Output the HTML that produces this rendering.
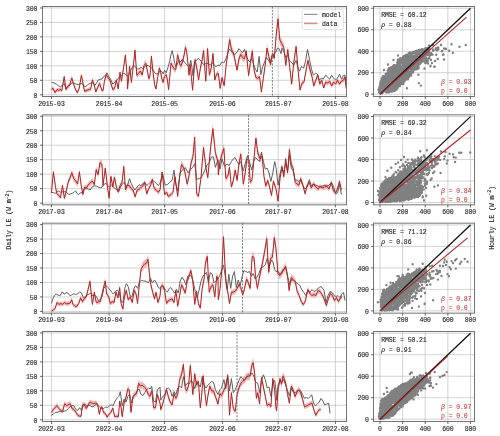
<!DOCTYPE html>
<html><head><meta charset="utf-8"><style>
html,body{margin:0;padding:0;background:#fff;width:500px;height:436px;overflow:hidden}
svg{display:block;will-change:transform}
text{font-family:"Liberation Mono", monospace;font-size:6.5px;fill:#222;stroke:#222;stroke-width:0.1px;letter-spacing:-0.12px}
</style></head><body>
<svg width="500" height="436" viewBox="0 0 500 436">
<g>
<line x1="42.5" x2="346.5" y1="94.75" y2="94.75" stroke="#b0b0b0" stroke-opacity="0.62" stroke-width="0.9"/>
<line x1="42.5" x2="346.5" y1="80.28" y2="80.28" stroke="#b0b0b0" stroke-opacity="0.62" stroke-width="0.9"/>
<line x1="42.5" x2="346.5" y1="65.82" y2="65.82" stroke="#b0b0b0" stroke-opacity="0.62" stroke-width="0.9"/>
<line x1="42.5" x2="346.5" y1="51.35" y2="51.35" stroke="#b0b0b0" stroke-opacity="0.62" stroke-width="0.9"/>
<line x1="42.5" x2="346.5" y1="36.89" y2="36.89" stroke="#b0b0b0" stroke-opacity="0.62" stroke-width="0.9"/>
<line x1="42.5" x2="346.5" y1="22.42" y2="22.42" stroke="#b0b0b0" stroke-opacity="0.62" stroke-width="0.9"/>
<line x1="42.5" x2="346.5" y1="7.96" y2="7.96" stroke="#b0b0b0" stroke-opacity="0.62" stroke-width="0.9"/>
<line x1="51.45" x2="51.45" y1="6.5" y2="96.5" stroke="#b0b0b0" stroke-opacity="0.62" stroke-width="0.9"/>
<line x1="109.1" x2="109.1" y1="6.5" y2="96.5" stroke="#b0b0b0" stroke-opacity="0.62" stroke-width="0.9"/>
<line x1="164.6" x2="164.6" y1="6.5" y2="96.5" stroke="#b0b0b0" stroke-opacity="0.62" stroke-width="0.9"/>
<line x1="222.4" x2="222.4" y1="6.5" y2="96.5" stroke="#b0b0b0" stroke-opacity="0.62" stroke-width="0.9"/>
<line x1="278.2" x2="278.2" y1="6.5" y2="96.5" stroke="#b0b0b0" stroke-opacity="0.62" stroke-width="0.9"/>
<line x1="335.4" x2="335.4" y1="6.5" y2="96.5" stroke="#b0b0b0" stroke-opacity="0.62" stroke-width="0.9"/>
<polygon points="51.4,87.3 53.0,86.0 55.0,90.7 57.0,87.5 58.8,88.2 60.6,87.3 61.8,88.8 64.2,73.9 66.0,87.5 67.8,84.0 69.6,83.1 71.8,75.3 73.8,82.5 75.6,87.5 77.4,90.7 79.2,86.3 81.4,72.4 83.0,81.2 84.6,89.4 87.0,88.2 89.4,87.3 90.6,87.5 92.4,77.2 94.2,82.5 95.8,90.1 97.8,85.0 99.6,81.0 101.4,86.9 102.0,88.8 103.2,88.2 104.4,78.7 106.2,72.2 108.0,74.9 109.8,77.5 111.0,81.2 112.8,87.5 114.6,86.3 116.4,77.5 118.2,86.9 120.0,69.3 121.4,78.7 123.6,64.2 125.4,51.3 127.2,73.7 127.6,86.9 129.6,63.0 131.4,80.0 133.4,61.7 135.0,46.2 136.8,72.7 138.6,70.5 140.4,68.0 142.2,72.2 144.0,62.3 145.8,59.8 147.6,69.3 148.8,76.2 150.0,73.1 151.4,52.5 153.0,69.3 154.6,82.5 156.0,86.9 157.8,73.7 159.4,64.9 160.8,69.9 162.0,76.8 163.2,80.0 164.4,73.7 166.2,71.8 167.4,77.5 168.6,87.5 169.8,73.7 171.0,59.8 172.8,63.6 174.6,66.1 175.8,66.8 177.6,51.0 178.8,56.0 180.0,61.7 181.2,62.3 182.4,58.6 184.2,51.0 185.4,43.2 186.6,47.2 187.8,58.6 189.0,72.4 190.2,61.1 191.4,74.9 192.6,88.2 193.8,71.2 195.0,56.0 196.8,64.9 198.6,77.5 200.4,64.9 202.2,56.0 203.6,46.6 205.0,68.6 205.8,78.7 207.6,44.5 209.4,72.4 211.2,64.9 213.0,49.7 214.8,77.5 216.6,71.2 218.4,70.5 220.2,86.3 222.0,74.9 224.2,83.5 226.0,63.2 227.9,47.8 229.7,34.9 231.5,45.9 233.4,48.8 235.2,57.5 237.0,67.1 238.9,55.5 240.7,50.7 242.6,53.6 244.4,55.5 246.2,46.9 248.6,72.9 250.4,59.4 252.3,46.9 254.1,67.1 255.9,74.8 257.8,75.8 259.6,73.8 261.4,90.2 263.3,75.8 265.1,62.3 267.0,44.0 268.8,52.6 270.6,61.3 272.5,49.8 274.3,54.6 276.1,31.5 278.0,13.2 279.8,35.3 281.6,39.2 281.8,39.2 283.8,43.4 285.8,62.0 287.8,45.4 289.7,64.1 291.7,81.7 293.7,59.9 296.1,42.3 298.0,66.2 300.0,87.9 302.0,80.7 304.0,79.6 305.9,68.2 307.9,56.8 309.9,66.2 311.9,73.4 313.8,83.8 315.8,77.6 317.8,72.4 319.8,81.7 321.7,77.6 323.7,85.9 325.7,79.6 327.7,80.7 329.6,78.6 331.6,83.8 333.6,79.6 335.6,81.7 337.5,77.6 339.5,81.7 341.5,78.6 343.5,77.6 345.0,74.5 346.4,86.9 346.4,91.1 345.0,79.8 343.5,82.6 341.5,83.6 339.5,86.4 337.5,82.6 335.6,86.4 333.6,84.5 331.6,88.3 329.6,83.6 327.7,85.4 325.7,84.5 323.7,90.1 321.7,82.6 319.8,86.4 317.8,77.9 315.8,82.6 313.8,88.3 311.9,78.9 309.9,72.3 307.9,63.9 305.9,74.2 304.0,84.5 302.0,85.4 300.0,92.0 298.0,72.3 296.1,50.7 293.7,66.7 291.7,86.4 289.7,70.4 287.8,53.6 285.8,68.6 283.8,51.7 281.8,47.9 281.6,47.9 279.8,44.4 278.0,24.4 276.1,40.9 274.3,61.8 272.5,57.5 270.6,67.9 268.8,60.1 267.0,52.2 265.1,68.8 263.3,81.0 261.4,94.1 259.6,79.3 257.8,81.0 255.9,80.1 254.1,73.2 252.3,54.9 250.4,66.2 248.6,78.4 246.2,54.9 244.4,62.7 242.6,61.0 240.7,58.3 238.9,62.7 237.0,73.2 235.2,64.4 233.4,56.6 231.5,54.0 229.7,44.0 227.9,55.7 226.0,69.7 224.2,88.0 222.0,80.3 220.2,90.5 218.4,76.3 216.6,76.8 214.8,82.5 213.0,57.5 211.2,71.1 209.4,78.0 207.6,52.7 205.8,83.7 205.0,74.6 203.6,54.6 202.2,63.2 200.4,71.1 198.6,82.5 196.8,71.1 195.0,63.2 193.8,76.8 192.6,92.2 191.4,80.3 190.2,67.7 189.0,78.0 187.8,65.4 186.6,55.2 185.4,51.5 184.2,58.6 182.4,65.4 181.2,68.9 180.0,68.3 178.8,63.2 177.6,58.6 175.8,72.8 174.6,72.3 172.8,70.0 171.0,66.6 169.8,79.1 168.6,91.7 167.4,82.5 166.2,77.4 164.4,79.1 163.2,84.8 162.0,82.0 160.8,75.7 159.4,71.1 157.8,79.1 156.0,91.1 154.6,87.1 153.0,75.1 151.4,60.0 150.0,78.5 148.8,81.4 147.6,75.1 145.8,66.6 144.0,68.9 142.2,77.8 140.4,74.0 138.6,76.3 136.8,78.2 135.0,54.3 133.4,68.3 131.4,84.8 129.6,69.4 127.6,91.1 127.2,79.1 125.4,58.8 123.6,70.6 121.4,83.7 120.0,75.1 118.2,91.1 116.4,82.5 114.6,90.5 112.8,91.7 111.0,86.0 109.8,82.5 108.0,80.3 106.2,77.8 104.4,83.7 103.2,92.2 102.0,92.8 101.4,91.1 99.6,85.7 97.8,89.4 95.8,93.9 94.2,87.1 92.4,82.3 90.6,91.7 89.4,91.4 87.0,92.2 84.6,93.4 83.0,86.0 81.4,78.0 79.2,90.5 77.4,94.5 75.6,91.7 73.8,87.1 71.8,80.6 69.6,87.7 67.8,88.5 66.0,91.7 64.2,79.3 61.8,92.8 60.6,91.4 58.8,92.2 57.0,91.7 55.0,94.5 53.0,90.3 51.4,91.4" fill="#efb8b8" stroke="none"/>
<polyline points="51.4,82.2 54.0,83.0 56.4,84.2 58.8,86.0 60.6,86.8 62.4,85.4 64.2,83.6 66.0,89.0 67.8,86.2 69.6,85.4 71.8,83.0 73.8,83.0 76.2,84.2 78.6,84.6 81.0,83.4 83.4,84.8 85.2,87.0 87.6,84.8 90.0,83.4 92.4,82.6 94.8,85.4 96.6,83.0 98.4,79.8 100.2,79.4 102.0,79.0 103.8,76.4 105.6,75.4 107.0,72.8 108.6,76.4 110.4,78.8 112.8,84.2 114.6,82.4 116.4,80.0 118.2,78.8 120.0,76.4 121.8,75.0 123.6,73.4 125.4,74.0 127.2,76.4 129.0,74.6 130.8,70.4 132.6,66.8 133.8,65.4 135.6,67.0 137.4,69.2 139.2,68.6 141.0,67.4 142.8,68.6 144.6,66.8 146.4,65.4 148.2,65.6 150.0,66.8 151.8,68.0 153.6,71.0 155.4,73.4 157.2,74.0 159.0,72.2 160.8,71.0 162.0,71.6 163.2,74.0 164.6,70.2 166.2,72.8 168.0,67.4 169.8,60.8 171.0,54.6 172.2,50.6 173.4,56.0 174.6,62.6 175.8,66.8 177.0,65.0 178.8,60.2 180.6,62.0 182.4,59.0 184.2,62.0 186.0,63.8 187.8,65.6 189.4,66.2 190.8,60.2 192.0,68.0 193.0,75.8 194.4,62.0 196.2,60.8 198.0,58.4 199.8,59.6 201.6,62.0 203.4,64.4 205.2,63.8 207.0,63.2 208.8,63.8 210.6,65.0 212.4,62.6 214.2,65.0 216.0,66.8 217.8,65.0 219.6,65.6 222.0,62.0 223.8,62.8 225.7,59.1 227.5,54.5 229.3,49.0 231.2,50.9 233.0,53.6 234.8,54.5 236.7,52.7 238.9,48.7 240.7,50.5 242.6,52.7 244.4,49.4 246.2,55.4 248.1,60.0 249.9,61.9 251.7,58.2 253.6,64.6 255.4,69.2 257.2,72.0 259.1,56.4 260.9,74.7 262.7,66.5 264.6,61.9 266.4,57.3 268.2,60.0 270.1,62.8 271.9,55.4 273.7,54.5 275.6,52.7 277.4,48.1 279.2,49.0 281.1,53.6 282.0,48.1 283.8,51.5 285.8,57.4 287.8,55.4 289.7,61.3 291.7,62.3 293.7,65.3 296.1,60.4 297.6,66.3 299.6,71.2 301.6,66.3 303.6,68.3 305.5,61.3 307.5,49.5 309.5,59.4 311.5,69.2 313.4,75.2 315.4,73.2 317.4,74.2 319.4,80.1 321.3,78.1 323.3,79.1 325.7,75.2 327.7,77.1 329.6,79.1 331.6,75.2 333.6,78.1 335.6,80.1 337.5,78.1 339.5,74.2 341.5,79.1 343.5,75.2 345.0,75.2 346.4,88.0" fill="none" stroke="#5e5e5e" stroke-width="1.0" stroke-linejoin="round"/>
<polyline points="51.4,89.4 53.0,88.2 55.0,92.6 57.0,89.6 58.8,90.2 60.6,89.4 61.8,90.8 64.2,76.6 66.0,89.6 67.8,86.2 69.6,85.4 71.8,78.0 73.8,84.8 75.6,89.6 77.4,92.6 79.2,88.4 81.4,75.2 83.0,83.6 84.6,91.4 87.0,90.2 89.4,89.4 90.6,89.6 92.4,79.8 94.2,84.8 95.8,92.0 97.8,87.2 99.6,83.4 101.4,89.0 102.0,90.8 103.2,90.2 104.4,81.2 106.2,75.0 108.0,77.6 109.8,80.0 111.0,83.6 112.8,89.6 114.6,88.4 116.4,80.0 118.2,89.0 120.0,72.2 121.4,81.2 123.6,67.4 125.4,55.0 127.2,76.4 127.6,89.0 129.6,66.2 131.4,82.4 133.4,65.0 135.0,50.2 136.8,75.4 138.6,73.4 140.4,71.0 142.2,75.0 144.0,65.6 145.8,63.2 147.6,72.2 148.8,78.8 150.0,75.8 151.4,56.2 153.0,72.2 154.6,84.8 156.0,89.0 157.8,76.4 159.4,68.0 160.8,72.8 162.0,79.4 163.2,82.4 164.4,76.4 166.2,74.6 167.4,80.0 168.6,89.6 169.8,76.4 171.0,63.2 172.8,66.8 174.6,69.2 175.8,69.8 177.6,54.8 178.8,59.6 180.0,65.0 181.2,65.6 182.4,62.0 184.2,54.8 185.4,47.4 186.6,51.2 187.8,62.0 189.0,75.2 190.2,64.4 191.4,77.6 192.6,90.2 193.8,74.0 195.0,59.6 196.8,68.0 198.6,80.0 200.4,68.0 202.2,59.6 203.6,50.6 205.0,71.6 205.8,81.2 207.6,48.6 209.4,75.2 211.2,68.0 213.0,53.6 214.8,80.0 216.6,74.0 218.4,73.4 220.2,88.4 222.0,77.6 224.2,85.7 226.0,66.5 227.9,51.8 229.7,39.5 231.5,49.9 233.4,52.7 235.2,61.0 237.0,70.1 238.9,59.1 240.7,54.5 242.6,57.3 244.4,59.1 246.2,50.9 248.6,75.6 250.4,62.8 252.3,50.9 254.1,70.1 255.9,77.5 257.8,78.4 259.6,76.6 261.4,92.1 263.3,78.4 265.1,65.5 267.0,48.1 268.8,56.4 270.6,64.6 272.5,53.6 274.3,58.2 276.1,36.2 278.0,18.8 279.8,39.9 281.6,43.5 281.8,43.6 283.8,47.5 285.8,65.3 287.8,49.5 289.7,67.3 291.7,84.1 293.7,63.3 296.1,46.5 298.0,69.2 300.0,90.0 302.0,83.1 304.0,82.1 305.9,71.2 307.9,60.4 309.9,69.2 311.9,76.2 313.8,86.0 315.8,80.1 317.8,75.2 319.8,84.1 321.7,80.1 323.7,88.0 325.7,82.1 327.7,83.1 329.6,81.1 331.6,86.0 333.6,82.1 335.6,84.1 337.5,80.1 339.5,84.1 341.5,81.1 343.5,80.1 345.0,77.1 346.4,89.0" fill="none" stroke="#b22222" stroke-width="1.0" stroke-linejoin="round"/>
<line x1="272.4" x2="272.4" y1="6.5" y2="96.5" stroke="#6a6a6a" stroke-width="0.9" stroke-dasharray="2.0,1.35"/>
<rect x="42.5" y="6.5" width="304" height="90" fill="none" stroke="#747474" stroke-width="1.0"/>
<line x1="40.0" x2="42.5" y1="94.75" y2="94.75" stroke="#4a4a4a" stroke-width="0.85"/>
<text x="37.4" y="97.55" text-anchor="end">0</text>
<line x1="40.0" x2="42.5" y1="80.28" y2="80.28" stroke="#4a4a4a" stroke-width="0.85"/>
<text x="37.4" y="83.08" text-anchor="end">50</text>
<line x1="40.0" x2="42.5" y1="65.82" y2="65.82" stroke="#4a4a4a" stroke-width="0.85"/>
<text x="37.4" y="68.62" text-anchor="end">100</text>
<line x1="40.0" x2="42.5" y1="51.35" y2="51.35" stroke="#4a4a4a" stroke-width="0.85"/>
<text x="37.4" y="54.15" text-anchor="end">150</text>
<line x1="40.0" x2="42.5" y1="36.89" y2="36.89" stroke="#4a4a4a" stroke-width="0.85"/>
<text x="37.4" y="39.69" text-anchor="end">200</text>
<line x1="40.0" x2="42.5" y1="22.42" y2="22.42" stroke="#4a4a4a" stroke-width="0.85"/>
<text x="37.4" y="25.22" text-anchor="end">250</text>
<line x1="40.0" x2="42.5" y1="7.96" y2="7.96" stroke="#4a4a4a" stroke-width="0.85"/>
<text x="37.4" y="10.76" text-anchor="end">300</text>
<line x1="51.45" x2="51.45" y1="96.5" y2="99" stroke="#4a4a4a" stroke-width="0.85"/>
<text x="51.45" y="105.8" text-anchor="middle">2015-03</text>
<line x1="109.1" x2="109.1" y1="96.5" y2="99" stroke="#4a4a4a" stroke-width="0.85"/>
<text x="109.1" y="105.8" text-anchor="middle">2015-04</text>
<line x1="164.6" x2="164.6" y1="96.5" y2="99" stroke="#4a4a4a" stroke-width="0.85"/>
<text x="164.6" y="105.8" text-anchor="middle">2015-05</text>
<line x1="222.4" x2="222.4" y1="96.5" y2="99" stroke="#4a4a4a" stroke-width="0.85"/>
<text x="222.4" y="105.8" text-anchor="middle">2015-06</text>
<line x1="278.2" x2="278.2" y1="96.5" y2="99" stroke="#4a4a4a" stroke-width="0.85"/>
<text x="278.2" y="105.8" text-anchor="middle">2015-07</text>
<line x1="335.4" x2="335.4" y1="96.5" y2="99" stroke="#4a4a4a" stroke-width="0.85"/>
<text x="335.4" y="105.8" text-anchor="middle">2015-08</text>
</g>
<g>
<line x1="373.5" x2="474.5" y1="94.2" y2="94.2" stroke="#b0b0b0" stroke-opacity="0.62" stroke-width="0.9"/>
<line x1="380" x2="380" y1="6.5" y2="96.5" stroke="#b0b0b0" stroke-opacity="0.62" stroke-width="0.9"/>
<line x1="373.5" x2="474.5" y1="72.72" y2="72.72" stroke="#b0b0b0" stroke-opacity="0.62" stroke-width="0.9"/>
<line x1="402.62" x2="402.62" y1="6.5" y2="96.5" stroke="#b0b0b0" stroke-opacity="0.62" stroke-width="0.9"/>
<line x1="373.5" x2="474.5" y1="51.24" y2="51.24" stroke="#b0b0b0" stroke-opacity="0.62" stroke-width="0.9"/>
<line x1="425.24" x2="425.24" y1="6.5" y2="96.5" stroke="#b0b0b0" stroke-opacity="0.62" stroke-width="0.9"/>
<line x1="373.5" x2="474.5" y1="29.76" y2="29.76" stroke="#b0b0b0" stroke-opacity="0.62" stroke-width="0.9"/>
<line x1="447.86" x2="447.86" y1="6.5" y2="96.5" stroke="#b0b0b0" stroke-opacity="0.62" stroke-width="0.9"/>
<line x1="373.5" x2="474.5" y1="8.28" y2="8.28" stroke="#b0b0b0" stroke-opacity="0.62" stroke-width="0.9"/>
<line x1="470.48" x2="470.48" y1="6.5" y2="96.5" stroke="#b0b0b0" stroke-opacity="0.62" stroke-width="0.9"/>
<path d="M380.5 91.1h0M398.6 60.6h0M402.3 83.3h0M389.6 86.6h0M392.4 67.4h0M409.3 59.7h0M410.7 62.3h0M400.3 69.1h0M418.4 57.8h0M408.5 74.0h0M387.8 82.4h0M414.9 56.2h0M387.6 84.6h0M386.3 76.9h0M381.7 91.8h0M411.4 68.7h0M406.0 55.0h0M393.9 80.3h0M399.6 78.4h0M399.6 84.7h0M409.4 54.0h0M405.5 55.9h0M394.5 76.1h0M386.0 74.1h0M383.1 76.1h0M386.3 82.6h0M388.2 91.9h0M384.0 86.3h0M384.8 90.3h0M409.6 55.5h0M396.7 88.6h0M378.5 89.9h0M408.7 66.3h0M396.0 89.6h0M394.2 87.4h0M419.1 50.0h0M388.1 75.6h0M422.8 59.6h0M416.3 57.6h0M398.5 79.3h0M407.6 59.1h0M410.8 62.1h0M388.6 73.0h0M404.1 67.5h0M405.6 76.6h0M390.4 76.9h0M384.5 76.8h0M386.5 86.4h0M392.6 68.7h0M396.9 71.1h0M401.9 80.3h0M382.2 78.3h0M410.1 53.5h0M399.5 59.1h0M395.8 72.1h0M425.3 63.1h0M402.1 71.0h0M395.5 77.0h0M397.0 67.1h0M388.3 76.5h0M395.4 89.8h0M413.8 62.1h0M407.8 59.4h0M404.2 73.9h0M406.8 55.3h0M406.0 76.7h0M402.4 61.9h0M406.3 73.8h0M381.9 81.8h0M424.6 54.4h0M380.8 93.6h0M407.5 78.1h0M402.4 73.2h0M387.6 89.8h0M383.7 89.3h0M414.1 61.7h0M397.3 82.2h0M410.8 72.8h0M387.9 84.6h0M388.1 73.4h0M408.4 54.7h0M400.2 80.6h0M405.4 66.3h0M390.7 79.0h0M408.5 70.8h0M432.9 49.4h0M395.0 77.9h0M416.9 55.1h0M383.4 89.2h0M415.6 66.9h0M396.1 79.2h0M428.1 54.3h0M394.0 65.1h0M395.3 81.2h0M401.4 71.2h0M397.9 60.2h0M406.0 67.5h0M381.6 87.8h0M380.7 90.8h0M411.5 70.8h0M426.1 51.8h0M405.4 74.5h0M415.0 52.5h0M380.7 92.7h0M412.5 65.6h0M412.8 67.9h0M398.0 84.3h0M390.9 88.6h0M380.9 82.6h0M414.9 56.6h0M412.0 55.2h0M425.4 56.9h0M401.8 81.2h0M404.1 56.6h0M423.2 55.5h0M437.9 47.7h0M388.9 81.5h0M425.7 55.6h0M406.2 77.8h0M380.3 83.2h0M398.3 80.2h0M396.2 77.1h0M405.1 68.1h0M412.9 52.5h0M402.9 81.5h0M417.8 50.8h0M395.3 73.3h0M394.1 81.8h0M381.2 82.9h0M410.1 55.3h0M424.5 59.5h0M397.7 85.4h0M394.4 75.2h0M401.7 63.3h0M394.2 74.0h0M423.5 49.7h0M417.2 67.5h0M389.4 77.1h0M397.5 79.4h0M387.1 88.9h0M403.1 64.1h0M409.3 75.8h0M388.1 79.9h0M397.1 62.5h0M389.5 74.7h0M416.3 59.7h0M386.9 86.1h0M380.1 85.0h0M387.9 71.8h0M412.6 71.2h0M425.9 48.3h0M404.8 66.8h0M397.0 65.3h0M393.2 66.1h0M380.4 92.3h0M412.2 71.9h0M390.0 76.6h0M388.7 81.0h0M422.9 59.1h0M381.5 92.6h0M409.2 66.8h0M399.8 81.5h0M384.0 77.7h0M403.6 82.2h0M400.8 62.0h0M397.3 73.2h0M424.5 59.5h0M396.1 80.9h0M406.5 75.4h0M402.7 61.8h0M418.4 57.0h0M429.1 50.7h0M390.0 72.2h0M400.6 80.9h0M411.3 64.4h0M402.6 81.5h0M416.8 60.4h0M381.7 86.2h0M382.8 88.0h0M399.6 68.0h0M418.0 65.2h0M402.0 80.3h0M386.0 76.9h0M394.5 77.2h0M427.1 50.6h0M410.2 61.5h0M389.7 82.4h0M400.6 76.7h0M399.7 67.9h0M384.9 90.0h0M414.5 68.9h0M410.0 64.9h0M411.9 72.3h0M397.4 86.7h0M384.4 77.4h0M397.4 70.3h0M382.1 85.6h0M419.4 57.3h0M392.0 86.8h0M399.7 63.4h0M387.2 88.1h0M401.1 83.7h0M426.3 61.3h0M411.8 58.1h0M395.1 89.4h0M401.9 58.7h0M399.7 66.4h0M394.5 87.9h0M391.9 69.0h0M407.8 57.4h0M403.1 64.0h0M394.5 66.9h0M407.0 74.0h0M384.2 87.6h0M398.4 83.5h0M409.3 67.3h0M418.7 62.1h0M385.1 76.2h0M391.9 69.0h0M412.2 57.8h0M419.9 64.1h0M389.6 83.1h0M385.9 90.4h0M384.3 84.4h0M408.0 71.8h0M406.7 74.1h0M406.8 58.6h0M394.4 68.8h0M383.2 82.2h0M383.1 85.2h0M387.4 80.6h0M402.9 81.0h0M397.7 82.7h0M390.5 81.0h0M401.2 70.8h0M404.5 78.5h0M384.7 86.6h0M411.1 60.6h0M400.2 76.5h0M399.5 65.3h0M405.3 75.7h0M416.7 57.0h0M389.1 76.2h0M400.2 61.5h0M400.4 71.4h0M394.0 69.7h0M410.3 67.7h0M422.4 51.6h0M397.3 65.3h0M427.9 48.0h0M384.5 87.4h0M410.7 74.2h0M409.7 75.6h0M387.9 84.0h0M384.5 85.3h0M394.9 83.5h0M417.0 55.6h0M394.6 65.3h0M416.1 57.9h0M401.8 82.5h0M402.5 75.0h0M393.8 76.4h0M397.9 82.3h0M393.7 81.2h0M404.3 74.8h0M382.7 76.9h0M408.2 77.5h0M416.0 63.3h0M416.5 61.3h0M412.3 69.4h0M392.9 83.4h0M398.9 74.4h0M395.3 69.2h0M428.0 58.7h0M405.4 71.1h0M421.2 59.0h0M399.0 84.2h0M401.4 61.8h0M392.7 71.6h0M418.3 67.2h0M415.2 64.6h0M422.0 60.8h0M421.5 51.3h0M416.4 56.9h0M418.8 62.7h0M409.1 64.0h0M415.3 51.3h0M386.0 89.6h0M396.0 89.1h0M411.9 58.5h0M383.4 82.8h0M394.7 69.7h0M398.1 79.6h0M425.1 61.0h0M401.9 69.6h0M387.0 75.3h0M386.5 91.8h0M400.5 83.7h0M399.7 85.4h0M417.7 62.9h0M426.9 53.0h0M398.6 62.9h0M394.0 89.0h0M408.3 68.0h0M403.9 58.0h0M411.4 55.3h0M388.5 74.9h0M399.9 61.8h0M404.1 66.7h0M397.2 75.0h0M396.5 87.3h0M428.0 54.1h0M379.9 90.5h0M400.6 83.8h0M388.0 76.4h0M414.0 61.0h0M408.2 58.8h0M403.8 61.6h0M413.3 64.8h0M401.5 58.2h0M389.7 71.5h0M411.6 64.4h0M394.8 77.5h0M392.0 91.2h0M405.5 75.3h0M400.1 85.1h0M405.4 64.3h0M404.1 64.3h0M422.9 60.3h0M401.1 73.5h0M428.5 50.4h0M388.4 69.1h0M400.7 66.0h0M407.8 65.5h0M395.7 79.5h0M392.8 88.4h0M385.1 81.8h0M389.5 86.6h0M397.0 79.6h0M408.2 57.7h0M386.1 88.6h0M388.8 92.2h0M382.7 83.7h0M413.3 65.1h0M415.0 53.1h0M425.7 60.3h0M397.9 82.8h0M395.2 77.1h0M386.3 90.4h0M417.0 50.6h0M422.7 56.1h0M397.3 80.1h0M398.7 60.7h0M405.9 67.2h0M396.8 85.8h0M405.4 73.6h0M387.2 84.1h0M420.2 59.2h0M403.6 78.9h0M414.6 69.6h0M422.6 51.5h0M405.8 72.2h0M409.3 60.5h0M384.2 84.3h0M411.4 59.3h0M404.5 63.2h0M383.2 80.2h0M414.1 65.8h0M418.1 57.0h0M414.3 63.8h0M431.1 54.7h0M405.2 70.5h0M419.0 64.5h0M400.5 59.7h0M379.3 90.0h0M404.0 76.2h0M400.9 76.7h0M389.9 78.4h0M389.3 78.1h0M411.6 58.4h0M423.4 54.8h0M407.5 68.0h0M397.1 72.3h0M411.5 63.0h0M408.4 62.2h0M394.6 90.4h0M384.3 88.6h0M399.7 68.0h0M401.2 61.2h0M392.8 87.7h0M403.9 61.3h0M415.1 63.4h0M383.6 88.4h0M389.8 70.2h0M381.6 78.9h0M379.6 86.6h0M391.8 90.4h0M402.0 75.4h0M393.0 70.3h0M390.1 86.6h0M389.4 81.3h0M412.3 67.8h0M420.0 63.1h0M382.7 83.2h0M406.3 68.9h0M400.5 62.6h0M428.2 49.2h0M403.5 74.9h0M403.8 73.3h0M411.6 64.8h0M390.4 70.6h0M398.1 80.3h0M388.2 88.9h0M409.8 66.4h0M416.6 61.5h0M400.2 80.8h0M392.8 84.2h0M419.7 55.0h0M394.8 83.9h0M396.8 78.3h0M402.4 63.7h0M402.8 72.9h0M401.1 80.3h0M403.5 72.3h0M394.9 88.9h0M403.6 72.3h0M390.8 86.3h0M412.2 67.9h0M409.0 56.4h0M396.9 78.6h0M394.1 73.0h0M399.3 81.6h0M418.3 60.2h0M422.5 61.4h0M409.2 61.3h0M412.7 67.9h0M409.2 74.1h0M389.9 76.7h0M413.0 66.6h0M388.7 71.3h0M398.6 68.6h0M418.0 53.8h0M414.3 62.2h0M386.6 76.3h0M386.9 86.5h0M391.4 70.3h0M396.7 72.2h0M391.5 89.9h0M392.5 91.1h0M389.1 85.7h0M400.4 70.3h0M421.9 55.7h0M403.0 61.1h0M420.2 55.7h0M414.4 51.6h0M401.2 62.2h0M389.6 76.3h0M399.4 64.2h0M396.2 83.6h0M403.7 57.3h0M404.5 65.8h0M405.7 66.2h0M430.8 53.3h0M393.8 89.2h0M388.7 92.2h0M386.4 74.8h0M392.8 70.6h0M404.9 62.0h0M427.7 60.7h0M411.1 64.4h0M393.4 65.6h0M396.3 85.8h0M416.6 53.2h0M426.4 54.8h0M383.7 87.0h0M408.4 54.5h0M399.3 68.9h0M401.1 82.1h0M390.8 69.5h0M415.4 62.5h0M393.2 86.5h0M416.1 60.0h0M403.7 56.8h0M380.6 88.0h0M391.4 73.2h0M411.6 67.7h0M416.1 60.3h0M391.3 84.1h0M412.0 59.3h0M399.5 80.1h0M407.8 78.4h0M390.3 75.5h0M394.9 77.0h0M382.5 81.2h0M412.5 52.3h0M398.5 86.1h0M385.2 81.6h0M426.9 51.0h0M409.0 68.5h0M389.4 71.4h0M408.1 58.4h0M416.7 53.2h0M379.9 90.3h0M409.3 62.1h0M390.0 88.2h0M392.2 69.2h0M394.6 90.9h0M403.1 75.0h0M410.8 69.8h0M382.1 78.5h0M402.6 75.4h0M417.8 64.4h0M396.3 77.5h0M426.4 62.6h0M381.9 91.5h0M413.3 60.1h0M433.3 50.4h0M417.6 68.7h0M381.1 85.0h0M410.6 62.2h0M411.7 72.0h0M391.1 81.9h0M394.1 81.9h0M391.5 73.9h0M403.2 67.8h0M394.7 71.4h0M385.0 85.6h0M394.8 67.9h0M400.3 60.0h0M398.5 63.6h0M403.5 58.9h0M413.0 72.4h0M436.6 50.2h0M381.2 83.7h0M387.7 81.6h0M385.4 88.3h0M399.3 70.7h0M422.8 52.7h0M416.6 62.1h0M387.5 73.9h0M410.1 75.4h0M400.2 58.4h0M388.1 86.4h0M410.5 64.6h0M403.4 78.3h0M418.3 62.6h0M411.8 54.1h0M394.6 89.8h0M394.8 76.3h0M383.0 83.5h0M407.3 68.9h0M416.9 68.7h0M390.8 71.1h0M412.7 71.1h0M407.0 76.5h0M413.8 63.5h0M386.6 80.9h0M391.4 72.8h0M397.3 69.8h0M405.4 77.6h0M399.9 86.0h0M402.4 80.8h0M414.1 67.9h0M393.0 83.3h0M392.6 86.0h0M388.9 73.0h0M395.9 68.6h0M386.5 85.2h0M393.4 68.9h0M417.3 66.6h0M425.8 52.7h0M402.5 76.9h0M410.2 61.1h0M382.4 93.1h0M393.2 81.9h0M388.4 77.9h0M391.2 91.0h0M387.4 78.7h0M411.9 64.3h0M396.6 88.7h0M386.2 78.2h0M392.5 89.9h0M389.9 77.1h0M406.4 62.5h0M406.8 64.6h0M392.9 84.6h0M389.3 78.1h0M393.9 74.9h0M399.1 75.2h0M393.0 69.9h0M404.7 78.0h0M405.5 70.9h0M415.9 68.2h0M391.8 80.8h0M382.6 79.3h0M392.0 71.4h0M406.1 67.2h0M421.1 57.4h0M402.0 83.0h0M422.0 61.0h0M406.3 78.9h0M397.6 64.0h0M405.3 67.4h0M407.4 59.3h0M397.0 76.2h0M424.8 48.7h0M408.7 73.2h0M387.4 90.0h0M404.9 70.6h0M416.2 58.4h0M407.8 79.4h0M396.2 74.5h0M422.7 58.7h0M406.2 62.8h0M383.6 78.9h0M409.3 65.3h0M386.9 73.7h0M392.2 72.6h0M391.7 69.3h0M420.6 61.3h0M399.7 79.8h0M398.2 76.1h0M409.3 64.9h0M388.8 79.8h0M399.5 66.4h0M405.6 77.4h0M390.2 83.1h0M379.8 89.1h0M384.1 76.7h0M410.1 58.2h0M382.2 85.1h0M407.8 70.6h0M415.0 60.8h0M402.7 77.3h0M406.5 76.7h0M422.0 61.6h0M386.4 87.5h0M406.3 78.7h0M403.0 61.4h0M427.1 55.0h0M398.5 68.1h0M391.3 78.0h0M380.4 90.4h0M405.9 59.3h0M421.0 57.6h0M416.6 58.1h0M397.9 59.7h0M402.6 80.5h0M383.7 84.5h0M385.7 75.0h0M421.6 57.3h0M419.1 61.8h0M409.9 55.4h0M414.2 61.8h0M397.2 79.8h0M383.9 83.3h0M409.6 75.9h0M424.2 57.2h0M405.1 76.7h0M407.7 59.8h0M405.1 61.9h0M400.9 62.8h0M392.2 81.2h0M398.3 70.6h0M380.9 88.4h0M414.8 69.5h0M395.0 84.9h0M412.6 56.0h0M396.5 66.4h0M408.1 74.1h0M400.4 68.1h0M396.2 76.3h0M411.2 75.4h0M384.9 79.5h0M396.3 82.6h0M411.9 61.5h0M415.6 63.6h0M422.2 52.8h0M413.9 61.4h0M399.3 75.9h0M402.8 76.9h0M386.0 78.1h0M398.6 74.0h0M426.0 51.5h0M417.3 53.3h0M391.6 76.4h0M396.5 82.3h0M395.2 73.3h0M388.0 73.7h0M399.8 72.8h0M395.4 73.5h0M420.6 61.5h0M406.5 58.8h0M386.9 80.1h0M412.7 58.5h0M414.8 62.9h0M384.4 86.7h0M385.6 80.9h0M382.1 91.1h0M383.4 90.2h0M414.3 68.2h0M402.1 62.6h0M397.8 69.7h0M423.3 58.8h0M381.7 92.0h0M394.8 65.1h0M413.2 58.4h0M411.3 66.0h0M411.8 70.6h0M404.4 79.5h0M387.7 72.4h0M401.3 68.4h0M399.1 70.5h0M393.8 68.1h0M411.5 67.6h0M406.5 57.2h0M399.2 70.3h0M380.6 84.8h0M411.1 67.2h0M426.3 49.5h0M431.2 53.2h0M398.4 66.4h0M398.5 68.1h0M397.4 87.7h0M407.6 74.4h0M380.5 82.8h0M429.3 57.8h0M398.9 61.6h0M399.4 68.8h0M403.8 59.7h0M418.5 51.8h0M405.6 65.2h0M403.3 59.1h0M398.6 65.3h0M396.4 83.5h0M380.0 88.9h0M415.4 66.6h0M411.5 66.3h0M412.6 59.3h0M421.3 55.5h0M428.0 49.4h0M425.1 61.7h0M389.1 67.9h0M407.0 61.8h0M419.7 52.7h0M394.3 89.8h0M419.1 64.4h0M429.4 49.2h0M420.9 60.5h0M404.1 55.9h0M390.0 82.5h0M423.2 50.0h0M385.5 91.5h0M395.4 85.4h0M391.4 76.8h0M388.3 80.1h0M403.3 72.6h0M392.6 74.9h0M416.4 66.3h0M410.4 54.0h0M405.1 72.2h0M406.8 75.8h0M411.5 56.9h0M413.1 59.8h0M391.5 88.8h0M399.8 65.0h0M404.5 59.5h0M389.8 72.1h0M422.7 53.2h0M393.4 65.8h0M387.7 75.5h0M380.7 81.9h0M414.7 64.3h0M380.8 82.0h0M389.0 77.3h0M426.3 60.5h0M404.7 78.8h0M395.9 74.8h0M386.3 88.5h0M393.1 79.8h0M412.9 69.3h0M394.4 78.0h0M417.3 55.0h0M406.0 57.7h0M421.6 55.6h0M399.9 71.6h0M391.7 89.4h0M401.6 68.8h0M386.7 77.7h0M380.5 92.3h0M428.2 49.9h0M379.1 92.5h0M378.7 89.8h0M410.7 53.1h0M432.7 54.6h0M399.7 60.6h0M400.2 83.8h0M402.5 66.2h0M390.9 69.3h0M405.1 61.4h0M388.5 89.4h0M396.0 79.2h0M402.7 75.5h0M416.1 55.8h0M411.0 68.3h0M407.4 74.5h0M396.8 75.8h0M412.2 72.0h0M402.3 68.0h0M398.5 66.4h0M388.3 83.7h0M385.7 89.0h0M421.6 56.5h0M396.5 75.9h0M384.3 85.3h0M384.6 89.2h0M411.5 67.8h0M385.6 81.9h0M409.8 66.0h0M384.4 88.5h0M390.8 91.5h0M413.3 67.8h0M390.9 87.2h0M397.7 86.9h0M382.4 87.4h0M395.1 74.8h0M403.1 58.0h0M402.9 67.0h0M421.7 55.3h0M403.0 77.4h0M407.2 71.2h0M407.4 60.6h0M407.4 76.5h0M397.4 76.5h0M394.8 82.9h0M389.5 88.0h0M390.5 75.5h0M394.9 65.1h0M422.2 60.0h0M414.3 57.2h0M411.6 61.8h0M413.8 52.8h0M396.2 82.9h0M396.7 75.9h0M382.0 81.8h0M410.9 73.8h0M394.7 88.2h0M383.9 85.5h0M393.9 84.6h0M392.7 77.7h0M384.4 90.4h0M405.9 54.9h0M380.8 81.2h0M403.7 61.4h0M398.3 85.0h0M389.5 75.0h0M406.1 68.2h0M421.6 49.4h0M413.3 56.0h0M398.1 76.9h0M383.7 81.8h0M426.6 62.5h0M391.4 67.6h0M429.0 55.0h0M404.5 81.3h0M397.2 80.2h0M391.9 75.6h0M408.2 57.4h0M406.2 73.0h0M412.6 55.7h0M392.5 69.7h0M415.0 61.1h0M395.6 88.4h0M418.8 67.4h0M407.1 71.7h0M402.2 62.2h0M404.4 64.1h0M392.2 73.9h0M419.8 50.0h0M396.5 82.2h0M425.5 56.2h0M416.3 54.7h0M388.8 86.5h0M396.3 75.0h0M386.8 75.4h0M397.3 72.7h0M406.9 68.9h0M419.0 57.4h0M394.7 79.2h0M402.9 60.9h0M394.7 88.8h0M390.7 73.7h0M384.0 81.6h0M386.7 92.5h0M390.7 71.8h0M397.7 87.3h0M435.7 49.4h0M398.9 78.8h0M395.9 85.7h0M388.1 76.8h0M386.6 83.5h0M429.3 58.4h0M397.2 76.3h0M407.0 61.9h0M392.4 73.5h0M383.1 87.6h0M405.1 60.2h0M385.7 74.0h0M413.2 71.8h0M388.4 89.6h0M421.4 61.1h0M414.7 52.3h0M425.6 57.7h0M401.7 74.3h0M383.5 81.7h0M391.5 87.8h0M397.2 88.6h0M409.9 66.2h0M415.9 56.4h0M396.7 82.0h0M407.0 60.2h0M381.4 85.2h0M406.3 57.9h0M402.7 80.2h0M388.2 78.2h0M425.7 51.6h0M384.5 76.9h0M390.1 82.2h0M421.8 59.7h0M407.0 71.6h0M401.8 63.3h0M399.3 64.5h0M404.8 62.3h0M403.8 59.2h0M405.1 80.1h0M394.4 90.2h0M403.1 60.4h0M394.5 84.0h0M393.1 85.6h0M403.1 78.5h0M400.8 60.2h0M393.5 69.0h0M404.5 76.7h0M407.5 73.0h0M399.7 75.4h0M399.7 72.6h0M381.3 86.8h0M390.2 69.2h0M402.2 69.6h0M381.2 87.2h0M379.3 90.8h0M421.1 50.2h0M406.3 61.6h0M420.0 52.6h0M402.8 73.3h0M424.8 56.7h0M388.4 84.8h0M424.2 50.7h0M435.9 48.3h0M388.3 89.6h0M419.5 60.3h0M385.3 77.3h0M426.3 54.0h0M396.0 89.5h0M429.2 50.8h0M411.8 69.5h0M421.0 62.6h0M429.0 53.0h0M386.2 73.6h0M389.0 86.6h0M425.2 51.1h0M424.2 54.9h0M406.6 76.9h0M411.0 55.6h0M390.5 80.6h0M395.4 83.7h0M393.8 84.4h0M391.7 67.4h0M399.8 64.0h0M395.3 70.3h0M397.1 87.8h0M384.5 85.4h0M412.7 67.9h0M403.3 67.9h0M389.9 69.1h0M404.4 77.4h0M408.8 74.6h0M397.1 75.0h0M411.6 57.5h0M383.8 82.4h0M395.1 76.9h0M409.3 59.8h0M418.8 51.2h0M385.6 82.8h0M390.8 69.1h0M407.8 55.0h0M403.9 63.8h0M423.5 56.7h0M385.7 90.9h0M403.1 70.7h0M412.3 70.3h0M415.2 67.4h0M402.4 66.7h0M423.1 61.3h0M438.4 49.2h0M400.5 68.1h0M381.8 84.0h0M398.8 74.5h0M397.8 79.1h0M392.6 73.4h0M388.9 73.7h0M383.5 91.5h0M394.6 79.2h0M399.7 81.6h0M393.6 84.4h0M390.1 74.6h0M395.4 71.1h0M392.3 85.0h0M402.5 66.3h0M408.7 77.5h0M415.5 58.6h0M389.8 88.7h0M395.9 79.1h0M420.1 55.6h0M401.9 68.1h0M387.3 88.3h0M412.2 53.3h0M401.5 78.5h0M389.6 79.3h0M427.5 48.8h0M394.6 81.4h0M395.9 81.6h0M408.6 53.3h0M421.2 50.3h0M397.7 87.5h0M410.5 55.8h0M415.2 52.2h0M412.3 70.4h0M388.9 81.7h0M386.4 91.6h0M382.0 90.9h0M409.9 54.8h0M403.6 68.2h0M394.0 88.0h0M392.9 78.2h0M403.7 58.7h0M400.6 77.1h0M396.5 67.1h0M401.7 67.9h0M379.4 87.4h0M414.0 57.0h0M405.7 61.8h0M406.7 66.0h0M407.2 60.2h0M408.0 62.0h0M401.7 63.3h0M401.2 82.8h0M417.8 52.2h0M392.8 80.2h0M396.5 73.3h0M403.4 81.0h0M388.2 86.6h0M429.6 55.8h0M419.8 60.1h0M388.7 87.4h0M399.8 58.7h0M407.0 57.0h0M392.4 83.8h0M405.4 61.2h0M405.7 56.3h0M416.4 58.1h0M392.3 81.0h0M416.0 62.9h0M412.8 56.3h0M384.9 82.3h0M395.0 82.0h0M410.8 68.0h0M403.5 62.9h0M410.1 72.3h0M423.1 54.2h0M400.1 70.4h0M384.1 77.4h0M406.6 79.3h0M412.8 61.7h0M393.7 80.2h0M403.2 76.3h0M397.2 82.7h0M393.2 75.6h0M403.1 77.3h0M392.8 79.4h0M398.6 86.0h0M392.8 91.0h0M408.8 58.4h0M396.5 89.5h0M418.4 68.2h0M392.5 90.6h0M419.3 60.4h0M418.7 53.5h0M422.0 49.1h0M397.5 86.2h0M408.4 63.4h0M388.5 78.1h0M392.4 75.1h0M425.0 49.3h0M386.2 79.2h0M404.5 68.0h0M387.2 74.0h0M398.5 71.4h0M396.9 86.4h0M382.6 78.3h0M400.0 60.1h0M391.0 86.0h0M399.4 76.6h0M404.4 77.1h0M382.1 81.2h0M402.4 66.7h0M387.8 91.5h0M393.9 73.4h0M395.2 78.9h0M418.5 61.2h0M388.1 72.3h0M417.5 60.3h0M410.7 64.7h0M387.4 80.7h0M406.6 78.2h0M394.0 91.1h0M395.9 86.0h0M393.8 80.4h0M414.5 55.4h0M403.3 68.2h0M409.7 56.0h0M397.8 85.5h0M397.2 82.8h0M420.4 59.2h0M397.0 80.7h0M393.6 67.1h0M407.2 73.3h0M391.2 67.3h0M404.9 70.9h0M401.2 81.7h0M409.8 65.6h0M412.8 65.0h0M379.7 88.5h0M410.0 72.2h0M400.8 77.9h0M391.7 76.3h0M411.0 69.9h0M406.4 77.5h0M385.4 86.2h0M417.0 57.8h0M388.1 87.8h0M397.9 69.8h0M385.7 75.6h0M399.7 61.1h0M412.2 65.0h0M410.3 55.7h0M401.9 71.4h0M402.5 75.2h0M411.1 61.3h0M412.8 69.2h0M395.8 83.4h0M415.6 67.0h0M402.0 76.6h0M390.4 83.9h0M420.5 60.8h0M407.6 76.9h0M406.5 74.1h0M381.9 78.1h0M420.2 62.1h0M402.0 75.6h0M392.0 91.6h0M405.0 69.5h0M400.4 71.6h0M415.3 67.1h0M393.1 75.2h0M419.9 54.6h0M401.7 69.6h0M391.2 81.9h0M403.0 66.2h0M400.6 78.4h0M400.2 62.4h0M416.2 64.7h0M427.7 61.3h0M402.0 83.7h0M397.5 79.8h0M387.8 73.1h0M382.7 85.6h0M405.3 72.1h0M397.7 87.7h0M412.5 58.6h0M408.0 58.7h0M399.5 76.6h0M412.5 58.3h0M401.8 59.2h0M388.8 90.9h0M403.2 65.6h0M392.0 69.3h0M410.0 52.4h0M402.5 63.6h0M410.7 65.6h0M406.4 75.2h0M416.2 69.3h0M382.1 88.2h0M395.1 71.8h0M413.6 56.4h0M424.7 53.0h0M382.2 86.5h0M385.8 82.1h0M413.2 65.5h0M412.7 52.3h0M388.4 79.8h0M390.3 74.5h0M393.2 77.5h0M379.7 90.2h0M383.4 76.3h0M415.2 55.8h0M383.8 87.3h0M401.6 70.0h0M421.1 56.3h0M378.8 89.3h0M418.5 64.3h0M393.8 78.6h0M386.7 87.5h0M410.7 54.7h0M397.1 83.5h0M405.0 77.0h0M413.1 62.4h0M405.1 64.3h0M411.7 54.2h0M401.4 63.1h0M391.2 90.3h0M409.5 64.9h0M415.9 68.6h0M397.5 68.6h0M413.7 69.1h0M398.3 68.8h0M408.3 70.9h0M405.6 79.2h0M389.4 87.6h0M395.9 76.4h0M385.2 85.5h0M397.4 86.1h0M409.7 54.6h0M400.4 59.2h0M415.3 60.0h0M418.7 58.7h0M404.4 69.9h0M412.7 60.7h0M381.6 82.8h0M422.9 54.7h0M396.2 87.1h0M411.1 57.8h0M418.1 56.8h0M390.4 89.1h0M387.6 70.7h0M388.6 76.1h0M409.0 72.4h0M417.8 53.0h0M397.8 73.8h0M412.5 72.6h0M394.6 79.3h0M392.1 80.1h0M402.3 58.8h0M384.9 76.8h0M382.5 92.3h0M392.9 74.3h0M404.8 63.9h0M417.9 65.4h0M414.1 62.5h0M402.4 75.5h0M394.7 86.4h0M405.4 73.7h0M395.4 82.1h0M400.5 75.0h0M427.9 52.0h0M393.7 71.2h0M391.8 82.8h0M386.8 84.4h0M430.7 54.9h0M402.2 59.0h0M393.0 70.2h0M388.5 80.9h0M383.9 87.6h0M418.0 59.8h0M383.8 85.7h0M403.8 66.6h0M403.2 56.6h0M407.5 76.2h0M404.1 67.6h0M418.4 74.8h0M418.9 83.1h0M420.9 85.6h0M407.0 88.2h0M403.4 84.1h0M444.4 48.6h0M446.0 49.1h0M441.8 51.2h0M442.9 54.8h0M443.9 59.4h0M437.7 58.9h0M435.1 61.0h0M430.5 66.2h0M434.6 66.7h0M436.2 54.8h0M432.0 63.1h0M433.1 50.7h0M437.2 50.1h0M451.5 44.3h0M459.5 46.7h0M465.8 45.0h0M449.2 50.7h0M452.9 52.7h0M444.1 48.4h0M445.8 48.6h0M442.3 50.9h0M443.5 54.4h0M444.1 59.5h0M437.8 59.0h0M434.3 66.8h0M430.5 65.8h0M437.2 50.4h0M438.3 47.5h0M424.5 68.5h0M428.0 63.5h0M431.0 60.0h0M426.0 58.0h0M441.0 45.0h0M433.0 45.0h0M429.0 45.5h0M393.5 60.0h0M398.0 55.5h0M388.0 64.5h0M384.0 70.0h0" stroke="#808080" stroke-width="2.4" stroke-linecap="round" fill="none"/>
<line x1="380" y1="94.2" x2="470.48" y2="8.28" stroke="#111" stroke-width="1.3"/>
<line x1="380" y1="94.2" x2="466.52" y2="17.22" stroke="#b22222" stroke-width="1.05"/>
<text x="381.2" y="17.1">RMSE = 60.12</text>
<text x="381.2" y="27.1"><tspan font-style="italic">ρ</tspan> = 0.88</text>
<text x="441.1" y="84.4" style="fill:#c03838;stroke:#c03838;stroke-width:0.06px"><tspan font-style="italic">β</tspan> = 0.93</text>
<text x="441.1" y="93.2" style="fill:#c03838;stroke:#c03838;stroke-width:0.06px">p = 0.0</text>
<rect x="373.5" y="6.5" width="101" height="90" fill="none" stroke="#747474" stroke-width="1.0"/>
<line x1="371.0" x2="373.5" y1="94.2" y2="94.2" stroke="#4a4a4a" stroke-width="0.85"/>
<text x="368.9" y="96.9" text-anchor="end">0</text>
<line x1="380" x2="380" y1="96.5" y2="99" stroke="#4a4a4a" stroke-width="0.85"/>
<text x="380" y="105.8" text-anchor="middle">0</text>
<line x1="371.0" x2="373.5" y1="72.72" y2="72.72" stroke="#4a4a4a" stroke-width="0.85"/>
<text x="368.9" y="75.42" text-anchor="end">200</text>
<line x1="402.62" x2="402.62" y1="96.5" y2="99" stroke="#4a4a4a" stroke-width="0.85"/>
<text x="402.62" y="105.8" text-anchor="middle">200</text>
<line x1="371.0" x2="373.5" y1="51.24" y2="51.24" stroke="#4a4a4a" stroke-width="0.85"/>
<text x="368.9" y="53.94" text-anchor="end">400</text>
<line x1="425.24" x2="425.24" y1="96.5" y2="99" stroke="#4a4a4a" stroke-width="0.85"/>
<text x="425.24" y="105.8" text-anchor="middle">400</text>
<line x1="371.0" x2="373.5" y1="29.76" y2="29.76" stroke="#4a4a4a" stroke-width="0.85"/>
<text x="368.9" y="32.46" text-anchor="end">600</text>
<line x1="447.86" x2="447.86" y1="96.5" y2="99" stroke="#4a4a4a" stroke-width="0.85"/>
<text x="447.86" y="105.8" text-anchor="middle">600</text>
<line x1="371.0" x2="373.5" y1="8.28" y2="8.28" stroke="#4a4a4a" stroke-width="0.85"/>
<text x="368.9" y="10.98" text-anchor="end">800</text>
<line x1="470.48" x2="470.48" y1="96.5" y2="99" stroke="#4a4a4a" stroke-width="0.85"/>
<text x="470.48" y="105.8" text-anchor="middle">800</text>
</g>
<g>
<line x1="42.5" x2="346.5" y1="203.08" y2="203.08" stroke="#b0b0b0" stroke-opacity="0.62" stroke-width="0.9"/>
<line x1="42.5" x2="346.5" y1="188.62" y2="188.62" stroke="#b0b0b0" stroke-opacity="0.62" stroke-width="0.9"/>
<line x1="42.5" x2="346.5" y1="174.15" y2="174.15" stroke="#b0b0b0" stroke-opacity="0.62" stroke-width="0.9"/>
<line x1="42.5" x2="346.5" y1="159.69" y2="159.69" stroke="#b0b0b0" stroke-opacity="0.62" stroke-width="0.9"/>
<line x1="42.5" x2="346.5" y1="145.22" y2="145.22" stroke="#b0b0b0" stroke-opacity="0.62" stroke-width="0.9"/>
<line x1="42.5" x2="346.5" y1="130.75" y2="130.75" stroke="#b0b0b0" stroke-opacity="0.62" stroke-width="0.9"/>
<line x1="42.5" x2="346.5" y1="116.29" y2="116.29" stroke="#b0b0b0" stroke-opacity="0.62" stroke-width="0.9"/>
<line x1="51.45" x2="51.45" y1="114.83" y2="204.83" stroke="#b0b0b0" stroke-opacity="0.62" stroke-width="0.9"/>
<line x1="109.1" x2="109.1" y1="114.83" y2="204.83" stroke="#b0b0b0" stroke-opacity="0.62" stroke-width="0.9"/>
<line x1="164.6" x2="164.6" y1="114.83" y2="204.83" stroke="#b0b0b0" stroke-opacity="0.62" stroke-width="0.9"/>
<line x1="222.4" x2="222.4" y1="114.83" y2="204.83" stroke="#b0b0b0" stroke-opacity="0.62" stroke-width="0.9"/>
<line x1="278.2" x2="278.2" y1="114.83" y2="204.83" stroke="#b0b0b0" stroke-opacity="0.62" stroke-width="0.9"/>
<line x1="335.4" x2="335.4" y1="114.83" y2="204.83" stroke="#b0b0b0" stroke-opacity="0.62" stroke-width="0.9"/>
<polygon points="51.4,190.7 53.4,168.5 55.3,182.8 56.8,191.5 58.7,193.1 60.5,195.5 62.5,182.8 64.4,196.3 66.2,189.1 68.1,179.6 70.0,174.8 71.8,169.3 73.8,175.6 75.6,178.0 77.6,181.2 79.4,168.5 81.1,182.0 82.9,192.3 84.7,184.4 86.7,185.2 88.2,182.0 90.2,180.4 92.3,178.0 94.3,182.0 96.2,166.1 98.1,171.6 99.9,158.9 102.0,160.5 103.0,182.8 105.3,164.5 107.3,182.8 109.1,196.3 110.9,173.2 112.9,184.4 114.4,174.0 116.4,184.4 118.2,189.1 120.2,182.8 122.0,179.6 123.8,162.9 125.5,187.5 127.3,182.8 129.2,182.8 131.1,186.0 133.0,187.5 135.2,194.7 137.1,187.5 139.1,186.8 140.9,185.2 143.2,182.8 144.7,179.6 146.7,191.5 148.8,186.0 150.8,182.0 152.3,176.4 154.2,186.0 156.4,187.5 158.3,189.9 160.0,187.5 162.1,168.6 164.6,192.3 166.5,189.7 168.3,194.3 171.2,192.3 173.0,190.3 174.9,173.5 177.7,194.3 179.6,173.5 181.5,160.7 184.3,165.6 187.2,181.4 189.0,172.6 191.5,156.8 192.8,153.8 194.7,132.1 196.6,191.3 198.4,194.3 200.9,175.5 203.5,142.9 206.0,164.7 207.8,174.5 210.7,141.9 212.9,123.2 215.4,148.9 218.0,157.7 218.3,171.6 220.1,156.8 222.0,149.8 223.9,143.9 225.8,175.5 227.7,173.5 229.5,163.7 231.4,184.4 233.3,177.5 235.2,166.6 237.1,177.5 238.9,160.7 240.8,149.8 243.3,181.4 245.2,169.6 247.0,154.8 248.9,156.8 250.2,179.5 252.1,176.5 254.0,153.8 255.9,133.1 257.8,148.9 260.2,154.8 262.1,151.8 264.0,173.5 265.8,183.4 267.7,177.5 269.6,184.4 271.5,193.3 273.4,178.5 276.0,186.4 278.1,199.3 280.0,175.6 281.9,162.7 283.8,173.6 285.7,154.8 287.6,169.7 289.4,144.9 291.3,160.8 293.2,164.7 295.1,179.5 297.0,181.1 298.9,182.5 300.7,175.6 302.6,181.5 305.1,191.4 307.5,181.5 309.4,179.5 311.3,185.5 313.5,181.1 315.8,184.5 318.3,186.5 320.1,183.5 322.0,185.5 324.5,184.5 326.7,183.5 329.0,186.5 331.4,179.5 333.3,188.4 335.8,190.4 337.7,185.5 339.5,178.6 341.4,187.5 341.4,192.4 339.5,184.3 337.7,190.6 335.8,195.1 333.3,193.3 331.4,185.2 329.0,191.5 326.7,188.8 324.5,189.7 322.0,190.6 320.1,188.8 318.3,191.5 315.8,189.7 313.5,186.6 311.3,190.6 309.4,185.2 307.5,187.0 305.1,195.9 302.6,187.0 300.7,181.6 298.9,187.9 297.0,186.6 295.1,185.2 293.2,171.8 291.3,168.2 289.4,153.9 287.6,176.3 285.7,162.9 283.8,179.8 281.9,170.0 280.0,181.6 278.1,203.1 276.0,191.4 273.4,184.2 271.5,197.6 269.6,189.6 267.7,183.4 265.8,188.7 264.0,179.8 262.1,160.1 260.2,162.8 257.8,157.4 255.9,143.2 254.0,161.9 252.1,182.5 250.2,185.1 248.9,164.6 247.0,162.8 245.2,176.2 243.3,186.9 240.8,158.3 238.9,168.2 237.1,183.4 235.2,173.5 233.3,183.4 231.4,189.6 229.5,170.8 227.7,179.8 225.8,181.6 223.9,153.0 222.0,158.3 220.1,164.6 218.3,178.0 218.0,165.5 215.4,157.4 212.9,134.2 210.7,151.2 207.8,180.7 206.0,171.7 203.5,152.1 200.9,181.6 198.4,198.5 196.6,195.9 194.7,142.3 192.8,161.9 191.5,164.6 189.0,178.9 187.2,186.9 184.3,172.6 181.5,168.2 179.6,179.8 177.7,198.5 174.9,179.8 173.0,195.0 171.2,196.8 168.3,198.5 166.5,194.4 164.6,196.8 162.1,175.3 160.0,192.5 158.3,194.6 156.4,192.5 154.2,191.0 152.3,182.4 150.8,187.4 148.8,191.0 146.7,196.1 144.7,185.3 143.2,188.1 140.9,190.3 139.1,191.7 137.1,192.5 135.2,198.9 133.0,192.5 131.1,191.0 129.2,188.1 127.3,188.1 125.5,192.5 123.8,170.1 122.0,185.3 120.2,188.1 118.2,193.9 116.4,189.6 114.4,180.2 112.9,189.6 110.9,179.5 109.1,200.4 107.3,188.1 105.3,171.6 103.0,188.1 102.0,168.0 99.9,166.5 98.1,178.1 96.2,173.0 94.3,187.4 92.3,183.8 90.2,186.0 88.2,187.4 86.7,190.3 84.7,189.6 82.9,196.8 81.1,187.4 79.4,175.2 77.6,186.7 75.6,183.8 73.8,181.7 71.8,175.9 70.0,180.9 68.1,185.3 66.2,193.9 64.4,200.4 62.5,188.1 60.5,199.7 58.7,197.5 56.8,196.1 55.3,188.1 53.4,175.2 51.4,195.3" fill="#efb8b8" stroke="none"/>
<polyline points="51.4,192.3 53.4,192.7 55.6,193.3 57.2,191.5 58.7,190.8 60.2,192.3 61.7,191.5 63.5,192.3 65.5,191.2 67.0,193.0 69.0,194.5 70.8,193.8 72.3,193.3 74.1,192.3 75.6,190.8 76.8,193.0 78.4,194.8 80.2,193.0 82.2,192.3 83.7,189.2 85.2,188.5 86.7,188.2 88.2,189.2 90.2,190.0 92.0,187.0 94.3,185.8 96.5,186.2 98.8,187.3 100.3,187.7 102.0,187.0 103.8,184.7 105.8,183.2 107.6,185.5 109.4,187.0 111.4,184.7 113.3,187.0 115.2,188.5 117.0,190.0 118.5,192.3 120.5,187.0 122.4,183.9 124.2,182.4 126.1,187.0 128.0,183.9 129.5,178.6 131.1,183.2 133.0,187.0 134.8,190.0 137.1,187.0 139.1,184.7 140.9,185.5 142.7,183.9 144.7,182.1 146.7,185.5 148.5,183.9 150.8,181.7 152.3,180.2 154.5,181.7 156.8,183.9 158.3,185.5 160.0,183.2 160.3,182.3 162.7,173.8 165.1,185.1 167.4,184.6 169.7,182.3 172.1,180.4 174.0,170.1 175.9,184.2 177.7,190.8 180.2,172.9 182.4,170.1 185.3,167.6 188.1,172.9 190.9,169.1 192.8,167.3 194.7,163.5 196.6,179.5 199.0,178.5 201.3,177.6 204.1,172.0 206.5,165.4 208.8,163.5 211.6,156.9 213.5,156.9 215.4,167.3 218.0,159.7 218.3,164.4 220.1,169.1 222.0,158.8 224.5,166.3 226.9,163.9 229.2,165.4 231.4,161.6 233.3,158.8 235.2,157.5 237.1,161.6 238.9,164.4 240.8,161.6 243.3,171.0 245.7,161.6 247.6,155.6 249.5,161.6 251.7,170.1 253.6,161.6 255.5,157.5 257.4,159.7 259.6,161.6 261.5,152.2 263.4,161.6 265.3,169.1 267.2,168.2 269.0,172.9 270.9,181.4 272.8,172.9 274.7,161.6 276.0,167.3 278.1,185.2 280.0,173.9 281.9,167.3 283.8,173.0 285.7,162.6 287.6,171.1 289.4,155.1 291.3,168.3 293.2,171.1 295.1,179.6 297.0,180.1 298.9,181.4 300.7,179.6 302.6,185.2 305.1,189.0 307.5,186.1 309.4,179.6 311.3,186.1 313.5,183.9 315.8,185.2 318.3,186.1 320.1,187.1 322.0,186.1 324.5,185.2 326.7,186.1 329.0,185.2 331.4,182.4 333.3,186.1 335.8,194.1 337.7,192.7 339.5,184.3 341.4,194.6" fill="none" stroke="#5e5e5e" stroke-width="1.0" stroke-linejoin="round"/>
<polyline points="51.4,193.0 53.4,171.8 55.3,185.5 56.8,193.8 58.7,195.3 60.5,197.6 62.5,185.5 64.4,198.3 66.2,191.5 68.1,182.4 70.0,177.9 71.8,172.6 73.8,178.6 75.6,180.9 77.6,183.9 79.4,171.8 81.1,184.7 82.9,194.5 84.7,187.0 86.7,187.7 88.2,184.7 90.2,183.2 92.3,180.9 94.3,184.7 96.2,169.5 98.1,174.8 99.9,162.7 102.0,164.2 103.0,185.5 105.3,168.0 107.3,185.5 109.1,198.3 110.9,176.4 112.9,187.0 114.4,177.1 116.4,187.0 118.2,191.5 120.2,185.5 122.0,182.4 123.8,166.5 125.5,190.0 127.3,185.5 129.2,185.5 131.1,188.5 133.0,190.0 135.2,196.8 137.1,190.0 139.1,189.2 140.9,187.7 143.2,185.5 144.7,182.4 146.7,193.8 148.8,188.5 150.8,184.7 152.3,179.4 154.2,188.5 156.4,190.0 158.3,192.3 160.0,190.0 162.1,172.0 164.6,194.5 166.5,192.1 168.3,196.4 171.2,194.5 173.0,192.6 174.9,176.7 177.7,196.4 179.6,176.7 181.5,164.4 184.3,169.1 187.2,184.2 189.0,175.7 191.5,160.7 192.8,157.9 194.7,137.2 196.6,193.6 198.4,196.4 200.9,178.5 203.5,147.5 206.0,168.2 207.8,177.6 210.7,146.6 212.9,128.7 215.4,153.2 218.0,161.6 218.3,174.8 220.1,160.7 222.0,154.1 223.9,148.4 225.8,178.5 227.7,176.7 229.5,167.3 231.4,187.0 233.3,180.4 235.2,170.1 237.1,180.4 238.9,164.4 240.8,154.1 243.3,184.2 245.2,172.9 247.0,158.8 248.9,160.7 250.2,182.3 252.1,179.5 254.0,157.9 255.9,138.1 257.8,153.2 260.2,158.8 262.1,156.0 264.0,176.7 265.8,186.1 267.7,180.4 269.6,187.0 271.5,195.5 273.4,181.4 276.0,188.9 278.1,201.2 280.0,178.6 281.9,166.4 283.8,176.7 285.7,158.8 287.6,173.0 289.4,149.4 291.3,164.5 293.2,168.3 295.1,182.4 297.0,183.9 298.9,185.2 300.7,178.6 302.6,184.3 305.1,193.7 307.5,184.3 309.4,182.4 311.3,188.0 313.5,183.9 315.8,187.1 318.3,189.0 320.1,186.1 322.0,188.0 324.5,187.1 326.7,186.1 329.0,189.0 331.4,182.4 333.3,190.9 335.8,192.7 337.7,188.0 339.5,181.4 341.4,189.9" fill="none" stroke="#b22222" stroke-width="1.0" stroke-linejoin="round"/>
<line x1="248.5" x2="248.5" y1="114.83" y2="204.83" stroke="#6a6a6a" stroke-width="0.9" stroke-dasharray="2.0,1.35"/>
<rect x="42.5" y="114.83" width="304" height="90" fill="none" stroke="#747474" stroke-width="1.0"/>
<line x1="40.0" x2="42.5" y1="203.08" y2="203.08" stroke="#4a4a4a" stroke-width="0.85"/>
<text x="37.4" y="205.88" text-anchor="end">0</text>
<line x1="40.0" x2="42.5" y1="188.62" y2="188.62" stroke="#4a4a4a" stroke-width="0.85"/>
<text x="37.4" y="191.42" text-anchor="end">50</text>
<line x1="40.0" x2="42.5" y1="174.15" y2="174.15" stroke="#4a4a4a" stroke-width="0.85"/>
<text x="37.4" y="176.95" text-anchor="end">100</text>
<line x1="40.0" x2="42.5" y1="159.69" y2="159.69" stroke="#4a4a4a" stroke-width="0.85"/>
<text x="37.4" y="162.49" text-anchor="end">150</text>
<line x1="40.0" x2="42.5" y1="145.22" y2="145.22" stroke="#4a4a4a" stroke-width="0.85"/>
<text x="37.4" y="148.02" text-anchor="end">200</text>
<line x1="40.0" x2="42.5" y1="130.75" y2="130.75" stroke="#4a4a4a" stroke-width="0.85"/>
<text x="37.4" y="133.56" text-anchor="end">250</text>
<line x1="40.0" x2="42.5" y1="116.29" y2="116.29" stroke="#4a4a4a" stroke-width="0.85"/>
<text x="37.4" y="119.09" text-anchor="end">300</text>
<line x1="51.45" x2="51.45" y1="204.83" y2="207.33" stroke="#4a4a4a" stroke-width="0.85"/>
<text x="51.45" y="214.13" text-anchor="middle">2017-03</text>
<line x1="109.1" x2="109.1" y1="204.83" y2="207.33" stroke="#4a4a4a" stroke-width="0.85"/>
<text x="109.1" y="214.13" text-anchor="middle">2017-04</text>
<line x1="164.6" x2="164.6" y1="204.83" y2="207.33" stroke="#4a4a4a" stroke-width="0.85"/>
<text x="164.6" y="214.13" text-anchor="middle">2017-05</text>
<line x1="222.4" x2="222.4" y1="204.83" y2="207.33" stroke="#4a4a4a" stroke-width="0.85"/>
<text x="222.4" y="214.13" text-anchor="middle">2017-06</text>
<line x1="278.2" x2="278.2" y1="204.83" y2="207.33" stroke="#4a4a4a" stroke-width="0.85"/>
<text x="278.2" y="214.13" text-anchor="middle">2017-07</text>
<line x1="335.4" x2="335.4" y1="204.83" y2="207.33" stroke="#4a4a4a" stroke-width="0.85"/>
<text x="335.4" y="214.13" text-anchor="middle">2017-08</text>
</g>
<g>
<line x1="373.5" x2="474.5" y1="202.53" y2="202.53" stroke="#b0b0b0" stroke-opacity="0.62" stroke-width="0.9"/>
<line x1="380" x2="380" y1="114.83" y2="204.83" stroke="#b0b0b0" stroke-opacity="0.62" stroke-width="0.9"/>
<line x1="373.5" x2="474.5" y1="181.05" y2="181.05" stroke="#b0b0b0" stroke-opacity="0.62" stroke-width="0.9"/>
<line x1="402.62" x2="402.62" y1="114.83" y2="204.83" stroke="#b0b0b0" stroke-opacity="0.62" stroke-width="0.9"/>
<line x1="373.5" x2="474.5" y1="159.57" y2="159.57" stroke="#b0b0b0" stroke-opacity="0.62" stroke-width="0.9"/>
<line x1="425.24" x2="425.24" y1="114.83" y2="204.83" stroke="#b0b0b0" stroke-opacity="0.62" stroke-width="0.9"/>
<line x1="373.5" x2="474.5" y1="138.09" y2="138.09" stroke="#b0b0b0" stroke-opacity="0.62" stroke-width="0.9"/>
<line x1="447.86" x2="447.86" y1="114.83" y2="204.83" stroke="#b0b0b0" stroke-opacity="0.62" stroke-width="0.9"/>
<line x1="373.5" x2="474.5" y1="116.61" y2="116.61" stroke="#b0b0b0" stroke-opacity="0.62" stroke-width="0.9"/>
<line x1="470.48" x2="470.48" y1="114.83" y2="204.83" stroke="#b0b0b0" stroke-opacity="0.62" stroke-width="0.9"/>
<path d="M421.4 164.1h0M396.8 187.8h0M399.3 185.1h0M385.2 194.3h0M403.7 172.3h0M404.4 186.6h0M408.3 180.0h0M387.8 187.4h0M401.7 185.8h0M410.5 196.9h0M400.5 200.3h0M429.8 160.4h0M423.0 170.8h0M396.2 194.3h0M415.2 193.3h0M395.8 186.2h0M396.8 187.1h0M400.3 171.8h0M401.8 186.3h0M386.3 180.5h0M422.2 189.9h0M406.4 176.0h0M406.6 186.5h0M387.3 190.5h0M381.9 187.8h0M387.5 188.8h0M392.1 192.9h0M388.3 189.6h0M390.3 179.1h0M392.8 182.8h0M399.7 199.6h0M415.7 177.3h0M387.8 195.7h0M397.9 197.9h0M390.4 192.0h0M402.1 192.7h0M383.9 186.2h0M405.4 196.0h0M412.6 188.8h0M384.5 191.2h0M413.4 197.3h0M394.6 188.9h0M414.1 189.7h0M387.1 181.2h0M410.6 168.6h0M393.0 197.4h0M394.0 196.2h0M400.9 197.4h0M398.8 181.9h0M396.6 199.9h0M388.2 198.9h0M406.4 197.4h0M405.1 187.2h0M391.3 197.8h0M401.8 189.0h0M423.5 177.5h0M393.4 197.0h0M405.4 175.2h0M409.8 193.1h0M381.7 192.7h0M392.2 195.2h0M396.6 192.3h0M405.1 169.0h0M415.2 190.5h0M411.2 192.2h0M402.2 194.4h0M392.4 188.3h0M396.7 182.2h0M428.5 157.2h0M388.4 179.5h0M418.3 188.7h0M389.9 201.3h0M389.0 186.3h0M404.7 180.0h0M407.7 159.6h0M425.4 183.4h0M385.9 184.7h0M385.3 194.4h0M381.2 192.4h0M381.5 193.3h0M424.8 185.7h0M400.3 175.3h0M387.6 184.5h0M413.7 193.9h0M414.3 180.4h0M408.0 167.4h0M405.5 174.0h0M380.3 200.4h0M396.2 186.4h0M414.0 189.1h0M410.4 165.7h0M408.3 184.6h0M400.2 200.6h0M430.9 158.1h0M386.6 199.0h0M411.9 159.4h0M401.9 181.6h0M388.8 178.9h0M398.8 178.7h0M418.3 189.8h0M438.6 159.3h0M381.7 184.8h0M394.4 182.7h0M406.6 199.0h0M415.4 192.0h0M391.4 183.7h0M388.3 201.6h0M392.4 178.1h0M402.0 197.0h0M395.7 177.6h0M412.7 163.1h0M419.1 175.6h0M402.0 193.0h0M399.8 201.0h0M417.9 170.3h0M415.6 184.7h0M401.0 171.4h0M387.3 185.1h0M392.3 189.3h0M401.0 172.3h0M407.4 194.7h0M379.9 202.2h0M438.9 156.7h0M405.1 190.8h0M419.4 193.9h0M418.7 187.5h0M403.1 181.2h0M394.7 185.0h0M383.4 192.6h0M395.1 183.6h0M403.7 181.2h0M408.3 197.4h0M394.2 191.7h0M412.3 196.5h0M423.0 166.2h0M424.6 156.7h0M396.4 193.0h0M385.7 188.0h0M406.7 195.9h0M421.4 187.8h0M380.4 196.5h0M399.1 174.9h0M379.6 196.1h0M382.6 185.1h0M407.0 179.2h0M399.9 199.9h0M391.5 182.8h0M412.9 170.3h0M411.7 198.6h0M404.6 169.4h0M388.3 179.0h0M409.1 170.9h0M436.7 160.6h0M402.5 176.7h0M396.9 201.1h0M402.2 191.1h0M419.7 181.8h0M404.3 180.1h0M380.4 202.0h0M390.3 188.8h0M380.5 192.5h0M384.1 190.7h0M407.5 195.8h0M407.7 169.6h0M424.5 167.0h0M405.5 169.7h0M401.7 185.0h0M415.4 196.2h0M392.9 182.4h0M412.1 181.4h0M389.8 187.5h0M398.1 195.4h0M406.4 191.1h0M423.2 165.8h0M419.0 161.0h0M410.1 175.1h0M410.1 167.3h0M386.4 200.6h0M382.7 184.4h0M416.7 173.6h0M421.5 165.5h0M408.6 199.8h0M420.1 179.9h0M399.9 196.8h0M402.1 185.4h0M425.5 167.6h0M402.0 177.4h0M380.2 199.0h0M394.1 185.4h0M383.1 194.2h0M383.1 196.2h0M407.1 194.5h0M405.9 173.4h0M414.6 161.1h0M380.6 191.2h0M384.9 190.7h0M413.6 192.4h0M401.3 188.5h0M422.3 178.4h0M401.3 199.4h0M413.8 189.8h0M430.8 159.8h0M400.4 172.1h0M413.7 171.4h0M433.7 166.9h0M431.3 154.3h0M383.0 191.8h0M387.2 183.1h0M383.4 186.5h0M402.6 196.0h0M407.8 175.9h0M401.7 180.8h0M394.1 195.9h0M391.8 180.3h0M415.0 190.5h0M388.7 196.4h0M399.3 190.3h0M398.4 191.0h0M404.4 174.1h0M385.4 197.0h0M395.7 182.1h0M398.8 191.4h0M398.0 190.1h0M387.4 188.9h0M381.9 183.6h0M380.5 198.8h0M414.0 197.6h0M408.8 181.7h0M381.9 187.0h0M393.0 177.0h0M419.5 193.6h0M411.9 181.9h0M412.9 195.9h0M398.0 177.7h0M382.9 194.0h0M415.0 195.9h0M391.4 190.4h0M388.6 194.9h0M393.0 188.3h0M419.6 184.9h0M385.3 198.2h0M424.0 165.7h0M380.2 201.5h0M413.2 183.6h0M396.4 191.8h0M389.4 193.3h0M392.9 189.4h0M383.8 195.8h0M403.1 187.8h0M385.0 181.6h0M394.9 183.5h0M419.1 188.3h0M402.6 197.6h0M383.9 187.3h0M385.4 202.0h0M386.0 195.2h0M409.3 192.3h0M402.5 191.3h0M390.1 196.3h0M413.9 193.0h0M397.3 190.6h0M386.8 201.4h0M390.8 195.9h0M381.4 187.5h0M388.9 200.7h0M384.8 197.7h0M413.2 184.5h0M429.0 172.7h0M404.3 186.0h0M411.9 196.2h0M392.0 187.7h0M396.3 180.1h0M405.2 177.9h0M395.5 189.6h0M402.3 192.0h0M384.2 199.5h0M421.1 157.8h0M399.6 198.6h0M385.9 184.7h0M406.7 189.7h0M402.9 180.9h0M415.0 193.4h0M418.0 186.0h0M406.2 197.8h0M406.8 197.2h0M394.7 184.0h0M383.3 186.1h0M396.6 193.5h0M414.6 167.9h0M411.4 163.3h0M417.9 158.4h0M410.1 169.5h0M397.5 192.5h0M394.8 185.8h0M397.5 191.2h0M385.4 189.9h0M395.7 182.2h0M391.8 199.4h0M385.5 192.9h0M405.5 189.2h0M398.4 190.0h0M410.9 186.8h0M419.1 162.3h0M409.8 163.6h0M422.1 190.2h0M403.9 189.1h0M384.9 198.6h0M434.6 160.3h0M425.3 161.2h0M431.9 161.9h0M390.8 190.2h0M403.8 172.2h0M396.8 197.5h0M381.9 187.3h0M382.6 183.5h0M411.9 175.4h0M421.7 176.8h0M389.5 179.7h0M402.9 194.5h0M400.0 173.7h0M398.8 184.6h0M402.9 198.8h0M401.9 187.3h0M420.6 192.8h0M386.7 191.2h0M426.1 159.9h0M394.5 181.8h0M382.1 195.3h0M409.4 189.9h0M391.0 187.0h0M390.5 187.8h0M400.2 178.7h0M397.9 175.0h0M402.3 187.2h0M381.3 201.6h0M405.4 181.8h0M382.2 184.9h0M406.6 189.8h0M387.8 190.4h0M411.1 196.0h0M398.1 195.7h0M428.3 165.4h0M413.4 191.2h0M401.8 188.2h0M433.7 160.1h0M395.1 182.5h0M408.0 187.2h0M416.5 191.2h0M382.8 189.6h0M390.6 200.3h0M390.3 195.5h0M411.5 190.3h0M417.6 190.5h0M396.9 192.1h0M411.1 176.4h0M397.0 191.4h0M387.3 196.9h0M407.7 198.8h0M419.8 182.6h0M393.0 194.7h0M401.7 177.6h0M427.1 182.4h0M390.5 180.5h0M384.2 184.8h0M403.7 193.8h0M404.0 192.8h0M381.5 194.0h0M401.7 171.9h0M404.2 186.8h0M381.0 196.2h0M408.1 166.7h0M389.6 187.8h0M422.6 168.6h0M408.4 162.9h0M383.0 199.8h0M388.5 182.0h0M407.5 195.7h0M419.5 159.8h0M430.0 159.6h0M396.1 193.8h0M383.3 185.1h0M400.9 198.0h0M399.8 183.8h0M415.9 172.5h0M395.6 191.0h0M400.0 188.5h0M394.9 190.5h0M383.0 188.0h0M402.9 196.5h0M409.5 183.5h0M409.4 175.2h0M411.3 192.7h0M383.9 193.3h0M407.6 192.1h0M423.8 189.4h0M405.7 186.5h0M394.3 187.9h0M396.2 189.1h0M400.8 185.9h0M419.4 194.3h0M403.8 197.2h0M407.2 192.8h0M403.3 176.2h0M389.7 181.6h0M408.6 188.2h0M386.2 194.7h0M399.6 185.0h0M406.1 170.8h0M388.7 188.0h0M408.2 175.1h0M412.9 160.5h0M420.0 162.2h0M399.6 187.9h0M403.1 175.8h0M407.4 189.3h0M383.1 186.1h0M426.0 168.5h0M400.7 181.9h0M414.5 197.1h0M410.1 193.0h0M396.1 191.9h0M418.4 183.8h0M418.4 187.7h0M407.1 197.4h0M420.1 186.8h0M405.7 176.0h0M436.2 164.0h0M380.1 193.7h0M392.5 192.8h0M403.9 168.9h0M420.0 172.1h0M398.6 179.1h0M395.4 193.0h0M390.3 194.5h0M388.1 192.2h0M421.7 176.0h0M419.1 195.9h0M396.8 183.0h0M381.3 191.6h0M416.3 182.3h0M379.5 191.9h0M410.9 166.9h0M391.9 190.4h0M402.3 165.9h0M427.7 167.3h0M422.8 189.6h0M419.9 175.1h0M412.0 192.9h0M401.3 198.3h0M403.8 173.4h0M410.7 182.0h0M403.7 170.7h0M412.9 189.2h0M410.2 174.1h0M416.6 193.3h0M388.2 184.9h0M395.2 196.7h0M385.6 187.7h0M403.5 194.1h0M419.8 195.2h0M395.0 198.6h0M418.3 188.0h0M424.2 164.5h0M387.4 189.0h0M397.0 183.4h0M418.0 182.0h0M420.4 175.0h0M391.3 186.6h0M388.5 193.9h0M399.6 198.6h0M418.4 178.4h0M419.3 193.5h0M415.8 193.3h0M414.8 193.4h0M391.7 195.6h0M409.4 188.5h0M427.3 158.6h0M417.4 192.7h0M400.1 176.7h0M401.4 194.5h0M398.8 177.9h0M402.1 178.6h0M427.1 173.9h0M427.0 163.2h0M380.4 200.6h0M419.0 170.7h0M414.0 197.2h0M435.5 158.6h0M404.8 192.2h0M399.9 167.2h0M405.7 162.1h0M405.6 175.0h0M437.6 156.7h0M381.4 192.4h0M392.0 180.9h0M383.2 201.2h0M409.6 167.2h0M398.1 190.3h0M404.2 188.8h0M405.8 178.6h0M393.8 191.0h0M406.7 176.0h0M417.0 171.1h0M426.8 181.4h0M419.0 187.0h0M401.1 187.5h0M411.6 195.8h0M413.1 188.1h0M394.9 180.1h0M407.0 165.0h0M414.7 171.0h0M399.8 186.9h0M420.8 183.1h0M409.2 197.5h0M406.8 177.3h0M394.7 178.4h0M404.6 189.0h0M399.5 198.9h0M404.6 172.0h0M406.4 190.3h0M400.3 200.9h0M387.0 193.9h0M383.1 198.6h0M408.2 173.8h0M423.2 173.9h0M401.3 181.8h0M410.4 182.2h0M397.8 194.5h0M388.0 195.3h0M404.3 192.2h0M403.2 194.1h0M399.7 194.9h0M393.1 200.5h0M400.4 195.4h0M401.8 183.1h0M426.7 169.8h0M386.7 192.7h0M394.9 194.7h0M391.0 178.9h0M401.3 197.5h0M398.2 193.4h0M417.4 175.9h0M406.1 193.1h0M402.5 181.8h0M408.2 196.6h0M418.1 196.3h0M394.4 194.0h0M400.3 199.7h0M435.5 158.9h0M398.2 195.7h0M383.3 189.9h0M413.5 165.2h0M385.4 188.2h0M413.4 193.5h0M402.0 194.4h0M388.3 200.2h0M387.8 180.6h0M409.7 183.0h0M437.6 158.6h0M408.9 186.2h0M401.4 172.0h0M385.4 180.7h0M410.2 198.5h0M407.9 195.3h0M392.9 197.5h0M418.0 157.8h0M417.7 190.9h0M410.3 188.3h0M383.7 185.4h0M416.1 174.4h0M403.3 177.7h0M415.7 161.3h0M402.9 175.9h0M393.1 181.3h0M420.6 176.9h0M397.9 190.5h0M387.0 186.5h0M412.8 164.2h0M426.0 184.3h0M411.5 167.5h0M399.0 199.5h0M386.9 201.7h0M436.8 164.3h0M387.3 179.7h0M385.8 199.5h0M414.4 187.3h0M392.8 190.0h0M409.4 176.0h0M401.7 192.3h0M422.9 187.0h0M413.8 197.1h0M388.4 201.9h0M389.4 188.1h0M398.7 192.5h0M413.7 196.4h0M418.4 182.0h0M412.5 181.2h0M411.9 180.8h0M380.8 198.7h0M417.8 177.2h0M387.2 185.6h0M389.7 201.2h0M420.0 161.4h0M385.6 200.8h0M402.1 198.9h0M397.1 192.0h0M383.0 189.5h0M381.4 195.1h0M407.0 178.1h0M391.0 196.2h0M384.6 199.7h0M420.4 183.2h0M395.6 177.7h0M412.1 193.9h0M402.6 186.0h0M393.7 185.2h0M410.7 187.7h0M383.5 196.8h0M409.2 183.4h0M410.6 166.5h0M397.3 181.8h0M381.2 188.4h0M415.0 193.2h0M435.9 163.6h0M423.0 189.2h0M403.1 191.7h0M421.4 168.5h0M413.8 195.7h0M409.0 189.2h0M412.1 163.2h0M413.4 162.8h0M410.9 191.9h0M388.4 180.2h0M382.7 202.0h0M380.9 187.5h0M428.2 168.2h0M415.4 171.3h0M409.6 193.9h0M393.1 188.0h0M410.2 187.6h0M414.8 187.3h0M409.8 199.1h0M391.0 186.3h0M398.6 184.0h0M415.7 196.6h0M387.4 196.6h0M408.8 180.2h0M413.8 185.8h0M415.0 181.6h0M382.8 195.0h0M401.7 178.0h0M413.6 182.6h0M390.4 200.0h0M421.3 176.8h0M402.7 191.4h0M400.2 197.4h0M401.0 187.4h0M382.6 197.3h0M386.4 179.5h0M414.6 164.8h0M396.5 190.1h0M408.5 192.9h0M401.8 190.5h0M391.5 185.4h0M396.8 198.8h0M400.1 198.0h0M418.6 181.5h0M412.9 178.1h0M409.9 184.3h0M413.5 192.3h0M417.9 196.9h0M394.7 192.1h0M409.5 191.1h0M409.3 192.2h0M401.6 182.0h0M403.7 168.9h0M414.6 163.1h0M420.0 191.1h0M403.4 182.6h0M423.5 165.8h0M421.0 159.5h0M386.9 196.1h0M380.8 191.2h0M391.9 194.0h0M426.3 159.9h0M391.7 188.0h0M423.2 169.6h0M389.4 181.0h0M401.6 174.9h0M420.8 160.6h0M410.1 197.9h0M415.1 195.7h0M411.5 191.8h0M413.7 191.9h0M392.5 185.8h0M413.4 162.0h0M408.8 196.9h0M386.3 191.3h0M393.8 181.2h0M392.1 196.9h0M410.1 179.1h0M406.0 190.7h0M396.9 176.9h0M415.8 178.5h0M397.7 191.5h0M419.2 164.4h0M383.3 192.8h0M418.0 191.9h0M396.0 172.4h0M403.2 164.5h0M421.9 161.8h0M415.2 178.7h0M395.7 171.9h0M391.3 183.3h0M409.7 167.9h0M390.7 182.7h0M389.1 191.3h0M408.4 194.6h0M404.7 166.3h0M417.4 169.7h0M410.8 198.9h0M412.4 188.3h0M418.3 160.0h0M400.3 186.4h0M411.5 183.1h0M397.0 197.1h0M415.2 186.5h0M408.1 196.0h0M388.1 181.0h0M387.5 200.6h0M391.8 192.2h0M413.6 194.8h0M423.7 168.6h0M393.9 187.9h0M389.6 179.8h0M386.9 201.5h0M409.9 163.6h0M386.9 192.7h0M398.2 175.7h0M391.3 177.7h0M404.2 182.9h0M412.9 190.2h0M406.2 186.0h0M392.2 178.9h0M417.3 172.3h0M399.2 193.3h0M434.3 166.2h0M410.4 190.4h0M395.4 184.4h0M411.8 175.8h0M393.6 174.6h0M401.9 178.2h0M401.6 173.4h0M390.2 188.5h0M389.8 197.1h0M426.0 184.2h0M385.9 195.4h0M421.3 173.1h0M423.9 155.5h0M393.4 186.7h0M390.5 193.3h0M399.6 182.6h0M424.8 183.5h0M418.4 178.3h0M396.2 200.4h0M398.9 174.5h0M392.6 190.0h0M419.9 162.6h0M384.7 191.4h0M393.1 194.3h0M420.3 180.4h0M399.7 175.3h0M399.6 179.5h0M407.9 181.5h0M380.5 199.3h0M385.3 190.9h0M411.7 176.1h0M408.9 171.8h0M405.0 185.0h0M395.6 195.1h0M397.2 191.4h0M423.7 161.3h0M417.0 195.8h0M417.8 160.7h0M384.6 185.5h0M399.0 194.5h0M401.7 177.3h0M415.9 184.4h0M396.1 181.8h0M413.0 191.0h0M396.1 190.4h0M387.4 199.8h0M411.3 180.9h0M385.5 190.5h0M406.8 196.6h0M394.6 184.0h0M402.6 181.4h0M397.4 181.0h0M406.7 177.3h0M404.0 184.0h0M404.8 174.7h0M403.5 200.5h0M387.5 194.2h0M402.6 200.3h0M385.6 184.0h0M391.9 200.7h0M405.0 187.1h0M411.4 189.1h0M391.6 180.1h0M406.7 187.0h0M432.0 164.1h0M394.5 180.7h0M409.8 190.0h0M400.4 184.6h0M414.3 164.1h0M409.9 188.8h0M395.2 177.2h0M398.3 174.9h0M391.3 185.4h0M385.4 182.1h0M389.2 193.8h0M385.4 202.0h0M419.8 167.7h0M402.6 189.8h0M394.9 196.1h0M419.6 194.8h0M417.5 184.5h0M386.9 200.3h0M380.2 202.2h0M416.4 185.1h0M406.2 182.1h0M397.6 180.9h0M416.1 164.6h0M427.9 174.3h0M422.7 165.5h0M388.9 190.7h0M408.3 191.9h0M405.6 195.7h0M389.9 198.4h0M385.7 187.1h0M407.7 195.2h0M397.4 198.7h0M420.3 194.0h0M390.4 178.8h0M398.8 184.7h0M385.0 186.0h0M402.6 179.9h0M414.5 192.7h0M402.5 175.0h0M397.9 189.8h0M414.3 192.0h0M404.3 176.5h0M417.6 173.3h0M401.4 186.8h0M421.9 167.8h0M390.9 194.8h0M426.5 170.3h0M429.6 160.3h0M417.3 191.1h0M402.4 190.0h0M382.8 194.7h0M388.3 186.5h0M394.0 183.5h0M425.0 162.1h0M406.3 198.0h0M395.1 183.9h0M396.9 199.8h0M392.9 178.5h0M403.5 170.7h0M403.3 187.5h0M394.7 196.8h0M412.2 197.0h0M406.1 198.8h0M401.2 191.1h0M388.8 190.3h0M386.3 179.5h0M384.5 190.4h0M402.4 186.3h0M415.0 194.4h0M399.1 180.2h0M396.8 186.5h0M404.0 197.3h0M402.6 189.1h0M393.1 194.5h0M396.3 185.0h0M398.9 187.0h0M413.6 180.6h0M399.3 187.6h0M394.2 182.2h0M403.6 193.9h0M388.6 200.1h0M430.9 161.9h0M406.6 172.1h0M407.5 196.8h0M409.8 181.0h0M420.4 165.9h0M390.6 179.6h0M399.7 191.7h0M391.0 199.3h0M395.4 187.4h0M406.5 199.0h0M424.6 161.1h0M382.1 200.4h0M415.7 197.1h0M431.6 162.2h0M381.2 193.2h0M404.3 179.1h0M381.3 194.7h0M386.4 196.0h0M384.0 197.4h0M397.5 184.6h0M399.1 191.2h0M399.1 188.9h0M416.4 188.1h0M398.8 185.8h0M405.9 180.1h0M418.6 176.4h0M411.8 178.0h0M398.0 188.6h0M398.4 173.7h0M412.3 188.5h0M383.9 200.8h0M388.7 186.0h0M400.2 180.1h0M406.5 185.5h0M405.7 171.0h0M399.0 199.3h0M410.7 163.8h0M420.3 183.2h0M405.4 175.4h0M397.0 178.0h0M379.6 197.3h0M395.2 191.5h0M410.0 168.0h0M422.1 173.5h0M403.2 188.9h0M421.2 181.3h0M401.7 194.8h0M408.9 187.8h0M398.2 184.1h0M397.1 176.4h0M390.6 196.0h0M427.5 169.7h0M409.8 176.0h0M390.7 195.5h0M430.0 156.9h0M386.4 180.2h0M396.2 184.5h0M389.2 196.8h0M381.5 193.8h0M380.5 188.8h0M390.5 193.4h0M388.2 186.2h0M381.4 193.3h0M413.9 196.0h0M384.0 189.5h0M434.7 165.4h0M407.7 195.5h0M424.3 166.3h0M391.1 185.9h0M408.7 172.7h0M405.6 178.4h0M405.2 199.8h0M405.3 194.5h0M409.4 177.8h0M391.9 192.2h0M380.9 190.7h0M393.4 193.1h0M401.2 179.7h0M401.7 189.8h0M411.7 163.8h0M412.8 170.6h0M382.0 186.0h0M413.4 163.1h0M400.4 180.5h0M405.8 195.5h0M402.5 200.0h0M414.6 169.5h0M417.9 175.4h0M407.9 182.7h0M398.1 194.7h0M395.9 198.6h0M394.4 193.2h0M399.2 197.6h0M399.8 186.6h0M395.6 179.2h0M413.0 162.8h0M418.1 183.4h0M387.3 181.6h0M403.1 185.3h0M402.3 196.2h0M384.2 199.4h0M381.6 195.1h0M408.3 175.8h0M387.9 193.9h0M399.1 192.1h0M419.3 160.8h0M421.9 172.1h0M403.2 192.5h0M391.5 196.4h0M388.3 198.1h0M384.8 184.2h0M414.1 186.3h0M403.7 177.0h0M383.8 191.3h0M386.8 189.0h0M411.1 172.4h0M404.3 182.2h0M380.6 191.0h0M391.7 180.4h0M407.7 184.3h0M407.0 176.4h0M407.6 168.8h0M395.9 191.8h0M395.8 195.6h0M383.8 182.7h0M431.3 156.3h0M402.2 174.1h0M394.3 181.6h0M412.0 197.9h0M402.3 184.7h0M401.6 188.5h0M408.4 197.6h0M380.9 200.9h0M383.5 194.4h0M406.3 178.8h0M388.0 184.7h0M428.5 169.0h0M413.2 173.1h0M400.8 176.0h0M389.7 188.7h0M391.3 179.1h0M391.5 181.1h0M389.8 198.0h0M386.0 199.4h0M412.4 182.5h0M424.9 180.0h0M381.2 185.4h0M393.7 197.3h0M396.3 183.3h0M385.0 192.5h0M418.1 192.0h0M387.4 196.2h0M389.1 183.9h0M400.4 172.3h0M379.9 200.0h0M429.1 167.4h0M391.6 181.3h0M435.7 163.2h0M398.9 188.8h0M391.5 189.5h0M398.6 187.3h0M393.5 201.1h0M418.6 162.2h0M427.3 175.0h0M405.3 196.9h0M415.8 174.1h0M410.4 175.7h0M388.9 196.9h0M394.3 193.9h0M417.4 192.0h0M391.3 191.3h0M404.2 196.8h0M418.6 164.3h0M414.9 197.0h0M414.1 188.0h0M414.0 192.7h0M419.7 161.0h0M410.6 194.7h0M410.7 167.3h0M396.9 194.0h0M387.3 182.4h0M396.2 177.6h0M406.6 174.1h0M395.2 182.1h0M413.7 186.5h0M416.3 188.5h0M385.1 196.3h0M379.0 200.0h0M388.4 185.9h0M388.8 180.4h0M411.2 173.7h0M400.0 194.4h0M387.7 192.4h0M408.3 173.8h0M417.2 194.3h0M426.7 163.2h0M394.0 174.3h0M403.2 181.0h0M396.2 198.2h0M379.6 193.6h0M402.6 195.8h0M430.9 156.8h0M382.6 183.7h0M398.9 188.3h0M396.9 198.2h0M389.6 195.2h0M396.9 190.4h0M409.8 180.6h0M399.5 186.0h0M423.1 172.6h0M408.5 174.5h0M408.8 177.0h0M408.7 185.1h0M411.5 182.4h0M421.8 185.6h0M384.5 187.8h0M390.8 199.7h0M418.0 196.9h0M393.2 182.1h0M389.7 195.9h0M393.5 191.9h0M399.2 200.4h0M393.6 182.0h0M422.3 188.5h0M395.8 189.6h0M411.1 185.0h0M408.9 185.9h0M426.7 184.1h0M421.6 157.3h0M413.3 179.5h0M402.8 172.6h0M382.1 201.5h0M399.2 183.4h0M390.8 195.3h0M391.3 179.3h0M406.2 194.5h0M406.4 178.8h0M409.4 182.0h0M395.8 188.7h0M414.0 165.3h0M394.5 184.3h0M421.0 186.4h0M400.3 179.4h0M401.6 190.7h0M412.7 196.7h0M406.3 171.7h0M414.2 176.2h0M397.1 194.9h0M409.1 193.3h0M414.0 180.6h0M411.3 185.4h0M398.4 200.1h0M381.6 184.5h0M407.4 197.0h0M414.4 178.4h0M393.3 182.5h0M404.9 167.2h0M402.5 175.8h0M412.6 175.8h0M389.4 178.7h0M418.5 164.8h0M404.2 193.8h0M394.5 200.6h0M407.5 170.9h0M382.3 193.5h0M410.4 170.1h0M390.6 201.8h0M387.1 183.6h0M381.9 191.3h0M396.1 197.2h0M390.0 179.6h0M405.8 169.6h0M404.7 167.8h0M401.3 196.5h0M417.8 169.7h0M416.7 181.1h0M386.8 198.6h0M387.9 190.4h0M404.0 195.8h0M393.1 185.0h0M382.5 188.2h0M420.8 171.4h0M422.9 164.5h0M391.3 188.4h0M399.0 190.0h0M404.3 186.3h0M405.3 188.5h0M414.1 167.1h0M412.8 187.8h0M407.6 176.4h0M425.3 179.3h0M417.7 187.8h0M404.7 197.4h0M402.3 174.5h0M418.7 192.8h0M391.1 181.4h0M404.2 185.3h0M402.1 176.9h0M397.5 187.8h0M403.4 184.2h0M382.0 200.7h0M408.5 166.5h0M384.5 194.2h0M380.3 201.5h0M412.2 188.0h0M392.3 176.2h0M388.1 179.5h0M381.7 192.1h0M382.9 198.4h0M405.7 161.9h0M382.1 198.7h0M385.0 191.1h0M386.2 186.6h0M391.1 194.9h0M397.7 177.5h0M434.6 161.3h0M410.1 174.9h0M408.0 185.1h0M399.8 201.0h0M390.9 199.2h0M419.9 189.3h0M390.4 186.1h0M383.5 182.5h0M384.2 192.2h0M411.2 180.4h0M383.8 189.3h0M434.9 162.4h0M408.3 199.0h0M379.7 199.1h0M417.4 164.8h0M384.7 194.4h0M392.5 194.5h0M423.0 166.4h0M389.1 192.1h0M393.5 193.2h0M396.6 189.6h0M424.3 174.0h0M411.7 192.1h0M404.5 198.2h0M405.5 169.4h0M383.0 195.4h0M390.7 177.9h0M389.1 177.9h0M391.6 201.4h0M379.9 191.4h0M398.7 184.4h0M399.4 196.1h0M421.0 178.1h0M391.9 177.3h0M385.1 196.7h0M394.2 190.4h0M403.0 184.5h0M413.9 184.7h0M414.5 167.1h0M420.5 167.0h0M384.3 192.6h0M401.3 176.1h0M418.8 176.9h0M385.4 190.4h0M380.5 202.0h0M388.3 187.3h0M402.4 197.5h0M388.0 194.2h0M424.6 180.9h0M398.3 180.5h0M410.1 175.1h0M411.2 169.1h0M401.5 186.4h0M418.5 179.6h0M419.1 176.0h0M406.1 187.2h0M412.0 187.4h0M390.4 182.1h0M392.8 175.7h0M398.9 183.1h0M391.2 184.3h0M388.9 195.3h0M401.9 181.0h0M408.3 198.0h0M411.7 187.1h0M392.5 200.7h0M419.0 178.4h0M415.6 189.6h0M398.1 196.1h0M386.3 183.3h0M387.7 181.6h0M387.3 186.7h0M414.3 184.0h0M384.3 181.6h0M388.0 195.2h0M411.9 188.1h0M398.2 170.3h0M387.6 179.9h0M415.0 171.4h0M408.3 182.2h0M388.2 201.1h0M419.2 191.4h0M414.7 197.6h0M402.4 182.8h0M399.2 179.1h0M380.8 198.7h0M408.7 196.1h0M407.9 191.1h0M419.6 185.8h0M397.0 181.3h0M387.5 194.6h0M410.6 169.0h0M417.8 172.0h0M398.7 173.4h0M387.1 200.3h0M426.8 159.5h0M393.6 177.4h0M392.8 198.3h0M407.1 192.0h0M413.1 175.7h0M397.7 183.5h0M418.0 163.2h0M392.5 182.7h0M418.3 179.1h0M399.6 180.6h0M393.4 199.5h0M419.2 165.0h0M402.1 185.1h0M388.1 195.8h0M391.7 181.8h0M387.9 192.6h0M428.5 169.4h0M381.6 185.2h0M422.0 166.5h0M413.5 196.5h0M391.2 197.0h0M417.9 182.4h0M395.4 195.2h0M414.1 179.5h0M405.8 174.1h0M401.4 200.6h0M420.1 187.8h0M432.0 159.8h0M421.8 192.7h0M438.6 156.5h0M387.3 186.2h0M425.5 164.4h0M398.4 190.1h0M387.8 180.7h0M402.5 185.7h0M415.0 187.5h0M396.8 182.6h0M407.0 169.7h0M408.9 190.8h0M393.9 179.5h0M415.1 170.4h0M421.8 165.0h0M399.8 200.1h0M399.9 192.6h0M403.4 197.1h0M408.0 185.2h0M429.5 167.5h0M386.0 193.4h0M382.8 184.1h0M408.4 186.8h0M413.6 178.4h0M422.4 168.2h0M385.0 198.0h0M409.8 183.6h0M389.7 194.3h0M392.0 184.2h0M406.9 181.2h0M431.0 165.6h0M396.0 201.0h0M402.1 184.0h0M380.1 200.8h0M393.0 184.4h0M399.2 199.2h0M396.0 196.7h0M421.6 190.7h0M413.5 182.7h0M392.9 176.8h0M386.8 195.5h0M424.7 157.5h0M383.8 186.7h0M410.3 185.4h0M415.5 168.6h0M424.7 165.9h0M432.9 165.6h0M396.0 182.7h0M420.6 170.2h0M402.9 197.9h0M392.2 190.5h0M424.1 169.9h0M383.9 197.5h0M413.9 166.0h0M419.3 191.0h0M397.6 181.7h0M411.8 189.3h0M421.0 163.8h0M418.3 183.8h0M384.8 192.3h0M411.1 181.0h0M392.1 185.3h0M388.4 194.8h0M397.8 197.2h0M409.4 190.4h0M411.3 182.1h0M394.2 198.7h0M417.7 175.2h0M398.0 200.1h0M389.5 194.6h0M407.7 199.3h0M425.1 161.4h0M424.2 174.2h0M415.3 159.8h0M392.0 188.0h0M396.8 198.8h0M404.1 198.5h0M410.1 186.6h0M413.9 191.7h0M410.6 165.7h0M385.2 201.6h0M419.1 159.1h0M394.1 189.5h0M380.5 187.9h0M383.3 199.0h0M393.5 199.6h0M418.5 168.4h0M421.6 189.5h0M390.0 180.6h0M415.6 196.3h0M415.5 172.4h0M395.1 201.1h0M416.8 191.6h0M396.4 200.3h0M434.8 156.1h0M389.5 194.3h0M408.3 198.3h0M402.9 189.0h0M388.8 192.9h0M382.7 200.7h0M404.1 176.4h0M400.6 173.4h0M412.2 192.4h0M423.4 163.5h0M429.7 161.3h0M397.4 188.3h0M396.7 183.1h0M415.3 194.0h0M393.2 177.8h0M433.1 158.9h0M403.9 186.5h0M416.6 174.2h0M380.3 187.9h0M389.1 200.4h0M419.8 169.7h0M408.4 175.0h0M384.9 180.7h0M409.0 197.1h0M395.9 184.5h0M401.4 178.1h0M380.9 196.8h0M403.2 195.1h0M400.8 177.8h0M398.9 179.5h0M409.1 187.1h0M401.3 190.2h0M388.5 192.5h0M387.4 189.3h0M391.9 200.2h0M411.5 182.3h0M386.2 187.1h0M412.7 188.0h0M387.1 197.7h0M407.9 179.0h0M407.6 190.7h0M377.9 191.0h0M378.5 194.8h0M420.2 151.3h0M395.6 163.9h0M391.2 167.7h0M387.4 170.8h0M385.5 177.1h0M422.7 197.4h0M424.0 200.5h0M426.9 150.3h0M449.6 153.8h0M453.0 154.4h0M453.7 157.2h0M455.8 157.6h0M459.2 152.7h0M461.3 152.7h0M470.2 152.4h0M446.8 163.4h0M455.1 162.0h0M440.6 173.0h0M431.7 178.5h0M434.4 186.8h0M437.9 185.4h0M426.2 195.7h0M422.8 196.4h0M434.4 171.6h0M433.1 173.0h0M429.6 170.3h0M444.1 159.3h0M444.8 156.5h0M440.0 159.9h0M437.9 163.4h0M447.5 160.6h0M445.5 152.0h0M441.0 151.5h0M432.0 168.0h0M430.5 180.0h0M426.0 188.0h0M401.0 160.0h0M404.0 157.0h0M398.0 162.5h0" stroke="#808080" stroke-width="2.4" stroke-linecap="round" fill="none"/>
<line x1="380" y1="202.53" x2="470.48" y2="116.61" stroke="#111" stroke-width="1.3"/>
<line x1="380" y1="202.53" x2="470.48" y2="130.01" stroke="#b22222" stroke-width="1.05"/>
<text x="381.2" y="125.43">RMSE = 69.32</text>
<text x="381.2" y="135.43"><tspan font-style="italic">ρ</tspan> = 0.84</text>
<text x="441.1" y="192.73" style="fill:#c03838;stroke:#c03838;stroke-width:0.06px"><tspan font-style="italic">β</tspan> = 0.84</text>
<text x="441.1" y="201.53" style="fill:#c03838;stroke:#c03838;stroke-width:0.06px">p = 0.0</text>
<rect x="373.5" y="114.83" width="101" height="90" fill="none" stroke="#747474" stroke-width="1.0"/>
<line x1="371.0" x2="373.5" y1="202.53" y2="202.53" stroke="#4a4a4a" stroke-width="0.85"/>
<text x="368.9" y="205.23" text-anchor="end">0</text>
<line x1="380" x2="380" y1="204.83" y2="207.33" stroke="#4a4a4a" stroke-width="0.85"/>
<text x="380" y="214.13" text-anchor="middle">0</text>
<line x1="371.0" x2="373.5" y1="181.05" y2="181.05" stroke="#4a4a4a" stroke-width="0.85"/>
<text x="368.9" y="183.75" text-anchor="end">200</text>
<line x1="402.62" x2="402.62" y1="204.83" y2="207.33" stroke="#4a4a4a" stroke-width="0.85"/>
<text x="402.62" y="214.13" text-anchor="middle">200</text>
<line x1="371.0" x2="373.5" y1="159.57" y2="159.57" stroke="#4a4a4a" stroke-width="0.85"/>
<text x="368.9" y="162.27" text-anchor="end">400</text>
<line x1="425.24" x2="425.24" y1="204.83" y2="207.33" stroke="#4a4a4a" stroke-width="0.85"/>
<text x="425.24" y="214.13" text-anchor="middle">400</text>
<line x1="371.0" x2="373.5" y1="138.09" y2="138.09" stroke="#4a4a4a" stroke-width="0.85"/>
<text x="368.9" y="140.79" text-anchor="end">600</text>
<line x1="447.86" x2="447.86" y1="204.83" y2="207.33" stroke="#4a4a4a" stroke-width="0.85"/>
<text x="447.86" y="214.13" text-anchor="middle">600</text>
<line x1="371.0" x2="373.5" y1="116.61" y2="116.61" stroke="#4a4a4a" stroke-width="0.85"/>
<text x="368.9" y="119.31" text-anchor="end">800</text>
<line x1="470.48" x2="470.48" y1="204.83" y2="207.33" stroke="#4a4a4a" stroke-width="0.85"/>
<text x="470.48" y="214.13" text-anchor="middle">800</text>
</g>
<g>
<line x1="42.5" x2="346.5" y1="311.41" y2="311.41" stroke="#b0b0b0" stroke-opacity="0.62" stroke-width="0.9"/>
<line x1="42.5" x2="346.5" y1="296.94" y2="296.94" stroke="#b0b0b0" stroke-opacity="0.62" stroke-width="0.9"/>
<line x1="42.5" x2="346.5" y1="282.48" y2="282.48" stroke="#b0b0b0" stroke-opacity="0.62" stroke-width="0.9"/>
<line x1="42.5" x2="346.5" y1="268.01" y2="268.01" stroke="#b0b0b0" stroke-opacity="0.62" stroke-width="0.9"/>
<line x1="42.5" x2="346.5" y1="253.55" y2="253.55" stroke="#b0b0b0" stroke-opacity="0.62" stroke-width="0.9"/>
<line x1="42.5" x2="346.5" y1="239.08" y2="239.08" stroke="#b0b0b0" stroke-opacity="0.62" stroke-width="0.9"/>
<line x1="42.5" x2="346.5" y1="224.62" y2="224.62" stroke="#b0b0b0" stroke-opacity="0.62" stroke-width="0.9"/>
<line x1="51.45" x2="51.45" y1="223.16" y2="313.16" stroke="#b0b0b0" stroke-opacity="0.62" stroke-width="0.9"/>
<line x1="109.1" x2="109.1" y1="223.16" y2="313.16" stroke="#b0b0b0" stroke-opacity="0.62" stroke-width="0.9"/>
<line x1="164.6" x2="164.6" y1="223.16" y2="313.16" stroke="#b0b0b0" stroke-opacity="0.62" stroke-width="0.9"/>
<line x1="222.4" x2="222.4" y1="223.16" y2="313.16" stroke="#b0b0b0" stroke-opacity="0.62" stroke-width="0.9"/>
<line x1="278.2" x2="278.2" y1="223.16" y2="313.16" stroke="#b0b0b0" stroke-opacity="0.62" stroke-width="0.9"/>
<line x1="335.4" x2="335.4" y1="223.16" y2="313.16" stroke="#b0b0b0" stroke-opacity="0.62" stroke-width="0.9"/>
<polygon points="51.4,309.2 53.3,308.2 55.2,306.2 57.0,300.3 58.9,302.3 60.8,301.3 62.7,302.3 64.6,300.3 66.4,301.7 68.3,301.3 70.2,300.9 71.7,297.3 73.0,302.3 74.9,304.2 76.8,304.2 78.7,301.3 80.6,295.3 82.4,299.3 84.3,296.3 86.2,294.4 88.1,286.5 90.0,278.0 91.3,291.4 92.4,302.3 94.3,289.4 96.2,300.3 98.4,299.7 100.3,299.3 102.0,291.4 103.8,283.5 105.3,277.6 106.6,291.4 108.5,293.4 110.3,301.3 112.2,299.3 114.1,300.3 116.0,289.4 117.9,295.3 119.7,284.5 121.1,301.3 122.9,307.2 124.4,294.4 126.3,287.4 128.2,297.3 130.1,294.4 132.3,300.3 134.2,287.4 136.1,291.4 137.6,301.3 139.5,279.5 141.0,265.7 142.9,261.8 144.8,259.8 146.6,258.8 148.0,254.9 149.3,268.7 150.8,281.5 152.7,289.4 154.5,296.3 156.0,289.4 157.9,300.3 160.0,293.4 160.8,284.5 162.7,282.5 164.6,287.4 166.5,301.3 168.3,298.3 170.2,297.3 172.1,296.3 174.0,300.3 175.9,287.4 177.7,304.2 179.6,293.4 181.5,281.5 183.4,285.5 185.3,290.4 187.2,277.6 189.0,272.6 190.9,266.7 192.8,277.6 194.7,302.3 196.6,288.4 198.4,301.3 200.3,306.2 202.2,285.5 204.1,275.6 205.4,258.8 207.3,251.9 209.2,289.4 211.0,283.5 212.9,281.5 214.8,294.4 216.7,272.6 218.0,275.6 218.3,297.3 220.1,285.5 222.0,263.8 223.5,231.2 225.0,261.8 226.3,283.5 227.7,288.4 229.5,301.3 231.4,289.4 233.3,289.4 235.2,288.4 237.1,285.5 238.9,281.5 240.8,284.5 242.7,292.4 244.6,285.5 246.5,275.6 248.3,279.5 250.2,285.5 252.1,251.9 254.0,252.9 255.5,272.6 257.4,285.5 259.3,274.6 261.1,265.7 263.0,255.9 264.9,245.0 266.8,233.1 268.7,268.7 270.5,253.9 272.4,252.9 274.3,232.2 276.0,244.0 278.0,270.7 280.0,271.8 282.1,268.6 284.1,265.4 285.7,262.3 287.7,273.9 289.1,287.7 291.1,273.9 293.2,276.0 295.2,278.1 297.2,288.7 299.2,293.0 301.2,299.3 303.2,302.5 305.2,299.3 307.9,286.6 309.9,290.8 311.9,293.0 313.9,291.9 315.9,293.0 318.0,287.7 320.0,288.7 322.0,291.9 324.0,296.1 326.4,303.5 328.4,296.1 330.5,290.8 332.5,293.0 334.5,298.3 336.5,295.1 338.5,299.3 340.5,295.1 342.1,294.0 342.1,299.1 340.5,300.1 338.5,303.9 336.5,300.1 334.5,302.9 332.5,298.1 330.5,296.2 328.4,301.0 326.4,307.7 324.0,301.0 322.0,297.2 320.0,294.3 318.0,293.4 315.9,298.1 313.9,297.2 311.9,298.1 309.9,296.2 307.9,292.4 305.2,303.9 303.2,306.8 301.2,303.9 299.2,298.1 297.2,294.3 295.2,284.7 293.2,282.8 291.1,280.9 289.1,293.4 287.7,280.9 285.7,270.4 284.1,273.2 282.1,276.1 280.0,279.0 278.0,278.0 276.0,253.9 274.3,243.1 272.4,261.9 270.5,262.8 268.7,276.2 266.8,244.0 264.9,254.7 263.0,264.6 261.1,273.5 259.3,281.5 257.4,291.4 255.5,279.8 254.0,261.9 252.1,261.0 250.2,291.4 248.3,286.0 246.5,282.4 244.6,291.4 242.7,297.6 240.8,290.5 238.9,287.8 237.1,291.4 235.2,294.1 233.3,294.9 231.4,294.9 229.5,305.7 227.7,294.1 226.3,289.6 225.0,269.9 223.5,242.2 222.0,271.7 220.1,291.4 218.3,302.1 218.0,282.4 216.7,279.8 214.8,299.4 212.9,287.8 211.0,289.6 209.2,294.9 207.3,261.0 205.4,267.3 204.1,282.4 202.2,291.4 200.3,310.1 198.4,305.7 196.6,294.1 194.7,306.6 192.8,284.2 190.9,274.4 189.0,279.8 187.2,284.2 185.3,295.8 183.4,291.4 181.5,287.8 179.6,298.5 177.7,308.3 175.9,293.2 174.0,304.8 172.1,301.2 170.2,302.1 168.3,303.0 166.5,305.7 164.6,293.2 162.7,288.7 160.8,290.5 160.0,298.5 157.9,304.8 156.0,294.9 154.5,301.2 152.7,294.9 150.8,287.8 149.3,276.2 148.0,263.7 146.6,267.3 144.8,268.1 142.9,269.9 141.0,273.5 139.5,286.0 137.6,305.7 136.1,296.7 134.2,293.2 132.3,304.8 130.1,299.4 128.2,302.1 126.3,293.2 124.4,299.4 122.9,311.0 121.1,305.7 119.7,290.5 117.9,300.3 116.0,294.9 114.1,304.8 112.2,303.9 110.3,305.7 108.5,298.5 106.6,296.7 105.3,284.2 103.8,289.6 102.0,296.7 100.3,303.9 98.4,304.2 96.2,304.8 94.3,294.9 92.4,306.6 91.3,296.7 90.0,284.6 88.1,292.3 86.2,299.4 84.3,301.2 82.4,303.9 80.6,300.3 78.7,305.7 76.8,308.3 74.9,308.3 73.0,306.6 71.7,302.1 70.2,305.3 68.3,305.7 66.4,306.0 64.6,304.8 62.7,306.6 60.8,305.7 58.9,306.6 57.0,304.8 55.2,310.1 53.3,311.9 51.4,312.8" fill="#efb8b8" stroke="none"/>
<polyline points="51.4,303.5 52.9,298.8 54.2,295.9 56.1,294.1 58.0,295.0 59.9,295.9 62.3,291.8 64.2,294.1 66.1,292.6 68.0,293.1 69.8,295.6 71.7,295.0 73.6,293.7 75.5,294.4 77.4,294.1 79.6,291.8 81.5,293.1 83.4,297.8 85.3,296.9 87.1,295.0 89.0,294.1 90.9,293.1 92.8,295.9 94.7,295.0 96.5,296.9 98.4,300.6 100.3,299.7 102.0,296.9 103.8,288.4 106.0,285.6 107.9,287.5 109.8,289.4 111.7,292.2 113.5,294.1 115.4,291.2 117.3,290.3 119.2,292.2 121.1,301.6 122.9,302.5 124.8,288.4 126.3,283.7 128.2,286.5 130.1,295.9 132.0,296.9 133.9,288.4 135.7,285.6 137.6,288.4 139.5,281.8 141.4,280.5 143.6,280.9 146.1,281.3 148.5,282.8 150.4,278.1 152.3,282.8 154.5,280.0 156.4,282.8 158.3,287.5 160.0,288.4 161.8,285.6 163.6,286.5 165.5,290.3 167.4,292.2 169.3,288.4 170.8,287.5 172.7,290.3 174.6,293.1 176.4,289.4 178.3,293.1 180.2,280.9 182.1,277.1 184.0,280.0 185.8,284.7 187.7,276.2 189.6,275.3 191.5,276.2 193.4,282.8 195.2,291.2 197.1,297.8 199.0,290.3 200.9,281.8 202.8,276.2 204.6,274.3 206.5,272.4 208.4,282.8 210.3,272.4 212.2,274.3 214.0,282.8 215.9,280.9 218.0,279.0 219.8,275.3 221.6,270.6 223.5,264.9 225.4,277.1 227.3,289.4 228.8,274.3 230.7,288.4 232.6,276.2 234.4,271.5 236.3,287.5 238.2,280.0 240.1,285.6 242.0,277.1 243.8,270.6 245.7,271.5 247.6,272.4 249.5,271.5 251.4,276.2 253.2,273.4 255.1,279.0 257.0,277.1 258.9,273.4 261.1,267.7 263.0,266.8 265.3,264.9 267.2,258.3 269.0,267.7 270.9,260.2 272.8,261.2 274.7,269.6 276.0,271.5 278.0,271.4 280.0,274.4 282.1,271.4 284.1,268.3 285.7,267.3 287.7,276.4 289.7,284.5 291.7,279.4 293.8,280.4 295.8,282.5 297.8,283.5 299.8,285.5 301.8,289.5 303.8,292.5 305.9,295.6 307.9,290.5 309.9,292.5 311.9,289.5 313.9,291.5 315.9,290.5 318.0,288.5 320.0,286.5 322.0,287.5 324.0,290.5 326.0,302.6 328.0,295.6 330.0,291.5 332.1,292.5 334.1,295.6 336.1,296.6 338.1,295.6 340.1,297.6 342.1,293.5 343.6,292.5 345.0,300.6" fill="none" stroke="#5e5e5e" stroke-width="1.0" stroke-linejoin="round"/>
<polyline points="51.4,311.0 53.3,310.1 55.2,308.2 57.0,302.5 58.9,304.4 60.8,303.5 62.7,304.4 64.6,302.5 66.4,303.8 68.3,303.5 70.2,303.1 71.7,299.7 73.0,304.4 74.9,306.3 76.8,306.3 78.7,303.5 80.6,297.8 82.4,301.6 84.3,298.8 86.2,296.9 88.1,289.4 90.0,281.3 91.3,294.1 92.4,304.4 94.3,292.2 96.2,302.5 98.4,302.0 100.3,301.6 102.0,294.1 103.8,286.5 105.3,280.9 106.6,294.1 108.5,295.9 110.3,303.5 112.2,301.6 114.1,302.5 116.0,292.2 117.9,297.8 119.7,287.5 121.1,303.5 122.9,309.1 124.4,296.9 126.3,290.3 128.2,299.7 130.1,296.9 132.3,302.5 134.2,290.3 136.1,294.1 137.6,303.5 139.5,282.8 141.0,269.6 142.9,265.9 144.8,264.0 146.6,263.0 148.0,259.3 149.3,272.4 150.8,284.7 152.7,292.2 154.5,298.8 156.0,292.2 157.9,302.5 160.0,295.9 160.8,287.5 162.7,285.6 164.6,290.3 166.5,303.5 168.3,300.6 170.2,299.7 172.1,298.8 174.0,302.5 175.9,290.3 177.7,306.3 179.6,295.9 181.5,284.7 183.4,288.4 185.3,293.1 187.2,280.9 189.0,276.2 190.9,270.6 192.8,280.9 194.7,304.4 196.6,291.2 198.4,303.5 200.3,308.2 202.2,288.4 204.1,279.0 205.4,263.0 207.3,256.4 209.2,292.2 211.0,286.5 212.9,284.7 214.8,296.9 216.7,276.2 218.0,279.0 218.3,299.7 220.1,288.4 222.0,267.7 223.5,236.7 225.0,265.9 226.3,286.5 227.7,291.2 229.5,303.5 231.4,292.2 233.3,292.2 235.2,291.2 237.1,288.4 238.9,284.7 240.8,287.5 242.7,295.0 244.6,288.4 246.5,279.0 248.3,282.8 250.2,288.4 252.1,256.4 254.0,257.4 255.5,276.2 257.4,288.4 259.3,278.1 261.1,269.6 263.0,260.2 264.9,249.9 266.8,238.6 268.7,272.4 270.5,258.3 272.4,257.4 274.3,237.6 276.0,248.9 278.0,274.4 280.0,275.4 282.1,272.4 284.1,269.3 285.7,266.3 287.7,277.4 289.1,290.5 291.1,277.4 293.2,279.4 295.2,281.4 297.2,291.5 299.2,295.6 301.2,301.6 303.2,304.6 305.2,301.6 307.9,289.5 309.9,293.5 311.9,295.6 313.9,294.5 315.9,295.6 318.0,290.5 320.0,291.5 322.0,294.5 324.0,298.6 326.4,305.6 328.4,298.6 330.5,293.5 332.5,295.6 334.5,300.6 336.5,297.6 338.5,301.6 340.5,297.6 342.1,296.6" fill="none" stroke="#b22222" stroke-width="1.0" stroke-linejoin="round"/>
<line x1="242.5" x2="242.5" y1="223.16" y2="313.16" stroke="#6a6a6a" stroke-width="0.9" stroke-dasharray="2.0,1.35"/>
<rect x="42.5" y="223.16" width="304" height="90" fill="none" stroke="#747474" stroke-width="1.0"/>
<line x1="40.0" x2="42.5" y1="311.41" y2="311.41" stroke="#4a4a4a" stroke-width="0.85"/>
<text x="37.4" y="314.21" text-anchor="end">0</text>
<line x1="40.0" x2="42.5" y1="296.94" y2="296.94" stroke="#4a4a4a" stroke-width="0.85"/>
<text x="37.4" y="299.75" text-anchor="end">50</text>
<line x1="40.0" x2="42.5" y1="282.48" y2="282.48" stroke="#4a4a4a" stroke-width="0.85"/>
<text x="37.4" y="285.28" text-anchor="end">100</text>
<line x1="40.0" x2="42.5" y1="268.01" y2="268.01" stroke="#4a4a4a" stroke-width="0.85"/>
<text x="37.4" y="270.81" text-anchor="end">150</text>
<line x1="40.0" x2="42.5" y1="253.55" y2="253.55" stroke="#4a4a4a" stroke-width="0.85"/>
<text x="37.4" y="256.35" text-anchor="end">200</text>
<line x1="40.0" x2="42.5" y1="239.08" y2="239.08" stroke="#4a4a4a" stroke-width="0.85"/>
<text x="37.4" y="241.88" text-anchor="end">250</text>
<line x1="40.0" x2="42.5" y1="224.62" y2="224.62" stroke="#4a4a4a" stroke-width="0.85"/>
<text x="37.4" y="227.42" text-anchor="end">300</text>
<line x1="51.45" x2="51.45" y1="313.16" y2="315.66" stroke="#4a4a4a" stroke-width="0.85"/>
<text x="51.45" y="322.46" text-anchor="middle">2019-03</text>
<line x1="109.1" x2="109.1" y1="313.16" y2="315.66" stroke="#4a4a4a" stroke-width="0.85"/>
<text x="109.1" y="322.46" text-anchor="middle">2019-04</text>
<line x1="164.6" x2="164.6" y1="313.16" y2="315.66" stroke="#4a4a4a" stroke-width="0.85"/>
<text x="164.6" y="322.46" text-anchor="middle">2019-05</text>
<line x1="222.4" x2="222.4" y1="313.16" y2="315.66" stroke="#4a4a4a" stroke-width="0.85"/>
<text x="222.4" y="322.46" text-anchor="middle">2019-06</text>
<line x1="278.2" x2="278.2" y1="313.16" y2="315.66" stroke="#4a4a4a" stroke-width="0.85"/>
<text x="278.2" y="322.46" text-anchor="middle">2019-07</text>
<line x1="335.4" x2="335.4" y1="313.16" y2="315.66" stroke="#4a4a4a" stroke-width="0.85"/>
<text x="335.4" y="322.46" text-anchor="middle">2019-08</text>
</g>
<g>
<line x1="373.5" x2="474.5" y1="310.86" y2="310.86" stroke="#b0b0b0" stroke-opacity="0.62" stroke-width="0.9"/>
<line x1="380" x2="380" y1="223.16" y2="313.16" stroke="#b0b0b0" stroke-opacity="0.62" stroke-width="0.9"/>
<line x1="373.5" x2="474.5" y1="289.38" y2="289.38" stroke="#b0b0b0" stroke-opacity="0.62" stroke-width="0.9"/>
<line x1="402.62" x2="402.62" y1="223.16" y2="313.16" stroke="#b0b0b0" stroke-opacity="0.62" stroke-width="0.9"/>
<line x1="373.5" x2="474.5" y1="267.9" y2="267.9" stroke="#b0b0b0" stroke-opacity="0.62" stroke-width="0.9"/>
<line x1="425.24" x2="425.24" y1="223.16" y2="313.16" stroke="#b0b0b0" stroke-opacity="0.62" stroke-width="0.9"/>
<line x1="373.5" x2="474.5" y1="246.42" y2="246.42" stroke="#b0b0b0" stroke-opacity="0.62" stroke-width="0.9"/>
<line x1="447.86" x2="447.86" y1="223.16" y2="313.16" stroke="#b0b0b0" stroke-opacity="0.62" stroke-width="0.9"/>
<line x1="373.5" x2="474.5" y1="224.94" y2="224.94" stroke="#b0b0b0" stroke-opacity="0.62" stroke-width="0.9"/>
<line x1="470.48" x2="470.48" y1="223.16" y2="313.16" stroke="#b0b0b0" stroke-opacity="0.62" stroke-width="0.9"/>
<path d="M387.9 293.3h0M402.9 293.4h0M386.6 302.6h0M417.2 285.0h0M392.6 289.2h0M399.6 296.7h0M413.9 284.9h0M406.9 293.8h0M438.4 272.0h0M406.9 295.5h0M409.0 274.8h0M405.0 279.0h0M397.4 299.4h0M389.3 301.6h0M392.4 294.9h0M395.9 301.1h0M387.0 307.6h0M396.3 290.4h0M382.7 300.1h0M395.8 307.0h0M419.7 273.7h0M393.7 287.0h0M385.4 296.9h0M409.4 297.0h0M382.0 296.7h0M406.5 285.3h0M418.7 277.4h0M437.6 273.7h0M406.2 277.4h0M411.7 279.8h0M404.0 296.3h0M399.6 304.4h0M396.5 292.3h0M400.5 293.5h0M401.9 277.7h0M393.9 299.0h0M393.8 300.3h0M389.2 307.2h0M399.5 288.5h0M393.3 287.3h0M400.6 293.4h0M400.0 290.1h0M385.0 308.4h0M390.6 286.8h0M391.9 291.5h0M403.8 296.0h0M440.0 265.8h0M407.0 297.9h0M403.9 289.8h0M405.9 292.5h0M411.8 275.8h0M383.8 295.3h0M415.6 279.4h0M402.4 281.2h0M406.1 294.3h0M416.8 287.2h0M410.2 285.3h0M401.0 282.5h0M414.8 286.8h0M400.4 280.8h0M397.4 298.1h0M387.4 290.6h0M394.1 291.6h0M409.8 282.3h0M408.6 274.0h0M386.1 292.4h0M388.4 289.5h0M414.1 287.9h0M395.3 296.6h0M398.3 294.9h0M424.7 271.7h0M406.8 275.0h0M414.8 272.8h0M385.0 298.4h0M381.8 296.8h0M398.5 282.0h0M396.3 282.1h0M413.0 282.9h0M421.4 278.8h0M389.7 297.7h0M413.4 281.2h0M406.4 281.9h0M390.2 287.1h0M392.3 303.8h0M396.5 303.2h0M415.7 272.0h0M416.7 293.2h0M389.3 288.0h0M410.1 285.3h0M392.9 294.9h0M399.4 283.7h0M390.8 305.1h0M387.7 296.5h0M406.7 303.0h0M402.9 292.9h0M398.8 290.8h0M404.2 282.0h0M410.9 290.8h0M384.4 310.5h0M390.0 292.3h0M395.2 297.9h0M425.7 277.0h0M410.2 275.1h0M422.8 274.2h0M402.9 277.4h0M400.1 298.1h0M425.1 282.1h0M391.1 290.7h0M405.3 289.2h0M408.1 301.4h0M387.3 308.1h0M382.6 304.2h0M386.4 293.5h0M388.2 298.3h0M382.5 302.3h0M392.9 310.2h0M408.9 291.9h0M390.8 299.2h0M396.7 290.3h0M382.3 298.1h0M403.0 277.9h0M399.0 298.0h0M402.4 279.9h0M391.0 303.9h0M419.5 268.5h0M402.8 298.6h0M416.5 285.2h0M391.0 306.8h0M401.5 295.3h0M400.7 285.5h0M430.1 274.8h0M391.9 297.8h0M419.0 272.5h0M400.5 291.1h0M405.7 292.7h0M416.9 287.1h0M395.0 287.8h0M398.1 280.9h0M400.1 280.6h0M381.2 301.3h0M401.0 300.7h0M406.4 282.6h0M409.1 279.6h0M393.2 303.2h0M418.1 274.7h0M401.0 281.2h0M385.6 291.6h0M407.7 284.7h0M396.8 305.3h0M391.3 288.3h0M396.4 289.8h0M391.1 307.2h0M387.9 300.7h0M408.8 296.2h0M392.3 298.0h0M398.0 305.9h0M403.2 286.4h0M385.4 308.6h0M421.1 273.0h0M390.8 299.4h0M409.6 299.0h0M399.1 305.6h0M382.4 305.9h0M389.8 306.4h0M410.1 291.8h0M382.4 307.0h0M394.5 284.5h0M433.6 271.1h0M424.3 277.6h0M402.3 291.5h0M397.0 285.5h0M409.2 284.5h0M385.1 297.3h0M394.0 287.7h0M425.9 269.7h0M385.9 292.5h0M392.7 299.5h0M436.0 274.1h0M406.8 291.5h0M389.0 287.8h0M407.7 278.9h0M398.3 290.5h0M417.1 281.1h0M389.2 289.2h0M398.3 284.9h0M426.0 269.7h0M400.3 285.1h0M417.5 275.7h0M406.2 292.6h0M412.1 291.5h0M400.5 282.7h0M403.8 278.1h0M412.3 289.8h0M406.3 282.2h0M402.0 295.8h0M390.7 301.0h0M403.0 289.0h0M398.7 276.3h0M389.2 295.7h0M407.6 299.0h0M395.7 294.7h0M398.9 281.8h0M392.0 297.6h0M402.4 285.2h0M407.3 295.4h0M405.8 293.7h0M399.1 298.3h0M405.7 284.7h0M400.3 303.6h0M409.6 276.0h0M390.4 287.4h0M388.7 292.1h0M395.6 304.2h0M384.7 291.6h0M402.2 295.4h0M398.0 302.2h0M384.2 308.6h0M412.4 274.4h0M411.9 274.6h0M399.0 281.7h0M398.3 296.7h0M397.7 284.6h0M428.7 280.5h0M398.5 303.3h0M398.1 297.5h0M403.8 305.1h0M398.4 291.2h0M397.1 282.2h0M399.0 290.4h0M397.4 302.4h0M395.2 292.0h0M398.8 294.0h0M389.4 298.2h0M393.8 303.7h0M390.1 309.3h0M394.3 286.6h0M401.0 287.2h0M413.8 287.4h0M409.6 277.4h0M414.5 289.5h0M420.5 282.2h0M404.6 289.6h0M394.1 302.3h0M398.2 306.0h0M396.6 290.6h0M389.4 292.8h0M409.3 276.9h0M392.5 307.5h0M398.7 284.5h0M384.7 307.9h0M383.0 290.4h0M388.9 304.6h0M382.4 293.8h0M404.3 290.8h0M397.8 301.2h0M401.5 296.3h0M404.9 277.7h0M416.0 286.2h0M404.3 290.2h0M395.0 296.5h0M410.3 275.4h0M410.7 289.9h0M425.9 282.3h0M397.7 296.3h0M402.0 283.2h0M418.8 276.5h0M423.2 279.1h0M399.0 301.7h0M387.8 292.0h0M391.4 304.3h0M415.7 280.7h0M395.9 308.5h0M403.0 287.2h0M391.2 304.8h0M404.3 288.5h0M399.4 299.3h0M406.2 283.1h0M411.2 283.7h0M408.0 290.6h0M403.1 292.0h0M403.3 299.2h0M398.3 304.3h0M393.4 294.9h0M408.4 287.3h0M397.0 287.5h0M401.6 278.7h0M392.3 292.2h0M390.0 296.7h0M392.2 292.1h0M401.4 289.7h0M408.3 303.5h0M391.1 295.7h0M432.1 265.7h0M388.6 297.7h0M408.6 292.7h0M415.4 271.7h0M414.6 289.0h0M392.3 293.5h0M415.5 287.9h0M409.7 284.6h0M415.6 277.4h0M410.4 293.3h0M387.0 307.0h0M408.3 288.2h0M383.5 292.0h0M398.0 305.3h0M401.0 281.1h0M409.0 283.6h0M404.6 294.2h0M399.6 280.1h0M394.9 304.4h0M380.8 302.5h0M401.8 283.6h0M390.7 286.3h0M407.4 283.4h0M415.9 271.3h0M400.8 299.7h0M423.8 274.9h0M406.7 284.0h0M397.9 303.4h0M395.6 301.2h0M403.4 292.0h0M384.0 296.2h0M386.8 310.4h0M400.8 294.9h0M387.8 291.1h0M405.9 301.0h0M411.9 286.2h0M410.2 275.6h0M384.9 310.6h0M403.2 301.5h0M390.4 298.8h0M394.7 308.7h0M421.5 276.6h0M392.0 300.3h0M391.2 291.3h0M409.5 301.1h0M385.0 292.3h0M396.6 285.8h0M383.2 306.1h0M423.2 270.5h0M383.4 309.5h0M384.1 292.0h0M402.0 277.9h0M403.0 293.3h0M400.5 278.8h0M411.8 293.2h0M405.5 297.2h0M402.4 291.4h0M404.2 296.8h0M422.2 275.9h0M391.9 294.9h0M422.0 276.9h0M400.6 292.5h0M391.9 299.5h0M398.7 288.9h0M427.6 274.1h0M414.5 278.3h0M402.3 291.5h0M394.7 286.5h0M419.2 275.7h0M390.7 294.1h0M396.5 292.1h0M382.7 303.1h0M407.6 276.6h0M403.9 289.8h0M400.7 285.7h0M394.8 294.3h0M387.5 296.9h0M380.6 302.0h0M395.1 284.8h0M395.2 305.5h0M399.1 280.6h0M396.5 283.2h0M400.0 282.3h0M416.5 272.5h0M413.0 289.7h0M395.3 303.9h0M398.3 304.9h0M403.5 278.8h0M405.6 289.5h0M383.6 295.7h0M395.0 298.9h0M381.1 306.1h0M425.6 267.3h0M403.1 278.2h0M404.4 291.5h0M390.8 301.3h0M400.0 282.6h0M412.9 286.9h0M394.5 289.5h0M401.1 301.6h0M408.8 278.2h0M382.1 301.2h0M401.9 297.5h0M401.0 286.5h0M429.6 272.6h0M395.4 285.1h0M399.9 295.1h0M395.7 306.5h0M417.2 285.8h0M381.7 297.7h0M393.3 309.3h0M403.1 296.8h0M394.2 307.4h0M406.5 284.3h0M383.7 302.9h0M388.5 288.3h0M389.2 306.4h0M390.2 299.5h0M408.4 290.2h0M398.9 304.2h0M399.4 296.9h0M406.3 287.4h0M403.4 298.5h0M399.1 294.0h0M407.4 295.2h0M384.1 302.0h0M419.6 270.0h0M403.8 292.1h0M395.6 297.5h0M395.6 299.2h0M382.2 308.2h0M416.7 275.0h0M385.4 295.9h0M395.8 296.4h0M391.4 307.1h0M394.2 297.2h0M411.9 278.9h0M414.0 275.2h0M389.3 302.2h0M406.8 296.5h0M387.4 290.6h0M416.6 283.8h0M391.7 297.3h0M415.3 284.3h0M400.4 301.4h0M400.7 297.3h0M395.5 284.6h0M397.9 301.3h0M387.1 307.0h0M390.7 297.5h0M426.1 279.1h0M410.2 297.4h0M383.9 293.6h0M389.2 288.0h0M382.5 293.2h0M423.3 278.5h0M401.1 280.0h0M390.8 296.2h0M402.9 275.5h0M425.4 277.6h0M390.9 294.8h0M393.0 285.3h0M385.7 303.4h0M386.6 293.6h0M413.4 273.8h0M403.3 280.4h0M410.1 296.7h0M416.6 285.9h0M386.8 299.5h0M410.3 293.7h0M394.9 294.2h0M405.6 279.4h0M403.9 289.3h0M397.9 304.4h0M393.9 308.4h0M401.8 299.4h0M400.8 293.4h0M392.2 289.8h0M380.7 299.7h0M397.3 285.0h0M398.1 290.4h0M406.2 286.0h0M386.2 292.3h0M393.1 303.9h0M404.6 298.7h0M387.7 292.3h0M415.8 278.1h0M406.9 296.6h0M401.9 303.1h0M402.3 297.8h0M399.5 301.5h0M390.6 299.3h0M387.4 297.9h0M411.7 276.4h0M408.1 292.4h0M412.3 281.2h0M383.9 304.6h0M414.9 288.6h0M403.7 299.3h0M388.3 302.2h0M402.7 301.6h0M386.2 294.0h0M396.6 300.3h0M403.1 277.2h0M398.0 280.4h0M401.8 299.6h0M394.6 292.2h0M397.1 304.4h0M410.7 280.9h0M408.7 282.5h0M392.9 291.2h0M404.0 294.1h0M395.0 307.7h0M410.0 279.4h0M438.4 272.2h0M395.0 305.6h0M407.9 280.7h0M407.8 292.5h0M394.8 287.0h0M408.0 282.8h0M409.6 293.5h0M403.7 300.4h0M398.9 293.6h0M423.0 274.8h0M399.5 284.1h0M396.0 294.0h0M416.1 273.0h0M391.9 301.4h0M413.9 283.7h0M390.5 282.7h0M393.2 288.0h0M383.4 301.5h0M390.5 309.5h0M383.3 295.2h0M397.3 299.4h0M383.1 301.7h0M398.6 289.6h0M404.1 280.6h0M389.8 297.6h0M383.0 301.8h0M407.6 276.7h0M410.0 281.2h0M412.2 275.4h0M402.7 292.9h0M386.3 308.0h0M401.7 299.6h0M409.3 286.9h0M417.9 275.6h0M418.4 273.1h0M428.7 281.2h0M384.3 306.2h0M407.3 281.6h0M393.2 309.5h0M391.7 294.1h0M406.7 280.3h0M397.4 284.2h0M425.5 268.4h0M422.9 269.7h0M388.2 298.0h0M410.5 288.5h0M390.5 288.9h0M404.4 290.4h0M415.7 292.5h0M381.4 306.5h0M403.5 280.0h0M397.4 285.6h0M392.9 283.0h0M393.8 307.7h0M418.1 285.8h0M399.8 283.3h0M390.5 289.9h0M398.7 279.8h0M395.6 284.3h0M401.0 281.6h0M394.3 294.9h0M384.0 289.7h0M394.1 299.6h0M385.0 298.3h0M385.9 303.8h0M403.8 295.1h0M393.2 306.6h0M412.2 297.8h0M401.7 291.6h0M401.1 297.3h0M384.7 293.6h0M430.8 278.8h0M401.2 296.7h0M429.4 275.8h0M387.1 295.5h0M392.8 288.6h0M417.8 280.0h0M404.9 305.4h0M389.4 302.3h0M402.3 287.6h0M393.0 298.0h0M397.4 276.1h0M391.7 293.7h0M432.6 278.3h0M383.9 296.0h0M414.0 274.5h0M425.9 275.5h0M407.5 274.3h0M382.4 302.2h0M397.2 292.1h0M397.3 293.5h0M407.8 282.8h0M397.4 305.7h0M404.5 286.7h0M408.7 292.0h0M394.5 298.9h0M389.2 304.9h0M410.2 287.0h0M411.6 291.8h0M384.1 301.2h0M393.9 287.7h0M425.8 272.0h0M408.8 280.6h0M402.5 286.4h0M411.3 292.5h0M409.6 279.3h0M404.9 280.3h0M408.1 289.9h0M396.7 288.2h0M402.1 307.7h0M397.3 294.2h0M414.2 277.4h0M405.1 282.0h0M394.7 295.1h0M408.2 277.4h0M399.6 278.3h0M390.2 293.4h0M386.9 293.0h0M398.8 301.3h0M395.2 288.4h0M422.0 284.8h0M395.8 287.8h0M406.1 287.5h0M400.0 294.8h0M406.8 287.5h0M385.8 308.5h0M407.5 284.4h0M399.2 286.1h0M385.5 303.4h0M411.0 294.2h0M399.5 296.6h0M393.8 299.8h0M409.3 279.9h0M397.6 305.0h0M388.5 299.3h0M395.2 306.4h0M414.2 290.3h0M394.0 286.7h0M407.6 293.3h0M418.6 278.3h0M407.5 295.9h0M410.3 284.5h0M381.6 307.0h0M398.7 290.2h0M405.6 278.5h0M386.1 306.8h0M411.7 274.0h0M396.6 284.2h0M402.7 293.7h0M403.1 287.8h0M419.3 280.2h0M401.3 303.5h0M399.5 281.4h0M418.9 291.1h0M385.2 301.4h0M402.9 288.6h0M400.0 300.3h0M400.8 300.2h0M383.8 304.0h0M402.7 291.2h0M395.2 288.1h0M389.9 299.4h0M416.8 280.2h0M387.3 309.9h0M384.2 308.8h0M397.6 291.3h0M400.9 296.4h0M393.2 307.8h0M400.1 295.6h0M418.1 281.3h0M410.3 288.7h0M413.3 276.1h0M400.0 280.3h0M391.4 305.0h0M399.2 296.8h0M386.4 306.6h0M403.2 299.5h0M389.4 300.4h0M391.1 308.0h0M397.0 298.1h0M404.4 296.9h0M416.2 281.2h0M420.5 269.7h0M391.4 285.8h0M381.4 303.0h0M419.6 278.8h0M406.8 277.1h0M413.3 284.4h0M409.0 299.7h0M396.6 290.6h0M432.1 271.5h0M388.8 299.9h0M392.1 288.6h0M391.1 289.7h0M430.7 277.5h0M391.5 306.8h0M381.0 307.1h0M425.8 267.0h0M392.1 298.1h0M383.8 302.8h0M407.6 303.6h0M394.6 294.8h0M396.6 286.0h0M392.3 297.0h0M416.5 280.1h0M391.3 300.7h0M396.5 284.5h0M403.1 297.0h0M403.9 296.7h0M394.2 293.1h0M390.2 292.5h0M391.5 308.1h0M413.6 273.2h0M421.3 271.5h0M407.6 282.7h0M400.6 291.7h0M405.4 280.4h0M395.0 298.0h0M410.1 275.0h0M422.6 272.2h0M423.0 270.0h0M404.3 291.8h0M408.9 291.8h0M400.0 302.8h0M403.0 278.7h0M407.5 275.6h0M384.5 295.8h0M392.9 298.1h0M385.7 304.7h0M383.6 309.6h0M393.8 291.3h0M401.0 292.8h0M381.1 304.8h0M399.7 286.6h0M404.9 281.8h0M411.6 283.2h0M396.3 308.7h0M415.2 287.7h0M395.5 308.6h0M411.8 282.3h0M415.6 279.7h0M416.7 269.4h0M421.5 280.9h0M395.3 292.6h0M393.9 288.5h0M405.6 292.4h0M397.5 292.3h0M414.5 288.8h0M386.7 305.9h0M403.6 282.6h0M387.6 293.0h0M422.5 271.7h0M392.2 309.4h0M402.6 276.5h0M385.2 308.9h0M417.1 290.3h0M402.7 294.9h0M397.3 301.1h0M415.0 277.0h0M396.5 281.9h0M393.9 289.2h0M404.4 294.4h0M396.2 306.3h0M389.9 297.5h0M400.9 300.8h0M421.4 290.8h0M398.9 279.3h0M397.1 309.3h0M400.1 297.7h0M418.1 275.1h0M401.7 302.6h0M399.2 281.5h0M404.6 296.0h0M381.8 304.0h0M403.2 298.5h0M405.0 305.6h0M392.0 300.7h0M390.3 306.9h0M405.1 277.0h0M412.2 288.0h0M407.2 279.4h0M407.4 296.4h0M384.5 296.7h0M417.7 273.3h0M422.0 281.0h0M397.1 304.1h0M394.6 305.8h0M388.1 304.6h0M404.6 290.8h0M382.8 295.3h0M405.3 286.9h0M392.6 295.6h0M402.6 307.0h0M417.5 272.3h0M415.8 275.7h0M412.7 286.4h0M420.8 289.9h0M389.3 289.1h0M398.2 295.8h0M409.8 280.6h0M395.1 284.9h0M413.9 274.1h0M396.3 305.2h0M400.8 301.7h0M415.9 293.3h0M392.5 288.1h0M410.3 292.0h0M394.5 292.9h0M403.8 299.5h0M414.2 287.1h0M394.9 307.1h0M419.6 274.8h0M409.8 290.3h0M382.0 305.3h0M382.8 300.4h0M410.7 284.1h0M381.3 305.7h0M408.7 280.1h0M429.6 266.0h0M407.3 293.4h0M407.8 296.4h0M424.1 271.8h0M387.9 291.3h0M405.2 294.3h0M423.6 279.4h0M399.9 278.3h0M390.6 293.9h0M414.5 274.3h0M399.2 293.4h0M426.6 280.7h0M389.8 308.0h0M384.6 307.1h0M406.8 295.6h0M397.5 304.5h0M414.7 271.9h0M413.4 291.6h0M419.9 269.9h0M408.1 286.9h0M382.9 293.9h0M412.1 273.5h0M386.2 308.1h0M414.1 279.4h0M410.0 284.0h0M383.4 301.4h0M390.7 305.3h0M394.4 297.4h0M420.0 273.0h0M425.1 279.2h0M398.1 285.0h0M408.4 289.8h0M422.2 287.9h0M408.3 277.4h0M397.1 283.8h0M383.3 308.4h0M397.9 301.0h0M394.1 302.7h0M394.4 289.0h0M400.4 290.6h0M399.9 288.3h0M408.3 290.1h0M413.5 273.0h0M403.7 301.9h0M393.0 299.6h0M388.5 299.1h0M413.0 279.1h0M395.5 291.8h0M387.7 303.8h0M402.8 284.9h0M392.6 292.0h0M386.3 301.2h0M405.6 280.5h0M405.3 290.5h0M387.8 300.1h0M406.8 282.9h0M421.5 279.2h0M396.9 289.2h0M423.0 276.1h0M408.1 274.2h0M388.6 302.8h0M384.2 292.5h0M387.9 293.3h0M388.3 306.0h0M416.5 271.8h0M405.3 283.7h0M382.8 305.6h0M398.5 279.5h0M407.1 289.6h0M422.9 278.1h0M393.3 298.2h0M387.8 306.1h0M383.7 300.7h0M414.4 284.3h0M417.2 276.9h0M391.7 295.2h0M392.3 309.8h0M393.8 291.9h0M395.1 308.6h0M418.0 280.9h0M401.2 298.5h0M399.1 299.6h0M384.1 293.4h0M393.7 293.5h0M386.3 292.5h0M408.2 296.0h0M400.6 279.8h0M409.2 287.3h0M390.5 304.8h0M396.6 301.2h0M401.5 300.5h0M395.5 288.0h0M426.5 273.6h0M399.2 304.9h0M396.6 299.2h0M385.0 292.8h0M396.8 286.5h0M399.7 300.3h0M421.5 272.0h0M418.9 269.1h0M410.4 277.6h0M408.6 292.2h0M406.0 292.5h0M392.8 298.7h0M414.4 282.1h0M407.8 291.7h0M413.0 274.3h0M408.1 287.1h0M385.8 305.6h0M392.4 296.2h0M404.9 292.8h0M397.1 298.5h0M396.3 301.3h0M393.8 284.8h0M395.0 291.8h0M399.3 298.6h0M406.7 281.0h0M383.4 299.5h0M410.7 285.7h0M386.2 305.5h0M392.2 307.6h0M395.4 295.3h0M390.8 307.3h0M387.4 307.3h0M397.7 307.4h0M420.6 289.1h0M424.3 270.6h0M418.6 271.5h0M389.8 286.8h0M427.0 285.0h0M387.1 290.4h0M418.5 285.9h0M402.4 281.2h0M386.2 301.0h0M409.6 275.7h0M409.6 275.7h0M396.7 290.6h0M391.9 303.1h0M399.3 284.9h0M398.1 281.3h0M389.2 310.3h0M386.9 289.3h0M388.2 307.3h0M418.2 279.3h0M415.2 283.1h0M402.3 296.0h0M395.2 288.3h0M395.2 305.3h0M409.9 274.9h0M416.9 278.6h0M417.2 279.1h0M394.9 290.6h0M406.8 299.8h0M391.7 307.6h0M398.1 309.2h0M406.2 289.8h0M409.6 278.2h0M388.4 289.5h0M394.1 287.1h0M419.0 281.5h0M407.4 284.0h0M393.4 293.3h0M386.4 295.5h0M397.6 292.8h0M393.6 288.0h0M415.9 272.0h0M412.4 288.4h0M392.6 303.5h0M399.2 290.7h0M390.6 304.8h0M394.5 304.9h0M406.0 297.0h0M408.3 280.8h0M386.3 302.1h0M399.8 292.9h0M398.1 304.7h0M412.5 275.6h0M409.0 274.0h0M411.4 280.0h0M412.2 273.7h0M404.3 293.6h0M399.7 300.3h0M388.7 295.0h0M405.5 297.1h0M411.2 276.0h0M405.0 281.9h0M408.5 285.8h0M419.0 269.9h0M418.1 286.8h0M391.3 297.7h0M391.1 291.9h0M395.5 292.1h0M406.3 289.8h0M392.4 309.9h0M400.2 279.5h0M422.5 271.2h0M391.9 310.0h0M396.7 303.0h0M407.8 273.9h0M415.0 286.3h0M399.7 304.3h0M389.2 290.2h0M389.4 302.3h0M382.1 310.5h0M407.5 291.6h0M406.8 274.6h0M408.6 287.7h0M409.3 295.6h0M433.4 277.9h0M404.2 281.1h0M420.0 278.2h0M439.8 270.7h0M399.0 288.8h0M406.6 278.7h0M382.1 294.2h0M406.5 280.3h0M411.3 277.1h0M422.5 274.0h0M408.5 289.8h0M392.4 300.3h0M409.5 289.9h0M414.0 281.4h0M396.2 293.4h0M404.1 281.6h0M412.3 286.3h0M411.7 289.0h0M396.3 298.4h0M410.6 289.1h0M409.2 279.2h0M381.7 306.1h0M397.2 293.0h0M409.8 289.5h0M381.6 296.9h0M394.9 291.5h0M395.1 304.4h0M391.4 286.5h0M408.6 277.5h0M413.3 291.1h0M382.7 302.4h0M391.8 297.8h0M402.6 274.9h0M417.0 284.9h0M406.0 280.6h0M386.4 285.1h0M399.8 285.2h0M397.6 284.1h0M409.0 288.3h0M385.3 294.7h0M395.8 305.1h0M404.2 298.9h0M424.1 288.1h0M386.4 290.7h0M397.7 292.0h0M391.3 292.7h0M386.4 290.0h0M417.5 288.5h0M398.0 304.5h0M391.6 304.3h0M416.7 285.7h0M399.6 297.5h0M411.3 282.0h0M403.5 280.7h0M413.3 296.5h0M414.6 279.7h0M384.2 295.8h0M437.3 271.3h0M389.3 305.8h0M385.6 292.7h0M400.8 282.3h0M418.6 272.6h0M415.3 296.0h0M397.7 299.3h0M389.0 301.0h0M395.6 292.0h0M384.1 302.0h0M398.4 284.6h0M401.7 293.9h0M413.1 280.7h0M393.8 297.7h0M382.6 295.6h0M407.7 285.9h0M397.9 304.5h0M397.0 291.9h0M416.7 287.9h0M403.5 294.7h0M403.8 294.3h0M402.2 282.0h0M385.0 304.5h0M390.6 305.8h0M388.0 298.8h0M389.6 309.2h0M402.5 291.3h0M389.1 296.8h0M402.4 297.3h0M395.1 294.4h0M389.3 299.3h0M397.3 302.2h0M404.0 289.9h0M402.8 295.8h0M388.5 309.6h0M403.3 299.8h0M414.5 283.0h0M393.0 285.0h0M399.9 304.7h0M404.6 295.6h0M419.6 286.2h0M397.8 302.2h0M412.0 284.4h0M413.5 291.4h0M418.0 283.9h0M401.1 296.4h0M389.4 291.2h0M398.3 291.4h0M388.3 292.6h0M387.4 297.5h0M398.8 281.0h0M404.9 304.2h0M384.0 296.8h0M386.1 303.3h0M404.8 283.8h0M396.5 288.3h0M406.8 280.6h0M413.9 286.1h0M400.0 295.3h0M395.0 294.0h0M390.4 309.9h0M389.2 307.5h0M392.7 296.1h0M401.6 297.0h0M385.5 299.9h0M422.8 281.8h0M386.7 310.4h0M404.7 295.4h0M392.3 299.7h0M404.5 285.4h0M402.6 288.9h0M420.5 274.5h0M399.3 294.2h0M444.8 259.7h0M446.8 261.8h0M451.6 261.1h0M453.0 263.1h0M455.1 260.4h0M456.5 259.0h0M459.9 263.8h0M461.3 261.8h0M464.7 259.0h0M467.5 261.8h0M449.6 267.3h0M450.9 269.3h0M455.8 268.6h0M447.5 274.1h0M448.9 276.2h0M444.1 262.4h0M433.1 300.3h0M424.8 303.7h0M437.9 279.6h0M430.3 284.5h0M436.5 270.0h0M439.9 272.1h0M377.9 302.2h0M412.6 264.3h0M422.7 263.7h0M408.2 269.4h0M409.5 302.8h0M412.0 307.9h0M418.9 306.6h0M424.6 304.1h0M412.6 300.9h0M415.1 298.4h0M443.0 266.0h0M446.0 265.0h0M441.5 276.0h0M425.0 293.0h0M421.0 296.5h0M417.0 299.0h0" stroke="#808080" stroke-width="2.4" stroke-linecap="round" fill="none"/>
<line x1="380" y1="310.86" x2="470.48" y2="224.94" stroke="#111" stroke-width="1.3"/>
<line x1="380" y1="310.86" x2="467.54" y2="237.79" stroke="#b22222" stroke-width="1.05"/>
<text x="381.2" y="233.76">RMSE = 71.12</text>
<text x="381.2" y="243.76"><tspan font-style="italic">ρ</tspan> = 0.86</text>
<text x="441.1" y="301.06" style="fill:#c03838;stroke:#c03838;stroke-width:0.06px"><tspan font-style="italic">β</tspan> = 0.87</text>
<text x="441.1" y="309.86" style="fill:#c03838;stroke:#c03838;stroke-width:0.06px">p = 0.0</text>
<rect x="373.5" y="223.16" width="101" height="90" fill="none" stroke="#747474" stroke-width="1.0"/>
<line x1="371.0" x2="373.5" y1="310.86" y2="310.86" stroke="#4a4a4a" stroke-width="0.85"/>
<text x="368.9" y="313.56" text-anchor="end">0</text>
<line x1="380" x2="380" y1="313.16" y2="315.66" stroke="#4a4a4a" stroke-width="0.85"/>
<text x="380" y="322.46" text-anchor="middle">0</text>
<line x1="371.0" x2="373.5" y1="289.38" y2="289.38" stroke="#4a4a4a" stroke-width="0.85"/>
<text x="368.9" y="292.08" text-anchor="end">200</text>
<line x1="402.62" x2="402.62" y1="313.16" y2="315.66" stroke="#4a4a4a" stroke-width="0.85"/>
<text x="402.62" y="322.46" text-anchor="middle">200</text>
<line x1="371.0" x2="373.5" y1="267.9" y2="267.9" stroke="#4a4a4a" stroke-width="0.85"/>
<text x="368.9" y="270.6" text-anchor="end">400</text>
<line x1="425.24" x2="425.24" y1="313.16" y2="315.66" stroke="#4a4a4a" stroke-width="0.85"/>
<text x="425.24" y="322.46" text-anchor="middle">400</text>
<line x1="371.0" x2="373.5" y1="246.42" y2="246.42" stroke="#4a4a4a" stroke-width="0.85"/>
<text x="368.9" y="249.12" text-anchor="end">600</text>
<line x1="447.86" x2="447.86" y1="313.16" y2="315.66" stroke="#4a4a4a" stroke-width="0.85"/>
<text x="447.86" y="322.46" text-anchor="middle">600</text>
<line x1="371.0" x2="373.5" y1="224.94" y2="224.94" stroke="#4a4a4a" stroke-width="0.85"/>
<text x="368.9" y="227.64" text-anchor="end">800</text>
<line x1="470.48" x2="470.48" y1="313.16" y2="315.66" stroke="#4a4a4a" stroke-width="0.85"/>
<text x="470.48" y="322.46" text-anchor="middle">800</text>
</g>
<g>
<line x1="42.5" x2="346.5" y1="419.74" y2="419.74" stroke="#b0b0b0" stroke-opacity="0.62" stroke-width="0.9"/>
<line x1="42.5" x2="346.5" y1="405.27" y2="405.27" stroke="#b0b0b0" stroke-opacity="0.62" stroke-width="0.9"/>
<line x1="42.5" x2="346.5" y1="390.81" y2="390.81" stroke="#b0b0b0" stroke-opacity="0.62" stroke-width="0.9"/>
<line x1="42.5" x2="346.5" y1="376.35" y2="376.35" stroke="#b0b0b0" stroke-opacity="0.62" stroke-width="0.9"/>
<line x1="42.5" x2="346.5" y1="361.88" y2="361.88" stroke="#b0b0b0" stroke-opacity="0.62" stroke-width="0.9"/>
<line x1="42.5" x2="346.5" y1="347.42" y2="347.42" stroke="#b0b0b0" stroke-opacity="0.62" stroke-width="0.9"/>
<line x1="42.5" x2="346.5" y1="332.95" y2="332.95" stroke="#b0b0b0" stroke-opacity="0.62" stroke-width="0.9"/>
<line x1="51.45" x2="51.45" y1="331.49" y2="421.49" stroke="#b0b0b0" stroke-opacity="0.62" stroke-width="0.9"/>
<line x1="109.1" x2="109.1" y1="331.49" y2="421.49" stroke="#b0b0b0" stroke-opacity="0.62" stroke-width="0.9"/>
<line x1="164.6" x2="164.6" y1="331.49" y2="421.49" stroke="#b0b0b0" stroke-opacity="0.62" stroke-width="0.9"/>
<line x1="222.4" x2="222.4" y1="331.49" y2="421.49" stroke="#b0b0b0" stroke-opacity="0.62" stroke-width="0.9"/>
<line x1="278.2" x2="278.2" y1="331.49" y2="421.49" stroke="#b0b0b0" stroke-opacity="0.62" stroke-width="0.9"/>
<line x1="335.4" x2="335.4" y1="331.49" y2="421.49" stroke="#b0b0b0" stroke-opacity="0.62" stroke-width="0.9"/>
<polygon points="51.4,410.2 53.3,407.3 55.2,404.9 57.0,402.9 58.9,406.3 60.8,408.3 62.7,409.3 64.6,401.0 66.4,402.9 68.3,402.3 70.2,401.0 72.1,406.3 74.0,407.3 75.9,410.2 77.7,413.2 79.6,414.2 81.1,414.2 82.4,402.3 84.3,401.8 86.2,406.3 88.1,402.3 90.0,399.4 91.8,400.4 93.7,401.0 95.6,400.4 97.5,401.4 99.4,412.2 100.7,405.3 102.0,404.3 103.4,410.2 105.3,411.2 107.1,415.2 109.0,412.2 110.9,410.2 112.8,405.7 114.7,414.8 116.6,414.2 118.4,414.8 119.7,398.4 121.1,405.3 122.2,414.8 124.1,400.4 126.0,394.4 127.8,385.6 129.2,386.5 131.0,410.2 132.9,393.5 134.8,391.5 136.7,390.5 138.6,379.6 140.4,382.6 142.3,381.6 144.2,383.6 146.1,385.6 148.0,390.5 149.8,393.5 151.7,387.5 153.6,405.3 155.5,405.3 157.4,391.5 160.0,400.4 160.8,407.3 162.7,401.4 164.6,393.5 166.5,386.5 168.3,393.5 170.2,399.4 172.1,402.3 174.0,390.5 175.9,395.4 177.7,391.5 179.6,375.7 181.5,370.7 183.4,359.9 185.3,385.6 186.6,387.5 188.5,382.6 190.3,360.9 192.8,391.5 194.7,369.8 196.6,381.6 198.4,377.7 200.3,405.3 201.6,393.5 203.1,371.7 205.0,390.5 206.5,403.3 207.8,393.5 209.7,382.6 211.6,387.5 213.5,387.5 215.4,393.5 218.0,401.4 219.8,390.5 221.6,392.5 223.5,387.5 225.4,383.6 227.7,372.7 229.5,413.2 231.4,389.5 233.3,406.3 235.2,409.3 237.1,391.5 238.9,384.6 240.8,379.6 242.7,377.7 244.6,375.7 246.5,372.7 248.3,372.7 250.2,371.7 251.7,360.9 253.1,357.9 254.6,368.8 256.4,395.4 257.8,389.5 259.6,401.4 261.5,373.7 263.4,383.6 265.3,393.5 267.2,403.3 269.0,401.4 270.9,404.3 272.8,374.7 274.7,387.5 276.0,406.3 276.6,408.4 278.1,386.6 280.0,374.7 281.5,380.7 283.0,371.8 284.5,375.7 285.7,379.7 287.6,391.6 289.4,400.5 291.3,382.7 293.2,386.6 295.1,393.5 297.0,388.6 298.9,386.6 300.7,389.6 302.6,396.5 304.5,404.4 306.4,403.4 308.3,402.4 310.2,401.4 312.0,400.5 313.9,407.4 315.8,413.3 317.7,409.4 319.2,407.4 320.7,407.4 320.7,412.0 319.2,412.0 317.7,413.8 315.8,417.4 313.9,412.0 312.0,405.7 310.2,406.6 308.3,407.5 306.4,408.4 304.5,409.3 302.6,402.1 300.7,395.9 298.9,393.2 297.0,395.0 295.1,399.5 293.2,393.2 291.3,389.6 289.4,405.7 287.6,397.7 285.7,386.9 284.5,383.4 283.0,379.8 281.5,387.8 280.0,382.5 278.1,393.2 276.6,412.9 276.0,411.0 274.7,394.0 272.8,382.4 270.9,409.2 269.0,406.5 267.2,408.3 265.3,399.4 263.4,390.5 261.5,381.5 259.6,406.5 257.8,395.8 256.4,401.2 254.6,377.1 253.1,367.2 251.7,369.9 250.2,379.7 248.3,380.6 246.5,380.6 244.6,383.3 242.7,385.1 240.8,386.9 238.9,391.3 237.1,397.6 235.2,413.7 233.3,411.0 231.4,395.8 229.5,417.3 227.7,380.6 225.4,390.5 223.5,394.0 221.6,398.5 219.8,396.7 218.0,406.5 215.4,399.4 213.5,394.0 211.6,394.0 209.7,389.6 207.8,399.4 206.5,408.3 205.0,396.7 203.1,379.7 201.6,399.4 200.3,410.1 198.4,385.1 196.6,388.7 194.7,377.9 192.8,397.6 190.3,369.9 188.5,389.6 186.6,394.0 185.3,392.2 183.4,369.0 181.5,378.8 179.6,383.3 177.7,397.6 175.9,401.2 174.0,396.7 172.1,407.4 170.2,404.7 168.3,399.4 166.5,393.1 164.6,399.4 162.7,406.5 160.8,411.9 160.0,405.6 157.4,397.6 155.5,410.1 153.6,410.1 151.7,394.0 149.8,399.4 148.0,396.7 146.1,392.2 144.2,390.5 142.3,388.7 140.4,389.6 138.6,386.9 136.7,396.7 134.8,397.6 132.9,399.4 131.0,414.6 129.2,393.1 127.8,392.2 126.0,400.3 124.1,405.6 122.2,418.7 121.1,410.1 119.7,403.9 118.4,418.7 116.6,418.1 114.7,418.7 112.8,410.5 110.9,414.6 109.0,416.4 107.1,419.0 105.3,415.5 103.4,414.6 102.0,409.2 100.7,410.1 99.4,416.4 97.5,406.5 95.6,405.6 93.7,406.2 91.8,405.6 90.0,404.7 88.1,407.4 86.2,411.0 84.3,406.9 82.4,407.4 81.1,418.1 79.6,418.1 77.7,417.3 75.9,414.6 74.0,411.9 72.1,411.0 70.2,406.2 68.3,407.4 66.4,408.0 64.6,406.2 62.7,413.7 60.8,412.8 58.9,411.0 57.0,408.0 55.2,409.8 53.3,411.9 51.4,414.6" fill="#efb8b8" stroke="none"/>
<polyline points="51.4,415.2 53.3,414.3 55.2,412.4 57.0,412.4 58.9,411.8 60.8,411.1 62.7,411.5 64.6,411.1 66.4,410.5 68.3,408.6 70.2,406.8 72.1,405.5 74.0,405.8 75.9,409.6 77.7,410.5 79.6,407.7 81.5,410.5 83.4,404.9 85.3,403.9 87.1,406.8 89.0,404.9 90.9,406.2 92.8,406.8 94.7,405.8 96.5,403.9 98.4,405.8 100.3,407.7 102.0,408.6 103.8,408.6 105.6,406.8 107.5,407.7 109.4,405.8 111.3,404.9 113.2,405.5 115.0,401.1 116.9,398.3 118.8,396.4 120.3,391.7 122.2,405.8 124.1,399.2 126.0,402.1 127.8,396.4 129.7,394.5 131.6,403.0 133.5,396.4 135.4,394.5 137.2,390.8 139.1,388.9 141.0,394.5 142.9,395.5 144.8,392.7 146.6,389.8 148.5,388.0 150.4,388.9 151.7,386.1 153.6,401.1 155.5,402.1 157.4,389.8 160.0,387.0 160.8,400.2 162.7,396.4 164.6,395.5 166.5,388.9 168.3,388.0 170.2,389.8 172.1,396.4 174.0,391.7 175.9,394.5 177.7,388.0 179.6,386.1 181.5,388.0 183.4,376.7 185.3,386.1 187.2,383.3 189.0,384.2 190.9,380.4 192.8,382.3 194.7,388.9 196.6,381.4 198.4,384.2 200.3,387.0 202.2,376.7 204.1,385.1 206.0,388.0 207.8,385.1 209.7,383.3 211.6,381.4 213.5,382.3 215.4,389.8 218.0,394.5 219.8,389.8 221.6,388.0 223.9,379.5 225.8,388.9 227.7,374.8 229.5,390.8 231.4,378.6 233.3,392.7 235.2,389.8 237.1,385.1 238.9,380.4 240.8,376.7 242.7,378.6 244.6,380.4 246.5,377.6 248.3,374.8 250.2,375.7 252.1,372.9 254.0,376.7 255.9,382.3 257.8,383.3 259.6,392.7 261.5,380.4 263.4,374.8 265.3,379.5 267.2,388.0 269.0,387.0 270.9,396.4 272.8,383.3 274.7,380.4 276.0,389.8 276.6,400.3 278.1,385.2 280.0,380.5 281.9,382.4 283.8,379.5 285.7,385.2 287.6,390.8 289.4,395.6 291.3,388.0 293.2,391.8 295.1,392.7 297.0,390.8 298.9,389.9 300.7,390.8 302.6,394.6 304.5,398.4 306.4,397.4 308.3,398.4 310.2,396.5 311.7,394.6 313.5,403.1 315.4,405.9 317.3,404.0 319.2,402.1 321.1,398.4 323.0,401.2 324.8,405.0 326.7,404.0 328.6,403.1 330.1,413.4" fill="none" stroke="#5e5e5e" stroke-width="1.0" stroke-linejoin="round"/>
<polyline points="51.4,412.4 53.3,409.6 55.2,407.3 57.0,405.5 58.9,408.6 60.8,410.5 62.7,411.5 64.6,403.6 66.4,405.5 68.3,404.9 70.2,403.6 72.1,408.6 74.0,409.6 75.9,412.4 77.7,415.2 79.6,416.2 81.1,416.2 82.4,404.9 84.3,404.3 86.2,408.6 88.1,404.9 90.0,402.1 91.8,403.0 93.7,403.6 95.6,403.0 97.5,403.9 99.4,414.3 100.7,407.7 102.0,406.8 103.4,412.4 105.3,413.3 107.1,417.1 109.0,414.3 110.9,412.4 112.8,408.1 114.7,416.7 116.6,416.2 118.4,416.7 119.7,401.1 121.1,407.7 122.2,416.7 124.1,403.0 126.0,397.4 127.8,388.9 129.2,389.8 131.0,412.4 132.9,396.4 134.8,394.5 136.7,393.6 138.6,383.3 140.4,386.1 142.3,385.1 144.2,387.0 146.1,388.9 148.0,393.6 149.8,396.4 151.7,390.8 153.6,407.7 155.5,407.7 157.4,394.5 160.0,403.0 160.8,409.6 162.7,403.9 164.6,396.4 166.5,389.8 168.3,396.4 170.2,402.1 172.1,404.9 174.0,393.6 175.9,398.3 177.7,394.5 179.6,379.5 181.5,374.8 183.4,364.4 185.3,388.9 186.6,390.8 188.5,386.1 190.3,365.4 192.8,394.5 194.7,373.9 196.6,385.1 198.4,381.4 200.3,407.7 201.6,396.4 203.1,375.7 205.0,393.6 206.5,405.8 207.8,396.4 209.7,386.1 211.6,390.8 213.5,390.8 215.4,396.4 218.0,403.9 219.8,393.6 221.6,395.5 223.5,390.8 225.4,387.0 227.7,376.7 229.5,415.2 231.4,392.7 233.3,408.6 235.2,411.5 237.1,394.5 238.9,388.0 240.8,383.3 242.7,381.4 244.6,379.5 246.5,376.7 248.3,376.7 250.2,375.7 251.7,365.4 253.1,362.6 254.6,372.9 256.4,398.3 257.8,392.7 259.6,403.9 261.5,377.6 263.4,387.0 265.3,396.4 267.2,405.8 269.0,403.9 270.9,406.8 272.8,378.6 274.7,390.8 276.0,408.6 276.6,410.6 278.1,389.9 280.0,378.6 281.5,384.3 283.0,375.8 284.5,379.5 285.7,383.3 287.6,394.6 289.4,403.1 291.3,386.1 293.2,389.9 295.1,396.5 297.0,391.8 298.9,389.9 300.7,392.7 302.6,399.3 304.5,406.9 306.4,405.9 308.3,405.0 310.2,404.0 312.0,403.1 313.9,409.7 315.8,415.3 317.7,411.6 319.2,409.7 320.7,409.7" fill="none" stroke="#b22222" stroke-width="1.0" stroke-linejoin="round"/>
<line x1="237.0" x2="237.0" y1="331.49" y2="421.49" stroke="#6a6a6a" stroke-width="0.9" stroke-dasharray="2.0,1.35"/>
<rect x="42.5" y="331.49" width="304" height="90" fill="none" stroke="#747474" stroke-width="1.0"/>
<line x1="40.0" x2="42.5" y1="419.74" y2="419.74" stroke="#4a4a4a" stroke-width="0.85"/>
<text x="37.4" y="422.54" text-anchor="end">0</text>
<line x1="40.0" x2="42.5" y1="405.27" y2="405.27" stroke="#4a4a4a" stroke-width="0.85"/>
<text x="37.4" y="408.07" text-anchor="end">50</text>
<line x1="40.0" x2="42.5" y1="390.81" y2="390.81" stroke="#4a4a4a" stroke-width="0.85"/>
<text x="37.4" y="393.61" text-anchor="end">100</text>
<line x1="40.0" x2="42.5" y1="376.35" y2="376.35" stroke="#4a4a4a" stroke-width="0.85"/>
<text x="37.4" y="379.15" text-anchor="end">150</text>
<line x1="40.0" x2="42.5" y1="361.88" y2="361.88" stroke="#4a4a4a" stroke-width="0.85"/>
<text x="37.4" y="364.68" text-anchor="end">200</text>
<line x1="40.0" x2="42.5" y1="347.42" y2="347.42" stroke="#4a4a4a" stroke-width="0.85"/>
<text x="37.4" y="350.22" text-anchor="end">250</text>
<line x1="40.0" x2="42.5" y1="332.95" y2="332.95" stroke="#4a4a4a" stroke-width="0.85"/>
<text x="37.4" y="335.75" text-anchor="end">300</text>
<line x1="51.45" x2="51.45" y1="421.49" y2="423.99" stroke="#4a4a4a" stroke-width="0.85"/>
<text x="51.45" y="430.79" text-anchor="middle">2022-03</text>
<line x1="109.1" x2="109.1" y1="421.49" y2="423.99" stroke="#4a4a4a" stroke-width="0.85"/>
<text x="109.1" y="430.79" text-anchor="middle">2022-04</text>
<line x1="164.6" x2="164.6" y1="421.49" y2="423.99" stroke="#4a4a4a" stroke-width="0.85"/>
<text x="164.6" y="430.79" text-anchor="middle">2022-05</text>
<line x1="222.4" x2="222.4" y1="421.49" y2="423.99" stroke="#4a4a4a" stroke-width="0.85"/>
<text x="222.4" y="430.79" text-anchor="middle">2022-06</text>
<line x1="278.2" x2="278.2" y1="421.49" y2="423.99" stroke="#4a4a4a" stroke-width="0.85"/>
<text x="278.2" y="430.79" text-anchor="middle">2022-07</text>
<line x1="335.4" x2="335.4" y1="421.49" y2="423.99" stroke="#4a4a4a" stroke-width="0.85"/>
<text x="335.4" y="430.79" text-anchor="middle">2022-08</text>
</g>
<g>
<line x1="373.5" x2="474.5" y1="419.19" y2="419.19" stroke="#b0b0b0" stroke-opacity="0.62" stroke-width="0.9"/>
<line x1="380" x2="380" y1="331.49" y2="421.49" stroke="#b0b0b0" stroke-opacity="0.62" stroke-width="0.9"/>
<line x1="373.5" x2="474.5" y1="397.71" y2="397.71" stroke="#b0b0b0" stroke-opacity="0.62" stroke-width="0.9"/>
<line x1="402.62" x2="402.62" y1="331.49" y2="421.49" stroke="#b0b0b0" stroke-opacity="0.62" stroke-width="0.9"/>
<line x1="373.5" x2="474.5" y1="376.23" y2="376.23" stroke="#b0b0b0" stroke-opacity="0.62" stroke-width="0.9"/>
<line x1="425.24" x2="425.24" y1="331.49" y2="421.49" stroke="#b0b0b0" stroke-opacity="0.62" stroke-width="0.9"/>
<line x1="373.5" x2="474.5" y1="354.75" y2="354.75" stroke="#b0b0b0" stroke-opacity="0.62" stroke-width="0.9"/>
<line x1="447.86" x2="447.86" y1="331.49" y2="421.49" stroke="#b0b0b0" stroke-opacity="0.62" stroke-width="0.9"/>
<line x1="373.5" x2="474.5" y1="333.27" y2="333.27" stroke="#b0b0b0" stroke-opacity="0.62" stroke-width="0.9"/>
<line x1="470.48" x2="470.48" y1="331.49" y2="421.49" stroke="#b0b0b0" stroke-opacity="0.62" stroke-width="0.9"/>
<path d="M416.0 379.2h0M392.0 411.9h0M386.0 397.8h0M422.6 387.3h0M422.1 377.8h0M422.6 387.1h0M415.6 391.8h0M380.8 403.5h0M392.4 391.5h0M398.8 399.3h0M398.6 405.3h0M399.8 389.0h0M396.0 407.1h0M410.8 392.1h0M393.2 395.0h0M416.2 388.6h0M384.8 403.7h0M395.3 394.0h0M398.4 404.5h0M419.5 375.6h0M407.0 398.8h0M411.8 394.3h0M416.0 385.8h0M422.8 384.4h0M406.2 401.1h0M407.9 398.8h0M401.0 395.4h0M405.3 390.7h0M395.3 407.3h0M387.2 410.5h0M413.7 387.5h0M401.3 400.3h0M387.7 413.5h0M389.5 415.8h0M392.7 414.9h0M388.0 400.8h0M403.4 404.0h0M382.1 401.3h0M388.2 403.1h0M411.2 397.3h0M415.7 381.2h0M386.2 397.7h0M382.4 412.4h0M407.3 385.4h0M388.9 414.8h0M412.5 380.2h0M403.8 388.6h0M406.1 400.2h0M388.3 398.5h0M409.2 397.2h0M393.8 401.2h0M413.2 380.9h0M403.6 386.9h0M412.0 392.1h0M382.9 402.4h0M392.3 409.9h0M401.7 386.3h0M381.2 408.5h0M410.5 389.0h0M391.3 414.8h0M402.1 400.3h0M394.0 414.2h0M413.7 394.6h0M382.4 418.2h0M420.3 387.8h0M399.4 391.6h0M397.8 405.1h0M393.6 410.9h0M406.3 383.4h0M382.1 406.3h0M430.9 385.7h0M382.7 417.3h0M387.3 399.4h0M426.8 380.3h0M386.5 397.7h0M412.0 386.2h0M413.0 395.8h0M385.0 414.7h0M382.0 406.6h0M386.6 398.2h0M402.1 388.4h0M414.3 388.6h0M395.1 404.2h0M381.2 418.2h0M403.2 396.5h0M386.9 400.7h0M379.4 418.6h0M387.8 398.4h0M397.1 388.7h0M385.5 398.6h0M399.7 393.6h0M422.0 380.3h0M401.4 401.7h0M395.0 403.8h0M388.5 406.5h0M388.4 400.6h0M382.0 406.1h0M387.2 414.4h0M403.9 403.5h0M405.5 400.5h0M402.6 384.2h0M413.6 387.0h0M388.3 410.9h0M387.9 395.9h0M401.2 389.7h0M425.5 383.3h0M383.0 400.7h0M430.1 380.3h0M408.9 386.3h0M387.8 399.7h0M420.6 386.2h0M390.5 403.1h0M400.2 406.1h0M392.7 408.3h0M397.6 399.4h0M395.5 413.2h0M418.0 386.6h0M398.7 400.7h0M403.4 389.0h0M379.4 416.3h0M404.7 387.2h0M381.3 411.4h0M408.0 398.9h0M392.1 395.8h0M391.2 413.7h0M398.9 388.0h0M400.7 397.1h0M424.9 380.2h0M402.5 402.2h0M383.3 403.8h0M387.3 413.8h0M394.8 397.2h0M411.7 382.5h0M423.7 385.6h0M385.7 405.4h0M386.6 410.5h0M395.6 389.7h0M390.9 394.1h0M392.0 406.6h0M412.0 397.4h0M383.3 406.1h0M410.8 398.6h0M409.2 399.8h0M394.5 403.7h0M378.8 416.4h0M385.4 405.1h0M413.8 382.1h0M422.5 378.5h0M401.6 402.6h0M407.0 391.5h0M386.9 417.6h0M420.7 384.6h0M418.0 394.9h0M393.8 390.3h0M394.0 397.1h0M414.5 384.5h0M386.5 414.1h0M410.3 391.2h0M405.4 398.0h0M405.4 395.2h0M400.5 395.7h0M412.0 392.5h0M389.0 409.4h0M384.4 410.4h0M393.7 391.8h0M387.0 402.5h0M405.4 385.0h0M393.8 395.3h0M396.1 401.6h0M394.7 408.2h0M390.7 395.5h0M392.4 415.1h0M383.2 403.6h0M393.2 415.3h0M380.6 410.9h0M395.9 394.8h0M388.2 411.9h0M409.0 396.6h0M410.7 398.2h0M383.0 399.7h0M408.9 384.0h0M400.2 388.7h0M403.4 385.2h0M380.4 416.4h0M411.7 389.8h0M387.9 413.7h0M380.8 418.6h0M393.8 400.7h0M415.2 393.1h0M403.6 389.4h0M405.7 385.6h0M403.5 403.4h0M385.2 404.0h0M404.0 389.7h0M389.0 397.3h0M391.2 398.0h0M391.9 397.3h0M387.8 406.7h0M410.5 382.4h0M397.5 400.4h0M400.8 397.9h0M403.8 402.0h0M383.6 405.5h0M403.4 385.1h0M423.1 380.4h0M410.0 397.0h0M388.2 403.9h0M386.1 401.0h0M403.1 401.3h0M400.1 401.9h0M396.1 395.1h0M396.0 393.8h0M418.0 391.4h0M393.0 414.1h0M405.2 394.6h0M397.6 402.6h0M401.2 402.5h0M399.6 399.2h0M396.3 394.0h0M405.2 402.3h0M397.5 406.7h0M405.1 389.5h0M399.5 405.0h0M382.1 411.2h0M404.7 389.9h0M381.7 414.6h0M405.6 392.7h0M409.2 395.6h0M390.0 413.5h0M394.5 389.7h0M384.9 417.7h0M403.9 395.8h0M394.9 390.0h0M430.1 386.0h0M390.3 406.9h0M390.7 395.1h0M390.7 400.5h0M383.0 407.6h0M399.1 402.5h0M396.3 406.5h0M390.9 395.8h0M391.5 413.6h0M402.6 405.5h0M398.1 404.4h0M384.0 412.9h0M387.0 400.2h0M426.7 376.5h0M386.8 402.2h0M380.6 410.6h0M410.8 387.1h0M416.2 385.1h0M404.9 393.2h0M420.1 387.0h0M382.1 399.3h0M404.1 386.8h0M403.9 392.6h0M414.4 382.5h0M386.3 406.7h0M410.8 394.5h0M415.2 391.6h0M406.5 397.0h0M391.9 415.4h0M387.7 395.8h0M393.6 390.8h0M411.9 385.5h0M391.0 409.5h0M401.6 398.7h0M390.7 392.4h0M391.0 403.9h0M411.6 386.3h0M389.0 396.9h0M401.3 405.1h0M406.3 388.0h0M380.9 405.2h0M410.4 396.3h0M390.2 404.9h0M390.1 414.8h0M421.6 378.4h0M407.8 382.5h0M397.0 398.0h0M383.9 399.5h0M394.1 395.5h0M385.8 398.3h0M418.0 387.9h0M410.4 387.3h0M383.4 400.8h0M408.3 386.0h0M416.9 381.1h0M391.2 404.6h0M389.9 393.8h0M386.9 407.5h0M385.5 404.9h0M404.6 390.1h0M381.8 407.6h0M401.3 393.3h0M384.7 414.6h0M410.2 397.2h0M429.5 386.0h0M396.1 394.3h0M404.6 390.9h0M380.9 407.8h0M393.5 393.2h0M390.4 404.3h0M400.0 392.2h0M406.2 393.9h0M416.2 386.0h0M409.7 398.6h0M419.6 380.6h0M390.2 402.6h0M390.1 405.1h0M416.0 383.5h0M402.7 386.8h0M395.1 412.8h0M389.2 417.0h0M391.8 416.1h0M398.9 388.0h0M418.0 381.3h0M404.0 384.0h0M407.7 388.8h0M407.2 386.2h0M386.0 417.2h0M419.5 388.4h0M381.9 415.7h0M412.7 381.7h0M406.9 398.2h0M409.3 390.8h0M401.3 393.3h0M395.7 409.5h0M396.2 403.0h0M393.7 411.3h0M413.5 394.9h0M394.4 396.6h0M400.5 394.2h0M391.0 392.5h0M406.1 394.6h0M387.2 405.5h0M391.7 397.0h0M386.2 414.2h0M381.7 416.9h0M398.0 392.7h0M396.7 405.1h0M417.8 385.8h0M412.1 393.6h0M421.8 376.9h0M411.9 389.6h0M381.1 400.7h0M414.4 383.8h0M401.0 403.2h0M381.8 411.8h0M394.0 406.7h0M386.6 404.6h0M384.7 406.0h0M397.9 400.3h0M400.0 398.2h0M410.6 386.2h0M396.4 406.9h0M415.3 388.6h0M416.5 386.9h0M390.3 409.0h0M393.5 411.2h0M387.9 408.6h0M389.0 400.2h0M405.0 391.7h0M397.7 408.7h0M400.5 389.4h0M402.1 400.1h0M396.9 403.9h0M385.1 399.4h0M404.6 385.1h0M410.5 398.3h0M395.0 403.2h0M408.9 398.9h0M402.0 401.3h0M380.8 414.3h0M402.6 406.2h0M403.7 393.8h0M388.3 405.0h0M387.6 413.6h0M397.6 391.8h0M403.6 395.5h0M409.0 383.9h0M404.9 385.4h0M407.1 402.1h0M386.3 402.6h0M396.9 409.2h0M389.9 395.9h0M405.3 383.6h0M399.3 404.1h0M402.1 398.0h0M390.4 406.3h0M384.0 406.0h0M409.6 397.5h0M394.9 408.9h0M387.8 399.5h0M385.4 410.4h0M401.0 407.1h0M388.9 398.0h0M398.2 388.2h0M411.9 385.8h0M392.8 398.5h0M408.7 399.0h0M427.7 379.2h0M392.4 407.8h0M420.8 375.7h0M392.5 401.9h0M393.4 391.2h0M395.6 408.7h0M414.0 384.7h0M382.0 411.3h0M424.7 382.2h0M390.1 402.7h0M398.2 409.6h0M400.1 395.6h0M395.4 391.9h0M385.7 413.4h0M392.5 413.6h0M400.8 389.6h0M386.0 405.6h0M397.3 398.1h0M387.7 404.7h0M393.6 402.3h0M395.6 398.0h0M407.2 384.7h0M396.1 400.5h0M409.2 395.6h0M415.9 381.0h0M421.7 383.8h0M412.5 395.9h0M423.8 381.0h0M409.8 396.4h0M396.9 403.3h0M399.5 393.6h0M400.6 387.7h0M405.5 398.9h0M398.2 393.5h0M383.1 413.6h0M388.7 417.7h0M396.7 402.4h0M383.1 410.1h0M380.9 411.1h0M382.3 412.3h0M396.1 392.0h0M389.6 405.1h0M398.9 388.0h0M405.1 388.1h0M391.7 391.2h0M398.4 403.9h0M424.1 385.5h0M397.0 406.4h0M411.1 385.0h0M385.1 405.7h0M395.5 389.6h0M383.6 416.9h0M395.2 396.5h0M425.7 381.7h0M404.3 391.4h0M409.3 389.8h0M407.1 396.7h0M412.2 385.3h0M400.4 398.3h0M412.7 395.4h0M413.0 394.6h0M403.0 392.0h0M384.8 410.2h0M386.1 403.3h0M398.0 392.7h0M387.9 405.8h0M390.7 397.1h0M406.5 391.8h0M401.2 404.9h0M420.3 375.3h0M381.9 402.6h0M392.6 398.3h0M407.0 398.2h0M407.2 390.1h0M385.5 416.1h0M404.1 389.3h0M385.3 414.5h0M382.2 406.6h0M409.9 387.8h0M399.5 396.8h0M408.1 383.9h0M400.3 403.4h0M398.4 393.2h0M391.5 409.3h0M388.1 395.9h0M386.0 410.8h0M387.5 402.9h0M421.6 379.4h0M400.2 391.4h0M393.6 401.2h0M430.9 383.2h0M391.1 399.4h0M415.5 381.5h0M388.0 399.5h0M380.8 404.7h0M384.2 408.0h0M392.5 402.9h0M419.5 381.9h0M384.5 400.7h0M388.5 404.4h0M396.5 401.0h0M401.1 402.0h0M392.5 399.7h0M421.9 386.1h0M400.2 403.6h0M403.5 388.0h0M380.0 414.3h0M401.1 395.5h0M383.0 404.1h0M379.7 418.5h0M418.5 378.5h0M430.0 377.8h0M389.8 399.0h0M405.1 391.2h0M404.7 396.1h0M408.9 395.6h0M416.9 387.1h0M390.7 406.2h0M404.3 384.4h0M413.2 386.7h0M389.1 416.8h0M430.3 377.8h0M412.3 384.9h0M387.9 408.2h0M392.2 405.7h0M399.1 405.4h0M413.6 388.2h0M401.6 395.0h0M387.8 413.1h0M391.5 415.3h0M390.9 404.5h0M413.4 393.5h0M399.3 397.5h0M383.2 399.2h0M397.0 400.2h0M408.2 394.5h0M426.3 381.0h0M413.6 391.4h0M380.4 419.1h0M404.2 392.0h0M383.1 410.4h0M381.2 404.0h0M411.9 381.7h0M382.7 414.8h0M389.1 407.6h0M383.0 412.6h0M394.7 394.0h0M402.0 389.7h0M403.9 402.2h0M395.2 391.6h0M403.0 396.1h0M386.1 401.3h0M408.8 390.5h0M428.9 381.3h0M380.0 418.2h0M420.9 383.0h0M385.0 400.8h0M400.7 398.5h0M391.8 396.9h0M416.8 393.3h0M416.9 383.4h0M409.6 393.7h0M401.4 392.1h0M383.2 409.5h0M392.6 407.3h0M384.1 417.6h0M408.3 391.5h0M423.1 375.5h0M415.0 386.0h0M417.7 383.0h0M427.9 380.3h0M420.3 380.1h0M379.4 415.6h0M423.5 381.9h0M390.9 406.9h0M386.2 399.6h0M419.8 379.9h0M394.1 391.9h0M386.7 402.1h0M387.9 413.7h0M401.6 400.2h0M422.1 379.4h0M403.6 390.6h0M382.8 406.2h0M424.9 376.6h0M382.2 407.6h0M395.5 405.4h0M383.9 404.8h0M382.4 416.1h0M396.3 405.9h0M382.6 414.2h0M414.3 387.8h0M402.8 398.6h0M393.4 400.9h0M425.8 377.3h0M403.4 401.5h0M380.1 411.5h0M389.5 417.3h0M397.5 391.5h0M381.5 405.4h0M409.5 388.3h0M381.7 418.1h0M380.4 403.9h0M395.3 389.3h0M393.1 406.6h0M397.6 396.6h0M383.3 415.3h0M423.3 383.3h0M391.3 399.7h0M387.0 399.5h0M395.8 390.5h0M409.1 389.2h0M388.3 399.7h0M408.9 387.7h0M397.7 408.9h0M381.7 402.6h0M387.8 404.9h0M389.8 404.7h0M398.2 388.0h0M380.5 408.2h0M389.1 398.7h0M389.3 407.5h0M396.3 391.8h0M408.2 384.5h0M402.9 403.1h0M395.4 399.3h0M395.2 388.8h0M419.8 382.8h0M410.5 388.5h0M418.1 378.4h0M398.7 390.7h0M395.7 404.9h0M402.6 405.0h0M403.5 388.0h0M402.6 398.9h0M401.2 403.3h0M382.0 404.6h0M382.6 407.7h0M400.6 399.4h0M394.7 404.7h0M411.2 385.7h0M411.5 384.3h0M418.6 388.6h0M418.5 387.3h0M394.1 403.1h0M389.1 409.2h0M384.3 403.0h0M390.5 414.5h0M415.4 386.4h0M411.5 388.3h0M407.1 394.7h0M387.2 407.5h0M401.0 390.5h0M411.4 394.9h0M384.7 403.2h0M384.6 413.8h0M400.9 401.7h0M398.8 401.0h0M385.7 416.4h0M396.7 402.4h0M379.6 414.9h0M420.5 376.4h0M396.7 400.2h0M410.3 385.2h0M405.0 391.9h0M394.2 397.3h0M383.1 400.2h0M400.2 403.3h0M413.6 386.5h0M419.8 376.6h0M391.7 415.7h0M418.4 384.4h0M391.4 415.2h0M401.2 402.1h0M402.6 399.2h0M407.9 386.6h0M399.1 388.1h0M402.3 404.3h0M406.1 401.4h0M394.7 407.8h0M410.2 387.7h0M426.2 377.5h0M387.7 408.6h0M392.7 396.7h0M398.9 409.0h0M387.2 396.5h0M391.0 399.9h0M391.0 412.2h0M394.2 413.0h0M400.9 396.0h0M408.2 393.5h0M389.8 410.6h0M414.5 394.1h0M402.2 388.2h0M422.9 376.8h0M388.7 414.2h0M381.3 418.8h0M418.6 389.5h0M403.4 386.0h0M424.7 379.5h0M387.3 411.7h0M410.1 384.1h0M409.0 391.0h0M396.1 406.9h0M425.0 383.5h0M397.0 406.9h0M410.0 384.3h0M425.5 381.0h0M399.7 394.2h0M386.0 399.7h0M413.8 386.0h0M386.5 397.8h0M388.7 411.0h0M384.7 412.8h0M395.9 402.4h0M390.0 412.9h0M416.0 392.5h0M401.5 403.0h0M400.1 401.6h0M388.5 396.8h0M415.1 382.3h0M408.7 381.7h0M412.0 381.9h0M414.5 394.7h0M385.3 407.8h0M390.3 405.7h0M403.7 393.5h0M401.1 407.1h0M390.5 403.3h0M412.3 397.5h0M399.5 393.5h0M423.7 384.2h0M411.8 389.6h0M387.7 400.5h0M394.0 402.7h0M390.2 406.5h0M412.9 379.2h0M387.8 395.5h0M415.2 390.8h0M416.1 389.2h0M411.2 393.5h0M383.0 407.0h0M389.2 400.8h0M383.0 402.8h0M394.6 402.5h0M384.1 402.1h0M409.8 393.1h0M401.6 391.0h0M408.4 383.8h0M396.7 388.6h0M404.2 384.8h0M391.4 399.0h0M398.6 389.3h0M399.1 394.4h0M402.9 384.0h0M394.3 408.9h0M405.0 383.8h0M384.5 413.5h0M395.9 403.3h0M388.4 400.8h0M394.4 401.2h0M396.8 410.8h0M409.4 381.8h0M410.6 380.7h0M384.3 399.3h0M382.1 412.2h0M379.3 415.8h0M398.6 397.3h0M382.5 418.9h0M395.4 398.0h0M398.4 387.4h0M380.4 406.8h0M402.6 389.5h0M396.9 396.7h0M392.8 406.1h0M386.2 416.1h0M406.0 385.1h0M399.3 401.9h0M401.3 397.2h0M417.2 381.3h0M418.6 386.5h0M422.1 388.0h0M386.3 397.5h0M389.6 412.7h0M380.9 413.5h0M397.9 387.5h0M404.0 386.0h0M396.4 408.0h0M409.0 396.8h0M409.9 394.5h0M427.6 382.2h0M411.2 388.4h0M397.3 409.4h0M419.3 387.0h0M384.7 405.0h0M401.3 394.6h0M398.1 404.4h0M385.0 410.7h0M420.8 383.3h0M389.9 406.4h0M424.2 382.7h0M392.5 399.4h0M401.0 385.3h0M413.3 380.9h0M400.9 386.2h0M387.2 409.8h0M415.9 387.4h0M429.4 382.5h0M395.0 401.0h0M403.6 388.6h0M399.9 404.8h0M404.1 392.6h0M419.9 381.2h0M402.7 405.3h0M403.2 390.2h0M381.8 400.2h0M406.5 397.4h0M385.9 417.1h0M410.8 388.7h0M417.3 387.5h0M409.0 399.0h0M399.8 389.0h0M407.6 391.6h0M418.4 381.7h0M395.7 406.5h0M405.9 396.6h0M405.5 403.1h0M419.7 383.5h0M387.9 415.7h0M403.9 399.4h0M403.6 385.5h0M382.1 412.6h0M401.9 391.8h0M403.7 401.5h0M418.4 379.4h0M383.5 409.8h0M385.1 400.0h0M393.9 408.1h0M408.9 388.1h0M394.3 394.2h0M402.4 398.4h0M391.3 412.8h0M402.8 401.4h0M396.6 397.6h0M410.0 393.8h0M423.8 384.7h0M384.7 398.2h0M389.2 407.2h0M414.2 389.3h0M425.9 377.7h0M404.0 389.0h0M422.3 381.6h0M382.5 406.9h0M381.6 411.7h0M410.8 393.4h0M391.8 405.6h0M395.7 407.1h0M388.8 408.4h0M379.3 414.9h0M400.6 397.0h0M412.0 393.5h0M379.2 416.7h0M385.3 415.2h0M382.1 406.5h0M407.9 393.0h0M384.5 402.5h0M413.8 381.6h0M402.1 396.0h0M402.4 389.1h0M410.3 391.5h0M393.6 408.1h0M421.7 383.3h0M394.9 391.7h0M395.9 393.4h0M406.7 387.9h0M414.3 386.7h0M411.4 394.0h0M400.7 386.5h0M412.3 389.6h0M416.1 386.0h0M396.9 390.8h0M384.4 414.5h0M401.8 395.0h0M403.1 397.2h0M402.8 386.3h0M407.4 392.0h0M415.4 393.9h0M394.0 400.7h0M393.6 394.2h0M396.1 391.2h0M402.5 386.7h0M411.8 394.5h0M405.1 401.3h0M388.8 395.5h0M426.6 377.2h0M410.1 380.5h0M405.9 383.9h0M386.4 401.0h0M409.1 396.3h0M392.3 409.6h0M410.0 395.7h0M398.8 387.9h0M417.1 378.5h0M396.4 398.0h0M405.8 391.5h0M415.5 390.2h0M405.9 385.4h0M390.8 406.6h0M408.2 400.3h0M390.4 414.9h0M400.7 395.6h0M411.8 397.8h0M404.9 390.3h0M382.0 412.5h0M410.7 379.8h0M393.3 412.8h0M382.7 403.8h0M407.3 392.2h0M402.8 400.0h0M391.3 401.6h0M405.3 389.7h0M415.3 382.2h0M413.9 395.8h0M381.2 414.4h0M426.4 376.3h0M414.6 390.1h0M408.7 394.6h0M413.5 381.8h0M390.3 400.0h0M394.9 402.7h0M396.3 400.8h0M414.5 388.0h0M394.0 399.6h0M408.0 388.8h0M400.4 395.7h0M391.9 395.0h0M392.7 409.0h0M393.2 401.7h0M419.7 380.1h0M416.3 390.7h0M386.9 398.9h0M421.9 383.5h0M392.3 413.9h0M406.2 394.8h0M424.6 379.9h0M415.9 389.1h0M399.7 388.2h0M379.3 413.1h0M392.9 411.9h0M398.8 404.5h0M396.1 395.1h0M416.3 393.0h0M416.5 387.4h0M411.6 389.3h0M406.5 392.7h0M402.1 395.3h0M410.8 397.0h0M416.3 378.7h0M405.0 401.5h0M386.1 417.7h0M386.9 413.7h0M425.3 376.5h0M389.9 405.2h0M382.7 414.2h0M401.3 397.3h0M406.9 386.5h0M406.4 396.0h0M396.8 399.6h0M387.9 398.6h0M385.0 405.2h0M387.1 410.5h0M405.2 402.1h0M403.1 394.2h0M401.1 390.8h0M405.6 386.9h0M391.9 407.4h0M405.9 392.9h0M406.7 400.0h0M403.4 399.5h0M418.3 383.8h0M393.1 399.7h0M401.1 388.8h0M399.9 393.2h0M407.4 394.7h0M408.7 394.1h0M394.4 399.5h0M392.2 394.0h0M396.0 405.2h0M408.6 382.0h0M414.2 392.5h0M409.7 396.9h0M405.1 394.4h0M402.3 402.9h0M399.3 404.6h0M395.7 402.9h0M386.2 397.6h0M392.4 393.7h0M413.5 382.7h0M410.0 387.7h0M392.7 400.0h0M404.6 395.7h0M425.1 379.4h0M391.7 406.2h0M386.9 415.5h0M410.1 395.5h0M380.2 410.4h0M399.7 388.9h0M386.9 411.6h0M391.2 406.1h0M384.8 413.6h0M385.1 397.7h0M421.0 376.5h0M387.0 415.9h0M384.1 418.1h0M390.3 402.5h0M419.5 388.5h0M408.4 388.1h0M380.6 404.4h0M400.4 407.3h0M393.5 413.4h0M415.5 380.5h0M413.7 392.7h0M402.3 390.8h0M385.3 400.8h0M390.7 405.8h0M384.9 412.2h0M412.2 395.2h0M416.5 387.2h0M409.8 391.6h0M410.6 381.3h0M391.0 400.2h0M382.2 418.9h0M416.2 383.6h0M385.7 415.3h0M411.7 387.2h0M388.8 402.6h0M403.0 401.2h0M423.2 383.1h0M396.1 396.8h0M413.6 399.4h0M392.3 408.2h0M383.0 408.4h0M395.9 390.9h0M413.7 391.2h0M399.0 386.5h0M406.6 386.9h0M398.1 394.5h0M398.3 400.5h0M398.3 400.4h0M412.7 396.7h0M414.4 382.7h0M416.1 385.2h0M410.1 384.1h0M402.6 393.0h0M393.5 407.2h0M407.3 397.4h0M393.1 390.4h0M410.6 388.6h0M381.6 405.9h0M399.7 390.6h0M397.9 401.1h0M397.5 397.2h0M380.0 408.5h0M425.1 388.5h0M414.9 383.6h0M412.6 393.4h0M412.5 385.7h0M390.3 414.1h0M405.0 397.9h0M409.7 393.7h0M413.2 379.3h0M403.6 396.3h0M391.2 403.5h0M381.3 405.3h0M392.8 408.8h0M411.6 385.8h0M383.7 416.2h0M406.4 389.8h0M389.5 397.3h0M409.3 387.9h0M390.2 414.7h0M389.4 400.6h0M394.3 399.1h0M401.2 388.5h0M414.5 392.9h0M415.4 395.3h0M413.7 380.8h0M384.5 401.8h0M405.4 399.8h0M402.0 401.7h0M386.3 400.8h0M384.7 402.9h0M388.8 400.8h0M401.0 396.3h0M388.0 409.4h0M420.6 385.2h0M381.0 408.3h0M392.5 392.3h0M417.1 377.0h0M403.1 396.1h0M414.6 381.8h0M412.5 388.7h0M403.1 392.6h0M409.2 384.1h0M402.8 404.5h0M412.4 388.1h0M385.6 408.9h0M395.3 395.9h0M384.4 418.3h0M417.8 380.2h0M382.8 417.2h0M397.4 401.9h0M396.2 411.3h0M412.1 384.0h0M421.2 390.4h0M392.6 396.9h0M383.9 400.8h0M398.2 402.1h0M400.8 399.2h0M384.5 407.5h0M423.7 381.4h0M397.8 388.5h0M388.5 413.6h0M423.4 388.4h0M399.4 408.6h0M398.0 399.9h0M385.6 413.8h0M388.4 397.6h0M393.5 397.2h0M392.7 395.1h0M414.5 379.4h0M385.7 411.0h0M411.4 393.9h0M402.5 391.1h0M382.6 417.0h0M425.2 380.9h0M394.1 398.4h0M407.6 383.7h0M421.5 387.2h0M380.5 410.5h0M398.5 389.9h0M396.0 409.6h0M390.6 400.2h0M387.5 409.8h0M406.6 399.3h0M394.5 410.5h0M406.6 402.1h0M407.2 394.0h0M385.3 409.2h0M399.3 396.5h0M388.1 416.1h0M401.7 385.9h0M387.0 410.9h0M412.0 380.7h0M399.4 394.4h0M424.7 381.7h0M407.9 389.5h0M407.3 386.8h0M397.8 387.9h0M386.3 403.2h0M389.4 417.0h0M387.1 400.0h0M382.3 412.5h0M418.0 382.9h0M396.9 405.9h0M411.0 383.4h0M408.3 394.6h0M395.8 408.0h0M402.2 403.8h0M397.8 401.4h0M416.8 383.2h0M426.2 377.2h0M392.9 391.5h0M414.2 389.5h0M396.8 403.9h0M390.2 411.6h0M404.3 388.7h0M415.2 388.2h0M410.6 391.6h0M419.3 379.2h0M414.7 386.0h0M416.7 382.3h0M444.4 374.9h0M446.7 372.1h0M436.4 384.1h0M433.0 387.6h0M434.7 372.1h0M411.1 372.6h0M409.9 374.0h0M411.9 372.6h0M386.6 388.0h0M384.0 394.0h0M387.3 391.9h0M413.9 377.3h0M440.0 377.0h0M442.5 376.0h0M426.0 373.0h0M430.0 373.5h0" stroke="#808080" stroke-width="2.4" stroke-linecap="round" fill="none"/>
<line x1="380" y1="419.19" x2="470.48" y2="333.27" stroke="#111" stroke-width="1.3"/>
<line x1="380" y1="419.19" x2="447.63" y2="356.12" stroke="#b22222" stroke-width="1.05"/>
<text x="381.2" y="342.09">RMSE = 50.21</text>
<text x="381.2" y="352.09"><tspan font-style="italic">ρ</tspan> = 0.91</text>
<text x="441.1" y="409.39" style="fill:#c03838;stroke:#c03838;stroke-width:0.06px"><tspan font-style="italic">β</tspan> = 0.97</text>
<text x="441.1" y="418.19" style="fill:#c03838;stroke:#c03838;stroke-width:0.06px">p = 0.0</text>
<rect x="373.5" y="331.49" width="101" height="90" fill="none" stroke="#747474" stroke-width="1.0"/>
<line x1="371.0" x2="373.5" y1="419.19" y2="419.19" stroke="#4a4a4a" stroke-width="0.85"/>
<text x="368.9" y="421.89" text-anchor="end">0</text>
<line x1="380" x2="380" y1="421.49" y2="423.99" stroke="#4a4a4a" stroke-width="0.85"/>
<text x="380" y="430.79" text-anchor="middle">0</text>
<line x1="371.0" x2="373.5" y1="397.71" y2="397.71" stroke="#4a4a4a" stroke-width="0.85"/>
<text x="368.9" y="400.41" text-anchor="end">200</text>
<line x1="402.62" x2="402.62" y1="421.49" y2="423.99" stroke="#4a4a4a" stroke-width="0.85"/>
<text x="402.62" y="430.79" text-anchor="middle">200</text>
<line x1="371.0" x2="373.5" y1="376.23" y2="376.23" stroke="#4a4a4a" stroke-width="0.85"/>
<text x="368.9" y="378.93" text-anchor="end">400</text>
<line x1="425.24" x2="425.24" y1="421.49" y2="423.99" stroke="#4a4a4a" stroke-width="0.85"/>
<text x="425.24" y="430.79" text-anchor="middle">400</text>
<line x1="371.0" x2="373.5" y1="354.75" y2="354.75" stroke="#4a4a4a" stroke-width="0.85"/>
<text x="368.9" y="357.45" text-anchor="end">600</text>
<line x1="447.86" x2="447.86" y1="421.49" y2="423.99" stroke="#4a4a4a" stroke-width="0.85"/>
<text x="447.86" y="430.79" text-anchor="middle">600</text>
<line x1="371.0" x2="373.5" y1="333.27" y2="333.27" stroke="#4a4a4a" stroke-width="0.85"/>
<text x="368.9" y="335.97" text-anchor="end">800</text>
<line x1="470.48" x2="470.48" y1="421.49" y2="423.99" stroke="#4a4a4a" stroke-width="0.85"/>
<text x="470.48" y="430.79" text-anchor="middle">800</text>
</g>
<g>
<rect x="302.2" y="9.4" width="41.4" height="20.1" rx="1.5" fill="#fff" fill-opacity="0.8" stroke="#d8d8d8" stroke-width="0.7"/>
<line x1="304" x2="317.5" y1="14.4" y2="14.4" stroke="#6e6e6e" stroke-width="0.9"/>
<line x1="304" x2="317.5" y1="23.4" y2="23.4" stroke="#dc8c8c" stroke-width="1.6"/>
<text x="322.1" y="16.6">model</text>
<text x="322.1" y="26.0">data</text>
</g>
<text transform="translate(11.3,219.7) rotate(-90)" text-anchor="middle" style="font-size:6.65px">Daily LE (W m<tspan font-size="5" dy="-2.5">-2</tspan><tspan dy="2.5">)</tspan></text>
<text transform="translate(493.7,217.9) rotate(-90)" text-anchor="middle" style="font-size:6.65px">Hourly LE (W m<tspan font-size="5" dy="-2.5">-2</tspan><tspan dy="2.5">)</tspan></text>
</svg>
</body></html>
